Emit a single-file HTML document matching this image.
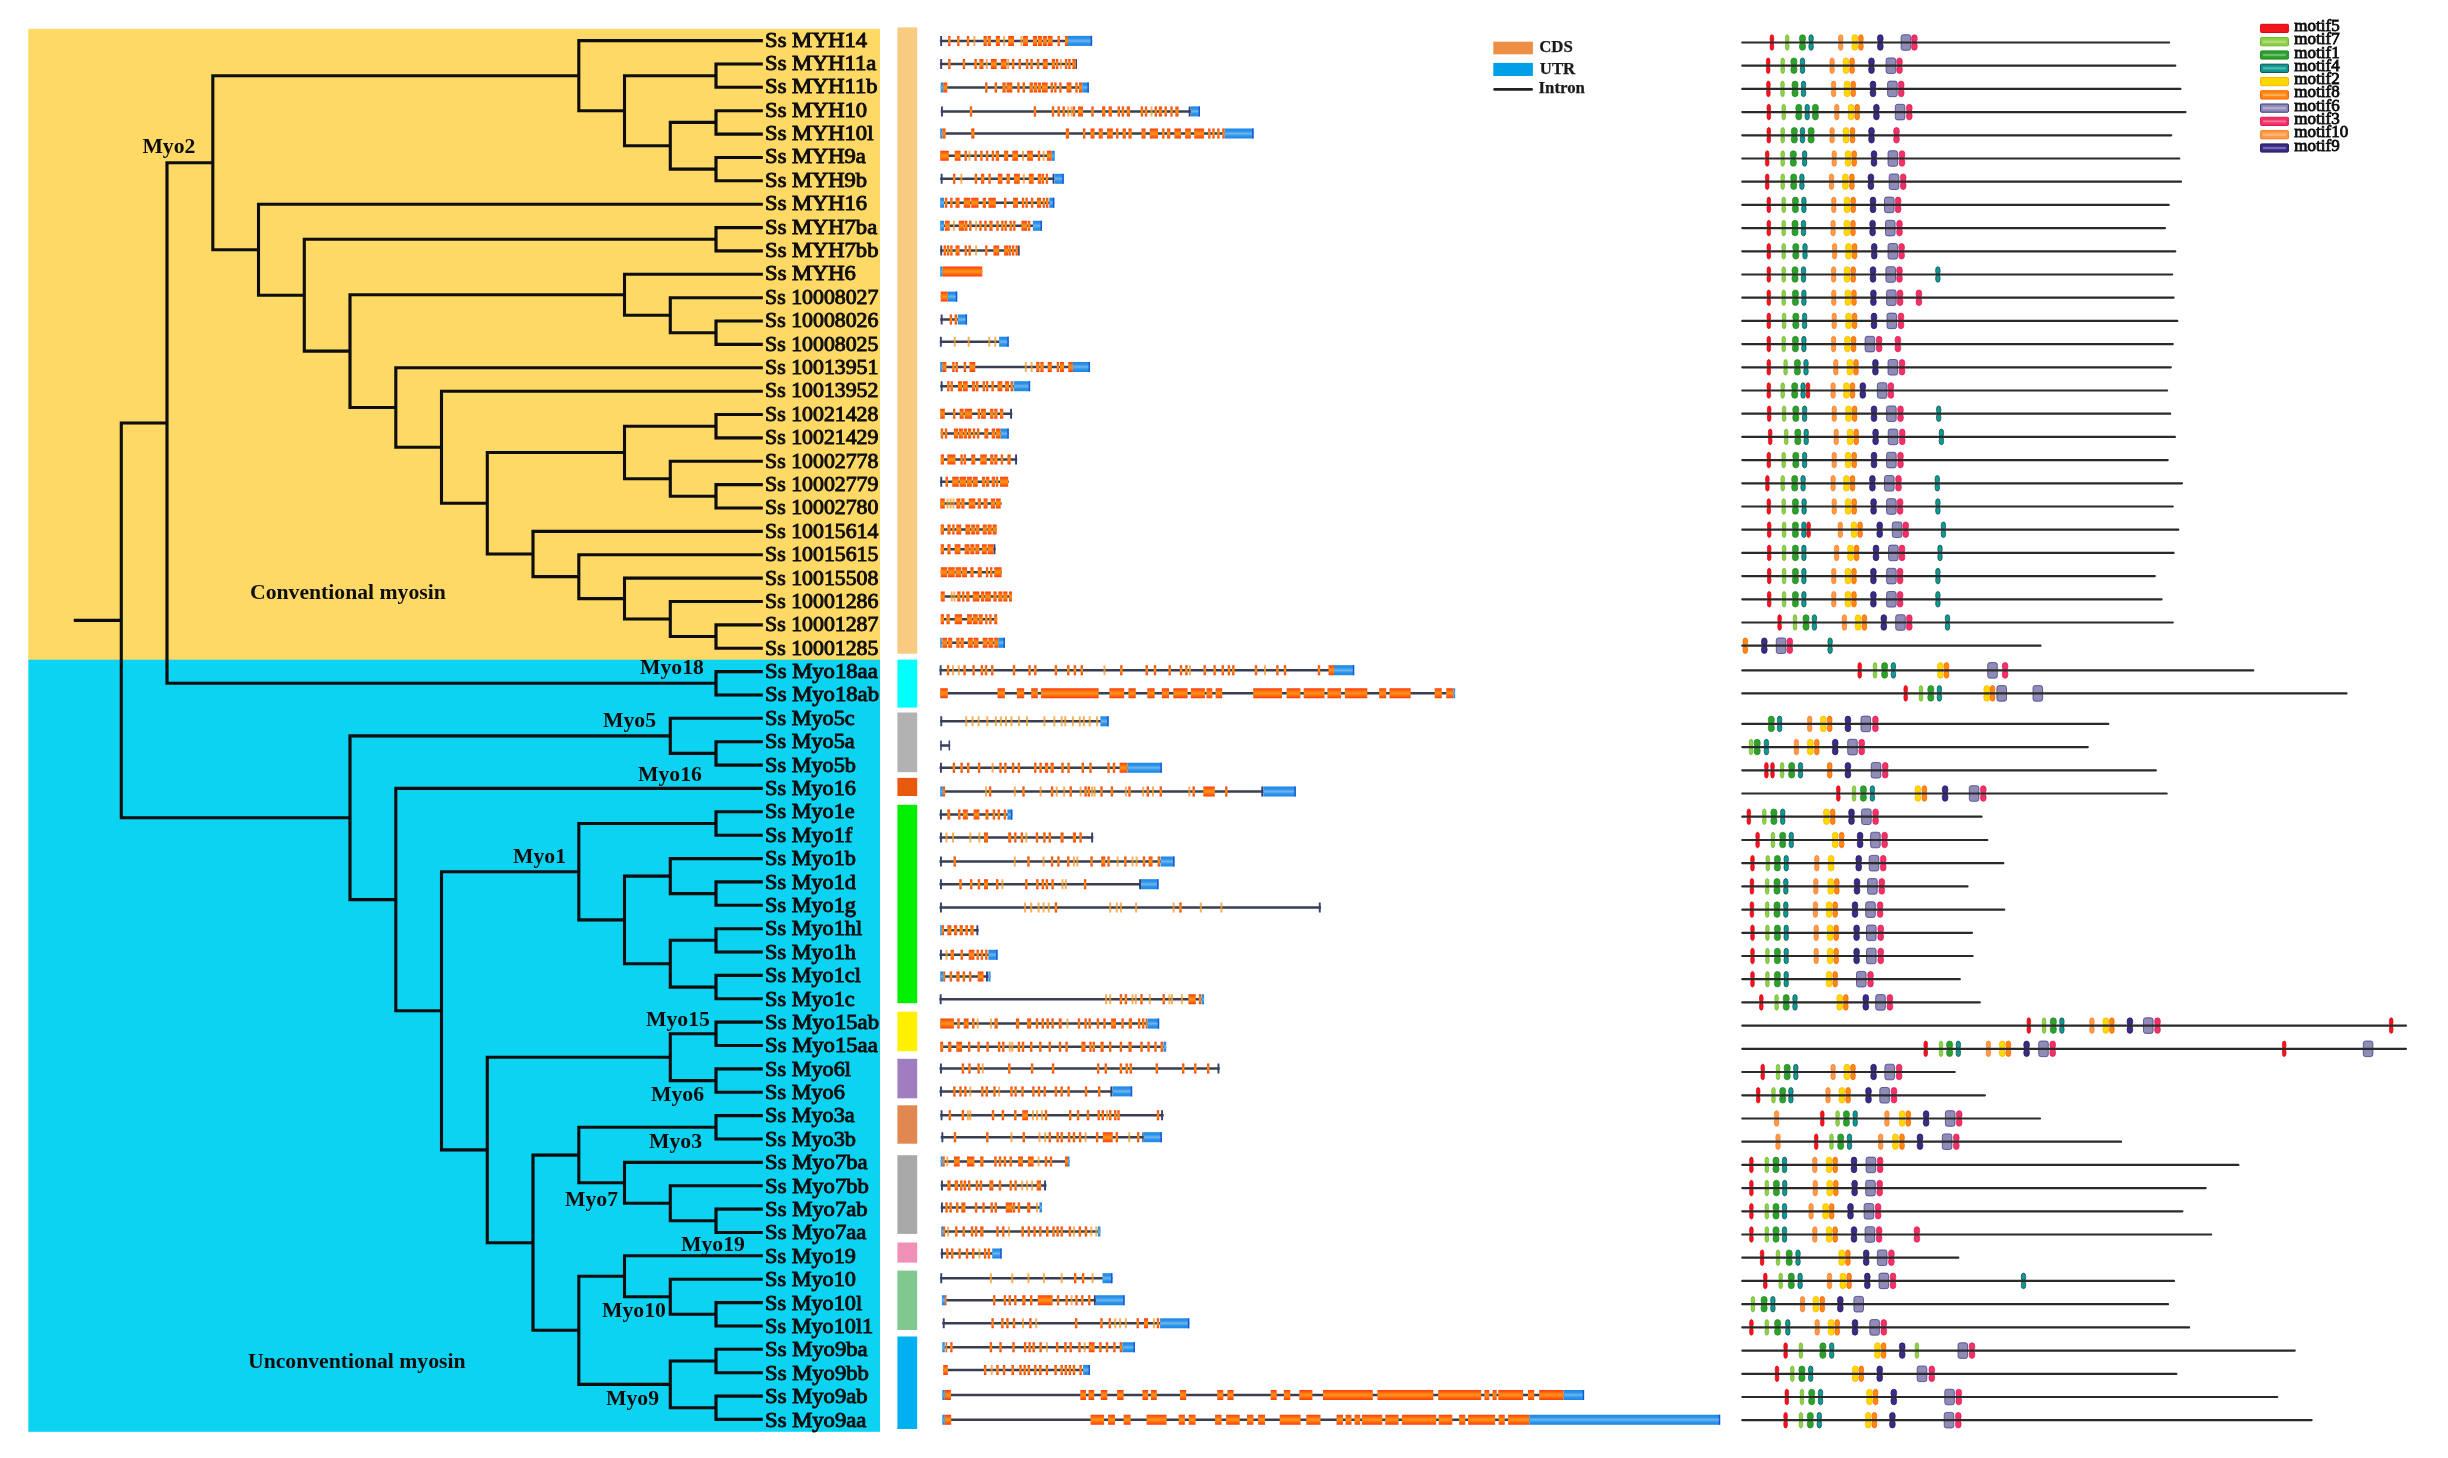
<!DOCTYPE html>
<html lang="en"><head><meta charset="utf-8"><title>Myosin phylogeny, gene structure and motifs</title><style>html,body{margin:0;padding:0;background:#fff}svg{display:block}</style></head><body>
<svg width="2448" height="1458" viewBox="0 0 2448 1458">
<defs><filter id="b1" x="-2%" y="-2%" width="104%" height="104%"><feGaussianBlur stdDeviation="0.7"/></filter><filter id="b2" x="-2%" y="-2%" width="104%" height="104%"><feGaussianBlur stdDeviation="0.55"/></filter><filter id="b3" x="-2%" y="-2%" width="104%" height="104%"><feGaussianBlur stdDeviation="0.45"/></filter><linearGradient id="gc" x1="0" y1="0" x2="0" y2="1"><stop offset="0" stop-color="#ff3a0c"/><stop offset="0.3" stop-color="#ff7410"/><stop offset="0.5" stop-color="#f79418"/><stop offset="0.7" stop-color="#ff7410"/><stop offset="1" stop-color="#ff3a0c"/></linearGradient><linearGradient id="gf" x1="0" y1="0" x2="0" y2="1"><stop offset="0" stop-color="#ff9a30"/><stop offset="0.5" stop-color="#f0a028"/><stop offset="1" stop-color="#ff9a30"/></linearGradient><linearGradient id="gu" x1="0" y1="0" x2="0" y2="1"><stop offset="0" stop-color="#1b84e6"/><stop offset="0.28" stop-color="#2f96ea"/><stop offset="0.5" stop-color="#70b5ee"/><stop offset="0.72" stop-color="#2f96ea"/><stop offset="1" stop-color="#1b84e6"/></linearGradient></defs>
<rect width="2448" height="1458" fill="#fff"/>
<g filter="url(#b3)">
<rect x="28.3" y="28.8" width="851.7" height="631.5" fill="#ffd966"/>
<rect x="28.3" y="659.7" width="851.7" height="772.1" fill="#0bd3f3"/>
<rect x="897.4" y="27.4" width="19.8" height="626.3" fill="#f8cb80"/>
<rect x="897.4" y="659.6" width="19.8" height="48" fill="#00ffff"/>
<rect x="897.4" y="712.5" width="19.8" height="59.7" fill="#b2b2b2"/>
<rect x="897.4" y="777.9" width="19.8" height="18.1" fill="#e8590c"/>
<rect x="897.4" y="804.8" width="19.8" height="198.4" fill="#00f000"/>
<rect x="897.4" y="1011.7" width="19.8" height="39.5" fill="#fff100"/>
<rect x="897.4" y="1058.8" width="19.8" height="39.5" fill="#a07dbe"/>
<rect x="897.4" y="1105.3" width="19.8" height="38.4" fill="#e08850"/>
<rect x="897.4" y="1155.2" width="19.8" height="78.7" fill="#a8a8a8"/>
<rect x="897.4" y="1242.5" width="19.8" height="20.1" fill="#f090b8"/>
<rect x="897.4" y="1270.6" width="19.8" height="59.4" fill="#80c890"/>
<rect x="897.4" y="1336.5" width="19.8" height="92.5" fill="#00b0f0"/>
</g>
<g stroke="#0a0a0a" stroke-width="3.1" stroke-linecap="square" fill="none" filter="url(#b3)">
<path d="M716 64L716 87.3M716 64L761.3 64M716 87.3L761.3 87.3M716 110.7L716 134.1M716 110.7L761.3 110.7M716 134.1L761.3 134.1M716 157.5L716 180.8M716 157.5L761.3 157.5M716 180.8L761.3 180.8M670.3 122.4L670.3 169.1M670.3 122.4L716 122.4M670.3 169.1L716 169.1M624.5 75.7L624.5 145.8M624.5 75.7L716 75.7M624.5 145.8L670.3 145.8M578.8 40.6L578.8 110.7M578.8 40.6L761.3 40.6M578.8 110.7L624.5 110.7M716 227.6L716 250.9M716 227.6L761.3 227.6M716 250.9L761.3 250.9M716 321L716 344.4M716 321L761.3 321M716 344.4L761.3 344.4M670.3 297.7L670.3 332.7M670.3 297.7L761.3 297.7M670.3 332.7L716 332.7M624.5 274.3L624.5 315.2M624.5 274.3L761.3 274.3M624.5 315.2L670.3 315.2M716 414.5L716 437.9M716 414.5L761.3 414.5M716 437.9L761.3 437.9M716 484.6L716 508M716 484.6L761.3 484.6M716 508L761.3 508M670.3 461.3L670.3 496.3M670.3 461.3L761.3 461.3M670.3 496.3L716 496.3M624.5 426.2L624.5 478.8M624.5 426.2L716 426.2M624.5 478.8L670.3 478.8M716 624.9L716 648.2M716 624.9L761.3 624.9M716 648.2L761.3 648.2M670.3 601.5L670.3 636.5M670.3 601.5L761.3 601.5M670.3 636.5L716 636.5M624.5 578.1L624.5 619M624.5 578.1L761.3 578.1M624.5 619L670.3 619M578.8 554.7L578.8 598.6M578.8 554.7L761.3 554.7M578.8 598.6L624.5 598.6M533 531.4L533 576.6M533 531.4L761.3 531.4M533 576.6L578.8 576.6M487.3 452.5L487.3 554M487.3 452.5L624.5 452.5M487.3 554L533 554M441.5 391.2L441.5 503.3M441.5 391.2L761.3 391.2M441.5 503.3L487.3 503.3M395.8 367.8L395.8 447.2M395.8 367.8L761.3 367.8M395.8 447.2L441.5 447.2M350 294.7L350 407.5M350 294.7L624.5 294.7M350 407.5L395.8 407.5M304.3 239.2L304.3 351.1M304.3 239.2L716 239.2M304.3 351.1L350 351.1M258.5 204.2L258.5 295.2M258.5 204.2L761.3 204.2M258.5 295.2L304.3 295.2M212.8 75.7L212.8 249.7M212.8 75.7L578.8 75.7M212.8 249.7L258.5 249.7M716 671.6L716 695M716 671.6L761.3 671.6M716 695L761.3 695M167 162.7L167 683.3M167 162.7L212.8 162.7M167 683.3L716 683.3M716 741.7L716 765.1M716 741.7L761.3 741.7M716 765.1L761.3 765.1M670.3 718.3L670.3 753.4M670.3 718.3L761.3 718.3M670.3 753.4L716 753.4M716 811.8L716 835.2M716 811.8L761.3 811.8M716 835.2L761.3 835.2M716 881.9L716 905.3M716 881.9L761.3 881.9M716 905.3L761.3 905.3M670.3 858.6L670.3 893.6M670.3 858.6L761.3 858.6M670.3 893.6L716 893.6M716 928.7L716 952M716 928.7L761.3 928.7M716 952L761.3 952M716 975.4L716 998.8M716 975.4L761.3 975.4M716 998.8L761.3 998.8M670.3 940.3L670.3 987.1M670.3 940.3L716 940.3M670.3 987.1L716 987.1M624.5 876.1L624.5 963.7M624.5 876.1L670.3 876.1M624.5 963.7L670.3 963.7M578.8 823.5L578.8 919.9M578.8 823.5L716 823.5M578.8 919.9L624.5 919.9M716 1022.1L716 1045.5M716 1022.1L761.3 1022.1M716 1045.5L761.3 1045.5M716 1068.9L716 1092.2M716 1068.9L761.3 1068.9M716 1092.2L761.3 1092.2M670.3 1033.8L670.3 1080.6M670.3 1033.8L716 1033.8M670.3 1080.6L716 1080.6M716 1115.6L716 1139M716 1115.6L761.3 1115.6M716 1139L761.3 1139M716 1209.1L716 1232.5M716 1209.1L761.3 1209.1M716 1232.5L761.3 1232.5M670.3 1185.7L670.3 1220.8M670.3 1185.7L761.3 1185.7M670.3 1220.8L716 1220.8M624.5 1162.4L624.5 1203.3M624.5 1162.4L761.3 1162.4M624.5 1203.3L670.3 1203.3M578.8 1127.3L578.8 1182.8M578.8 1127.3L716 1127.3M578.8 1182.8L624.5 1182.8M716 1302.6L716 1326M716 1302.6L761.3 1302.6M716 1326L761.3 1326M670.3 1279.2L670.3 1314.3M670.3 1279.2L761.3 1279.2M670.3 1314.3L716 1314.3M624.5 1255.8L624.5 1296.7M624.5 1255.8L761.3 1255.8M624.5 1296.7L670.3 1296.7M716 1349.3L716 1372.7M716 1349.3L761.3 1349.3M716 1372.7L761.3 1372.7M716 1396.1L716 1419.4M716 1396.1L761.3 1396.1M716 1419.4L761.3 1419.4M670.3 1361L670.3 1407.7M670.3 1361L716 1361M670.3 1407.7L716 1407.7M578.8 1276.3L578.8 1384.4M578.8 1276.3L624.5 1276.3M578.8 1384.4L670.3 1384.4M533 1155.1L533 1330.3M533 1155.1L578.8 1155.1M533 1330.3L578.8 1330.3M487.3 1057.2L487.3 1242.7M487.3 1057.2L670.3 1057.2M487.3 1242.7L533 1242.7M441.5 871.7L441.5 1149.9M441.5 871.7L578.8 871.7M441.5 1149.9L487.3 1149.9M395.8 788.4L395.8 1010.8M395.8 788.4L761.3 788.4M395.8 1010.8L441.5 1010.8M350 735.9L350 899.6M350 735.9L670.3 735.9M350 899.6L395.8 899.6M121.3 423L121.3 817.7M121.3 423L167 423M121.3 817.7L350 817.7M75.3 620.4L121.3 620.4"/>
</g>
<g font-family="'Liberation Serif', 'Times New Roman', serif" font-size="20.5" fill="#0a0a0a" stroke="#0a0a0a" stroke-width="0.9" filter="url(#b3)">
<text transform="translate(765.1 46.5) scale(1.1 1)">Ss MYH14</text>
<text transform="translate(765.1 69.9) scale(1.1 1)">Ss MYH11a</text>
<text transform="translate(765.1 93.3) scale(1.1 1)">Ss MYH11b</text>
<text transform="translate(765.1 116.7) scale(1.1 1)">Ss MYH10</text>
<text transform="translate(765.1 140.1) scale(1.1 1)">Ss MYH10l</text>
<text transform="translate(765.1 163.4) scale(1.1 1)">Ss MYH9a</text>
<text transform="translate(765.1 186.8) scale(1.1 1)">Ss MYH9b</text>
<text transform="translate(765.1 210.2) scale(1.1 1)">Ss MYH16</text>
<text transform="translate(765.1 233.6) scale(1.1 1)">Ss MYH7ba</text>
<text transform="translate(765.1 257) scale(1.1 1)">Ss MYH7bb</text>
<text transform="translate(765.1 280.4) scale(1.1 1)">Ss MYH6</text>
<text transform="translate(765.1 303.8) scale(1.065 1)">Ss 10008027</text>
<text transform="translate(765.1 327.2) scale(1.065 1)">Ss 10008026</text>
<text transform="translate(765.1 350.6) scale(1.065 1)">Ss 10008025</text>
<text transform="translate(765.1 374) scale(1.065 1)">Ss 10013951</text>
<text transform="translate(765.1 397.4) scale(1.065 1)">Ss 10013952</text>
<text transform="translate(765.1 420.7) scale(1.065 1)">Ss 10021428</text>
<text transform="translate(765.1 444.1) scale(1.065 1)">Ss 10021429</text>
<text transform="translate(765.1 467.5) scale(1.065 1)">Ss 10002778</text>
<text transform="translate(765.1 490.9) scale(1.065 1)">Ss 10002779</text>
<text transform="translate(765.1 514.3) scale(1.065 1)">Ss 10002780</text>
<text transform="translate(765.1 537.7) scale(1.065 1)">Ss 10015614</text>
<text transform="translate(765.1 561.1) scale(1.065 1)">Ss 10015615</text>
<text transform="translate(765.1 584.5) scale(1.065 1)">Ss 10015508</text>
<text transform="translate(765.1 607.9) scale(1.065 1)">Ss 10001286</text>
<text transform="translate(765.1 631.2) scale(1.065 1)">Ss 10001287</text>
<text transform="translate(765.1 654.6) scale(1.065 1)">Ss 10001285</text>
<text transform="translate(765.1 678) scale(1.105 1)">Ss Myo18aa</text>
<text transform="translate(765.1 701.4) scale(1.105 1)">Ss Myo18ab</text>
<text transform="translate(765.1 724.8) scale(1.085 1)">Ss Myo5c</text>
<text transform="translate(765.1 748.2) scale(1.085 1)">Ss Myo5a</text>
<text transform="translate(765.1 771.6) scale(1.085 1)">Ss Myo5b</text>
<text transform="translate(765.1 795) scale(1.085 1)">Ss Myo16</text>
<text transform="translate(765.1 818.4) scale(1.085 1)">Ss Myo1e</text>
<text transform="translate(765.1 841.8) scale(1.085 1)">Ss Myo1f</text>
<text transform="translate(765.1 865.1) scale(1.085 1)">Ss Myo1b</text>
<text transform="translate(765.1 888.5) scale(1.085 1)">Ss Myo1d</text>
<text transform="translate(765.1 911.9) scale(1.085 1)">Ss Myo1g</text>
<text transform="translate(765.1 935.3) scale(1.085 1)">Ss Myo1hl</text>
<text transform="translate(765.1 958.7) scale(1.085 1)">Ss Myo1h</text>
<text transform="translate(765.1 982.1) scale(1.085 1)">Ss Myo1cl</text>
<text transform="translate(765.1 1005.5) scale(1.085 1)">Ss Myo1c</text>
<text transform="translate(765.1 1028.9) scale(1.105 1)">Ss Myo15ab</text>
<text transform="translate(765.1 1052.3) scale(1.105 1)">Ss Myo15aa</text>
<text transform="translate(765.1 1075.7) scale(1.085 1)">Ss Myo6l</text>
<text transform="translate(765.1 1099) scale(1.085 1)">Ss Myo6</text>
<text transform="translate(765.1 1122.4) scale(1.085 1)">Ss Myo3a</text>
<text transform="translate(765.1 1145.8) scale(1.085 1)">Ss Myo3b</text>
<text transform="translate(765.1 1169.2) scale(1.105 1)">Ss Myo7ba</text>
<text transform="translate(765.1 1192.6) scale(1.105 1)">Ss Myo7bb</text>
<text transform="translate(765.1 1216) scale(1.105 1)">Ss Myo7ab</text>
<text transform="translate(765.1 1239.4) scale(1.105 1)">Ss Myo7aa</text>
<text transform="translate(765.1 1262.8) scale(1.085 1)">Ss Myo19</text>
<text transform="translate(765.1 1286.2) scale(1.085 1)">Ss Myo10</text>
<text transform="translate(765.1 1309.6) scale(1.085 1)">Ss Myo10l</text>
<text transform="translate(765.1 1333) scale(1.085 1)">Ss Myo10l1</text>
<text transform="translate(765.1 1356.3) scale(1.105 1)">Ss Myo9ba</text>
<text transform="translate(765.1 1379.7) scale(1.105 1)">Ss Myo9bb</text>
<text transform="translate(765.1 1403.1) scale(1.105 1)">Ss Myo9ab</text>
<text transform="translate(765.1 1426.5) scale(1.105 1)">Ss Myo9aa</text>
</g>
<g font-family="'Liberation Serif', 'Times New Roman', serif" font-weight="bold" font-size="21.7" fill="#111" filter="url(#b3)">
<text x="142.4" y="153.1">Myo2</text>
<text x="250" y="598.5">Conventional myosin</text>
<text x="248" y="1367.5">Unconventional myosin</text>
<text x="640" y="674">Myo18</text>
<text x="603" y="726.8">Myo5</text>
<text x="638" y="781">Myo16</text>
<text x="513" y="862.8">Myo1</text>
<text x="646" y="1026">Myo15</text>
<text x="651" y="1100.5">Myo6</text>
<text x="649" y="1147.5">Myo3</text>
<text x="565" y="1205.5">Myo7</text>
<text x="681" y="1250.5">Myo19</text>
<text x="602" y="1317">Myo10</text>
<text x="606" y="1404.5">Myo9</text>
</g>
<g filter="url(#b1)">
<path d="M939.9 40.9H1092.1M939.9 64.1H1076.5M940.7 87.5H1088.8M940.7 111.4H1200M940.2 133.6H1253.5M940.2 155.8H1054.8M940.2 178.8H1063.7M940.2 202.7H1054.3M940.2 225.8H1041.9M940.2 250.5H1018.9M940.2 271.5H982.3M940.7 296.6H957.2M940.2 319.5H967M939.9 341.7H1008.7M940.2 366.9H1090M940.2 386.2H1030.1M940.2 413.8H1012.3M940.7 433.6H1008.7M940.7 459.6H1017.2M940.2 481.8H1008.7M940.2 503.4H1001.6M940.7 529.4H996.7M940.7 549.2H995.5M940.7 572.2H1001.9M940.7 596.6H1012M940.7 619.2H997.2M940.2 642.7H1004.9M939.5 670.2H1354M940 693.3H1455M940.2 721.3H1108.6M940.2 745.5H950.1M939.5 767.7H1161.8M940.2 791.5H1295.8M939.5 814.6H1012.3M939.5 837.6H1093.3M939.5 861.5H1174.4M939.5 884.2H1158.5M939.5 907.6H1320.9M940.2 930.3H978.6M939.5 954.8H997.5M940.2 976.5H990.6M939.5 999.3H1204.1M940.2 1023.6H1159.1M940.2 1046.7H1166.2M939.5 1068.4H1219.7M939.5 1091.4H1132.1M940.2 1115.3H1163.7M940.7 1137.2H1161.8M940.7 1161.4H1069.6M940.7 1185.5H1046.5M940.7 1207.4H1041.9M941.2 1231.6H1100.4M940.7 1253.5H1001.6M940.2 1278.2H1112.4M941.9 1300.2H1124.6M942.3 1323.3H1189.3M942.3 1347.3H1134.9M943.2 1369.9H1090M942.3 1395H1584M942.3 1419.7H1720" stroke="#3a3e52" stroke-width="2.5" fill="none"/>
<path d="M940.2 35.9h1.9v10h-1.9zM940.2 59.1h1.9v10h-1.9zM1075.7 59.1h1.3v10h-1.3zM941 106.4h1.9v10h-1.9zM1188.7 106.4h1.9v10h-1.9zM940.7 173.8h1.9v10h-1.9zM1052.6 173.8h1.6v10h-1.6zM940.3 245.5h1.9v10h-1.9zM1018.1 245.5h1.6v10h-1.6zM940.7 314.5h1.9v10h-1.9zM939.9 336.7h1.9v10h-1.9zM940.7 381.2h1.9v10h-1.9zM1010.1 408.8h1.9v10h-1.9zM1015.1 454.6h1.9v10h-1.9zM940.3 476.8h1.9v10h-1.9zM993.5 544.2h1.9v10h-1.9zM939.7 665.2h1.9v10h-1.9zM940.3 716.3h1.9v10h-1.9zM940.2 740.5h1.6v10h-1.6zM948.6 740.5h1.5v10h-1.5zM940 762.7h1.9v10h-1.9zM1261.3 786.5h1.9v10h-1.9zM940 809.6h1.9v10h-1.9zM940 832.6h1.9v10h-1.9zM1091.2 832.6h1.9v10h-1.9zM940 856.5h1.9v10h-1.9zM940 879.2h1.9v10h-1.9zM1139.1 879.2h1.9v10h-1.9zM940 902.6h1.9v10h-1.9zM1318.8 902.6h1.9v10h-1.9zM976.4 925.3h1.9v10h-1.9zM940 949.8h1.9v10h-1.9zM986 971.5h1.9v10h-1.9zM939.7 994.3h1.9v10h-1.9zM940 1063.4h1.9v10h-1.9zM1217.5 1063.4h1.9v10h-1.9zM940 1086.4h1.9v10h-1.9zM1110.4 1086.4h1.9v10h-1.9zM940.6 1110.3h1.9v10h-1.9zM1161.1 1110.3h1.9v10h-1.9zM941.4 1132.2h1.9v10h-1.9zM1142.3 1132.2h1.3v10h-1.3zM941 1180.5h1.9v10h-1.9zM1044.1 1180.5h1.9v10h-1.9zM941 1202.4h1.9v10h-1.9zM941 1248.5h1.9v10h-1.9zM940.3 1273.2h1.9v10h-1.9zM1093.9 1295.2h1.9v10h-1.9zM942.8 1318.3h1.9v10h-1.9z" fill="#34406e"/>
<path d="M973.4 35.9h2v10h-2zM1003.1 35.9h2v10h-2zM1020.4 35.9h2v10h-2z" fill="url(#gf)" opacity="0.8"/>
<path d="M948.1 35.9h2.4v10h-2.4zM957.1 35.9h2.4v10h-2.4zM966.8 35.9h2.4v10h-2.4zM983.5 35.9h3.3v10h-3.3zM987.6 35.9h3.3v10h-3.3zM995.8 35.9h4.1v10h-4.1zM1008.2 35.9h5.8v10h-5.8zM1023 35.9h4.9v10h-4.9zM1032.9 35.9h4.1v10h-4.1zM1037.8 35.9h4.1v10h-4.1zM1042.8 35.9h4.1v10h-4.1zM1047.7 35.9h4.9v10h-4.9zM1057.5 35.9h2.4v10h-2.4zM1065 35.9h3v10h-3z" fill="url(#gc)"/>
<path d="M1067.9 35.9h24.2v10h-24.2z" fill="url(#gu)"/>
<path d="M1090.7 35.9h1.4v10h-1.4z" fill="#1656d8"/>
<path d="M985.8 59.1h2v10h-2zM1007.2 59.1h2v10h-2zM1059.9 59.1h2v10h-2z" fill="url(#gf)" opacity="0.8"/>
<path d="M948.1 59.1h2.4v10h-2.4zM962.7 59.1h2.4v10h-2.4zM974.4 59.1h2.4v10h-2.4zM979.4 59.1h4.1v10h-4.1zM990.9 59.1h5.8v10h-5.8zM1000.8 59.1h5.8v10h-5.8zM1011.9 59.1h2.4v10h-2.4zM1018.5 59.1h2.4v10h-2.4zM1025.9 59.1h2.4v10h-2.4zM1030.4 59.1h2.4v10h-2.4zM1036.9 59.1h2.4v10h-2.4zM1042.8 59.1h4.9v10h-4.9zM1051.8 59.1h3.3v10h-3.3zM1055.9 59.1h2.4v10h-2.4zM1064.9 59.1h2.4v10h-2.4zM1068.2 59.1h2.4v10h-2.4zM1072.4 59.1h3.3v10h-3.3z" fill="url(#gc)"/>
<path d="M943.2 82.5h4.1v10h-4.1zM985.1 82.5h2.4v10h-2.4zM994.6 82.5h2.4v10h-2.4zM1002.4 82.5h3.3v10h-3.3zM1006.5 82.5h5.8v10h-5.8zM1017.2 82.5h2.4v10h-2.4zM1022.6 82.5h2.4v10h-2.4zM1029.6 82.5h3.3v10h-3.3zM1033.7 82.5h3.3v10h-3.3zM1037.8 82.5h3.3v10h-3.3zM1041.9 82.5h5.8v10h-5.8zM1050.6 82.5h2.4v10h-2.4zM1054.2 82.5h2.4v10h-2.4zM1059.2 82.5h2.4v10h-2.4zM1066.6 82.5h4.9v10h-4.9zM1075.3 82.5h2.4v10h-2.4zM1079 82.5h3.3v10h-3.3z" fill="url(#gc)"/>
<path d="M940.7 82.5h2.5v10h-2.5zM1082.3 82.5h6.6v10h-6.6z" fill="url(#gu)"/>
<path d="M1087.4 82.5h1.4v10h-1.4z" fill="#1656d8"/>
<path d="M1067.3 106.4h2v10h-2zM1070.6 106.4h2v10h-2zM1150.4 106.4h2v10h-2z" fill="url(#gf)" opacity="0.8"/>
<path d="M969.8 106.4h2.4v10h-2.4zM1033.7 106.4h2.4v10h-2.4zM1051.8 106.4h2.4v10h-2.4zM1057.5 106.4h2.4v10h-2.4zM1062.5 106.4h2.4v10h-2.4zM1072.8 106.4h2.4v10h-2.4zM1078.1 106.4h4.9v10h-4.9zM1091.3 106.4h2.4v10h-2.4zM1102 106.4h3.3v10h-3.3zM1108.6 106.4h3.3v10h-3.3zM1117.6 106.4h2.4v10h-2.4zM1121.7 106.4h2.4v10h-2.4zM1126.7 106.4h3.3v10h-3.3zM1140.7 106.4h2.4v10h-2.4zM1144.8 106.4h2.4v10h-2.4zM1154.6 106.4h2.4v10h-2.4zM1158.8 106.4h3.3v10h-3.3zM1164.5 106.4h2.4v10h-2.4zM1170.3 106.4h2.4v10h-2.4zM1175.3 106.4h3.3v10h-3.3z" fill="url(#gc)"/>
<path d="M1190.9 106.4h9.1v10h-9.1z" fill="url(#gu)"/>
<path d="M1198.6 106.4h1.4v10h-1.4z" fill="#1656d8"/>
<path d="M942.3 128.6h3.3v10h-3.3zM971.2 128.6h3.3v10h-3.3zM1065.8 128.6h3.3v10h-3.3zM1083 128.6h2.4v10h-2.4zM1090.5 128.6h4.1v10h-4.1zM1098.7 128.6h4.1v10h-4.1zM1107 128.6h5.8v10h-5.8zM1116 128.6h2.4v10h-2.4zM1122.6 128.6h3.3v10h-3.3zM1128.4 128.6h3.3v10h-3.3zM1141.5 128.6h4.1v10h-4.1zM1149.8 128.6h8.2v10h-8.2zM1162.1 128.6h2.4v10h-2.4zM1167 128.6h3.3v10h-3.3zM1174.4 128.6h6.6v10h-6.6zM1185.1 128.6h5.8v10h-5.8zM1194.2 128.6h9.9v10h-9.9zM1208.1 128.6h2.4v10h-2.4zM1212.3 128.6h2.4v10h-2.4zM1217.2 128.6h2.4v10h-2.4zM1222.2 128.6h2.5v10h-2.5z" fill="url(#gc)"/>
<path d="M940.2 128.6h2.1v10h-2.1zM1224.7 128.6h28.8v10h-28.8z" fill="url(#gu)"/>
<path d="M1252.1 128.6h1.4v10h-1.4z" fill="#1656d8"/>
<path d="M968.5 150.8h2v10h-2zM1022 150.8h2v10h-2zM1042.6 150.8h2v10h-2z" fill="url(#gf)" opacity="0.8"/>
<path d="M940.2 150.8h6.3v10h-6.3zM946.4 150.8h2.4v10h-2.4zM954.7 150.8h5.8v10h-5.8zM964.5 150.8h2.4v10h-2.4zM974.4 150.8h2.4v10h-2.4zM980.2 150.8h2.4v10h-2.4zM985.9 150.8h2.4v10h-2.4zM991.7 150.8h2.4v10h-2.4zM995.8 150.8h3.3v10h-3.3zM1004.1 150.8h4.1v10h-4.1zM1012.3 150.8h5.8v10h-5.8zM1027.1 150.8h5.8v10h-5.8zM1037.8 150.8h2.4v10h-2.4zM1046.9 150.8h4.9v10h-4.9z" fill="url(#gc)"/>
<path d="M1051.8 150.8h3v10h-3z" fill="url(#gu)"/>
<path d="M960.3 173.8h2v10h-2zM1022.8 173.8h2v10h-2z" fill="url(#gf)" opacity="0.8"/>
<path d="M953 173.8h2.4v10h-2.4zM974.7 173.8h2.4v10h-2.4zM981 173.8h3.3v10h-3.3zM988.4 173.8h2.4v10h-2.4zM997.8 173.8h4.6v10h-4.6zM1006.5 173.8h3.3v10h-3.3zM1014 173.8h5.8v10h-5.8zM1028.8 173.8h4.9v10h-4.9zM1037.8 173.8h3.3v10h-3.3zM1041.6 173.8h2.4v10h-2.4zM1045.7 173.8h2.4v10h-2.4z" fill="url(#gc)"/>
<path d="M1054.3 173.8h9.4v10h-9.4z" fill="url(#gu)"/>
<path d="M1062.3 173.8h1.4v10h-1.4z" fill="#1656d8"/>
<path d="M944.8 197.7h2.5v10h-2.5zM950.2 197.7h2.4v10h-2.4zM955.5 197.7h4.1v10h-4.1zM963.7 197.7h6.6v10h-6.6zM971.2 197.7h7.4v10h-7.4zM982.7 197.7h3.3v10h-3.3zM988.4 197.7h7.4v10h-7.4zM1004 197.7h2.4v10h-2.4zM1013.1 197.7h4.9v10h-4.9zM1021.8 197.7h2.4v10h-2.4zM1025.4 197.7h2.4v10h-2.4zM1030.9 197.7h2.4v10h-2.4zM1037 197.7h4.1v10h-4.1zM1042.7 197.7h2.4v10h-2.4zM1046 197.7h2.4v10h-2.4z" fill="url(#gc)"/>
<path d="M940.2 197.7h3.8v10h-3.8zM1049.3 197.7h4.9v10h-4.9z" fill="url(#gu)"/>
<path d="M1052.9 197.7h1.4v10h-1.4z" fill="#1656d8"/>
<path d="M952.9 220.8h2v10h-2zM975.1 220.8h2v10h-2z" fill="url(#gf)" opacity="0.8"/>
<path d="M944.8 220.8h4.9v10h-4.9zM958.8 220.8h5.8v10h-5.8zM965 220.8h2.4v10h-2.4zM969.1 220.8h2.4v10h-2.4zM979.3 220.8h2.4v10h-2.4zM984.3 220.8h2.4v10h-2.4zM989.3 220.8h3.3v10h-3.3zM996.3 220.8h2.4v10h-2.4zM1001.2 220.8h2.4v10h-2.4zM1004.5 220.8h2.4v10h-2.4zM1009.5 220.8h2.4v10h-2.4zM1013.1 220.8h2.4v10h-2.4zM1021.4 220.8h5.8v10h-5.8zM1027.9 220.8h2.4v10h-2.4z" fill="url(#gc)"/>
<path d="M940.2 220.8h3.8v10h-3.8zM1032.9 220.8h9.1v10h-9.1z" fill="url(#gu)"/>
<path d="M1040.5 220.8h1.4v10h-1.4z" fill="#1656d8"/>
<path d="M975.1 245.5h2v10h-2z" fill="url(#gf)" opacity="0.8"/>
<path d="M943.6 245.5h2.4v10h-2.4zM946.9 245.5h2.4v10h-2.4zM950.2 245.5h2.4v10h-2.4zM955.5 245.5h4.1v10h-4.1zM964.5 245.5h2.4v10h-2.4zM968.5 245.5h2.4v10h-2.4zM985.1 245.5h2.4v10h-2.4zM993.4 245.5h5.8v10h-5.8zM1004.1 245.5h4.1v10h-4.1zM1008.6 245.5h2.4v10h-2.4zM1011.9 245.5h2.4v10h-2.4zM1015.5 245.5h2.4v10h-2.4z" fill="url(#gc)"/>
<path d="M942.3 266.5h40v10h-40z" fill="url(#gc)"/>
<path d="M940.2 266.5h2.1v10h-2.1z" fill="url(#gu)"/>
<path d="M940.7 291.6h7.1v10h-7.1z" fill="url(#gc)"/>
<path d="M947.8 291.6h9.4v10h-9.4z" fill="url(#gu)"/>
<path d="M955.8 291.6h1.4v10h-1.4z" fill="#1656d8"/>
<path d="M949.7 314.5h2.4v10h-2.4zM954.6 314.5h2.4v10h-2.4z" fill="url(#gc)"/>
<path d="M957.7 314.5h9.4v10h-9.4z" fill="url(#gu)"/>
<path d="M965.6 314.5h1.4v10h-1.4z" fill="#1656d8"/>
<path d="M953.7 336.7h2v10h-2zM967.7 336.7h2v10h-2zM988.3 336.7h2v10h-2zM994.3 336.7h2v10h-2z" fill="url(#gf)" opacity="0.8"/>
<path d="M999.1 336.7h9.5v10h-9.5z" fill="url(#gu)"/>
<path d="M1007.3 336.7h1.4v10h-1.4z" fill="#1656d8"/>
<path d="M1024.8 361.9h2v10h-2zM1030.6 361.9h2v10h-2z" fill="url(#gf)" opacity="0.8"/>
<path d="M942.3 361.9h4.1v10h-4.1zM952.2 361.9h2.4v10h-2.4zM955.5 361.9h2.4v10h-2.4zM963.7 361.9h2.4v10h-2.4zM969.5 361.9h5.8v10h-5.8zM1036.2 361.9h3.3v10h-3.3zM1040.3 361.9h3.3v10h-3.3zM1047.7 361.9h4.1v10h-4.1zM1056.7 361.9h2.4v10h-2.4zM1060 361.9h4.1v10h-4.1zM1068.3 361.9h4.6v10h-4.6z" fill="url(#gc)"/>
<path d="M940.2 361.9h2.1v10h-2.1zM1072.9 361.9h17.1v10h-17.1z" fill="url(#gu)"/>
<path d="M1088.6 361.9h1.4v10h-1.4z" fill="#1656d8"/>
<path d="M947.1 381.2h2.4v10h-2.4zM950.5 381.2h2.4v10h-2.4zM958 381.2h4.1v10h-4.1zM962.9 381.2h4.9v10h-4.9zM972 381.2h3.3v10h-3.3zM976 381.2h2.4v10h-2.4zM982.6 381.2h2.4v10h-2.4zM985.9 381.2h2.4v10h-2.4zM991.4 381.2h2.4v10h-2.4zM997.5 381.2h4.9v10h-4.9zM1004.9 381.2h4.1v10h-4.1zM1010.6 381.2h2.4v10h-2.4z" fill="url(#gc)"/>
<path d="M1013.6 381.2h16.5v10h-16.5z" fill="url(#gu)"/>
<path d="M1028.7 381.2h1.4v10h-1.4z" fill="#1656d8"/>
<path d="M940.2 408.8h4.6v10h-4.6zM953 408.8h2.4v10h-2.4zM959.6 408.8h4.1v10h-4.1zM964.6 408.8h7.4v10h-7.4zM977.7 408.8h2.4v10h-2.4zM981 408.8h4.9v10h-4.9zM990.1 408.8h3.3v10h-3.3zM994.2 408.8h3.3v10h-3.3zM1000 408.8h3.3v10h-3.3z" fill="url(#gc)"/>
<path d="M940.7 428.6h2.5v10h-2.5zM944.8 428.6h2.4v10h-2.4zM953.9 428.6h4.1v10h-4.1zM958.8 428.6h4.1v10h-4.1zM963.7 428.6h3.3v10h-3.3zM967.9 428.6h3.3v10h-3.3zM972.8 428.6h2.4v10h-2.4zM976.9 428.6h2.4v10h-2.4zM984.3 428.6h4.1v10h-4.1zM991.7 428.6h3.3v10h-3.3zM995.8 428.6h4.9v10h-4.9z" fill="url(#gc)"/>
<path d="M1000.8 428.6h7.9v10h-7.9z" fill="url(#gu)"/>
<path d="M1007.3 428.6h1.4v10h-1.4z" fill="#1656d8"/>
<path d="M940.7 454.6h3.3v10h-3.3zM947.3 454.6h8.2v10h-8.2zM960.4 454.6h2.4v10h-2.4zM963.7 454.6h2.4v10h-2.4zM971.2 454.6h4.1v10h-4.1zM980.2 454.6h6.6v10h-6.6zM990.1 454.6h3.3v10h-3.3zM994.2 454.6h3.3v10h-3.3zM1000.7 454.6h2.4v10h-2.4zM1007.4 454.6h3.3v10h-3.3z" fill="url(#gc)"/>
<path d="M945.6 476.8h2.4v10h-2.4zM952.2 476.8h6.6v10h-6.6zM959.6 476.8h6.6v10h-6.6zM967 476.8h4.9v10h-4.9zM972.8 476.8h4.9v10h-4.9zM981.9 476.8h3.3v10h-3.3zM986 476.8h3.3v10h-3.3zM991.7 476.8h3.3v10h-3.3zM995.8 476.8h2.4v10h-2.4zM1000 476.8h8.2v10h-8.2z" fill="url(#gc)"/>
<path d="M946.6 498.4h2v10h-2zM949.6 498.4h2v10h-2zM952.5 498.4h2v10h-2z" fill="url(#gf)" opacity="0.8"/>
<path d="M940.2 498.4h4.6v10h-4.6zM956.3 498.4h4.1v10h-4.1zM961.3 498.4h3.3v10h-3.3zM968.7 498.4h6.6v10h-6.6zM977.7 498.4h3.3v10h-3.3zM983.5 498.4h4.1v10h-4.1zM990.9 498.4h4.1v10h-4.1zM995.8 498.4h4.9v10h-4.9z" fill="url(#gc)"/>
<path d="M940.7 524.4h3.3v10h-3.3zM947.3 524.4h3.3v10h-3.3zM952.2 524.4h2.4v10h-2.4zM956.3 524.4h4.9v10h-4.9zM965.4 524.4h4.9v10h-4.9zM971.2 524.4h4.1v10h-4.1zM976.1 524.4h3.3v10h-3.3zM982.7 524.4h4.1v10h-4.1zM987.6 524.4h4.1v10h-4.1zM992.6 524.4h4.1v10h-4.1z" fill="url(#gc)"/>
<path d="M940.7 544.2h3.3v10h-3.3zM947.3 544.2h3.3v10h-3.3zM954.7 544.2h5.8v10h-5.8zM964.6 544.2h4.9v10h-4.9zM970.3 544.2h4.1v10h-4.1zM975.3 544.2h4.1v10h-4.1zM981.9 544.2h4.9v10h-4.9zM987.6 544.2h5.8v10h-5.8z" fill="url(#gc)"/>
<path d="M940.7 567.2h6.6v10h-6.6zM948.1 567.2h6.6v10h-6.6zM955.5 567.2h5.8v10h-5.8zM962.1 567.2h4.9v10h-4.9zM970.3 567.2h3.3v10h-3.3zM977.7 567.2h4.1v10h-4.1zM985.9 567.2h2.4v10h-2.4zM990 567.2h2.4v10h-2.4zM994.2 567.2h7.4v10h-7.4z" fill="url(#gc)"/>
<path d="M950.7 591.6h2v10h-2zM953.4 591.6h2v10h-2z" fill="url(#gf)" opacity="0.8"/>
<path d="M940.7 591.6h4.1v10h-4.1zM957.2 591.6h3.3v10h-3.3zM962.1 591.6h2.4v10h-2.4zM966.2 591.6h3.3v10h-3.3zM972.8 591.6h6.6v10h-6.6zM981 591.6h3.3v10h-3.3zM985.1 591.6h5.8v10h-5.8zM993.4 591.6h3.3v10h-3.3zM998.3 591.6h4.1v10h-4.1zM1003.3 591.6h4.1v10h-4.1zM1009 591.6h3v10h-3z" fill="url(#gc)"/>
<path d="M940.7 614.2h3.3v10h-3.3zM946.5 614.2h3.3v10h-3.3zM954.7 614.2h7.4v10h-7.4zM967 614.2h4.9v10h-4.9zM972.8 614.2h4.9v10h-4.9zM978.6 614.2h4.1v10h-4.1zM985.1 614.2h2.4v10h-2.4zM989.2 614.2h2.4v10h-2.4zM994.2 614.2h3v10h-3z" fill="url(#gc)"/>
<path d="M942.3 637.7h4.9v10h-4.9zM948.1 637.7h4.1v10h-4.1zM956.3 637.7h3.3v10h-3.3zM960.5 637.7h3.3v10h-3.3zM967.9 637.7h4.9v10h-4.9zM973.6 637.7h4.9v10h-4.9zM982.7 637.7h4.9v10h-4.9zM988.4 637.7h4.9v10h-4.9zM994.2 637.7h4.1v10h-4.1z" fill="url(#gc)"/>
<path d="M940.2 637.7h1.6v10h-1.6zM998.3 637.7h6.6v10h-6.6z" fill="url(#gu)"/>
<path d="M1003.5 637.7h1.4v10h-1.4z" fill="#1656d8"/>
<path d="M952 665.2h2v10h-2zM957.8 665.2h2v10h-2zM1103.5 665.2h2v10h-2zM1189 665.2h2v10h-2zM1264 665.2h2v10h-2z" fill="url(#gf)" opacity="0.8"/>
<path d="M946.9 665.2h2.4v10h-2.4zM963.4 665.2h2.4v10h-2.4zM972.4 665.2h2.4v10h-2.4zM980.7 665.2h2.4v10h-2.4zM984.8 665.2h2.4v10h-2.4zM991 665.2h2.4v10h-2.4zM1012.8 665.2h2.4v10h-2.4zM1028.4 665.2h2.4v10h-2.4zM1034.1 665.2h2.4v10h-2.4zM1054.7 665.2h2.4v10h-2.4zM1067.1 665.2h2.4v10h-2.4zM1073.7 665.2h2.4v10h-2.4zM1080.6 665.2h2.4v10h-2.4zM1120.1 665.2h2.4v10h-2.4zM1145.5 665.2h2.4v10h-2.4zM1153.8 665.2h2.4v10h-2.4zM1168.5 665.2h2.4v10h-2.4zM1179.8 665.2h2.4v10h-2.4zM1185.2 665.2h2.4v10h-2.4zM1203.5 665.2h2.4v10h-2.4zM1213.4 665.2h2.4v10h-2.4zM1221.6 665.2h2.4v10h-2.4zM1227.7 665.2h2.4v10h-2.4zM1232.1 665.2h2.4v10h-2.4zM1254.8 665.2h2.4v10h-2.4zM1276.2 665.2h2.4v10h-2.4zM1283.8 665.2h2.4v10h-2.4zM1317.8 665.2h2.4v10h-2.4zM1328.5 665.2h5.5v10h-5.5z" fill="url(#gc)"/>
<path d="M1334 665.2h20.2v10h-20.2z" fill="url(#gu)"/>
<path d="M1352.8 665.2h1.4v10h-1.4z" fill="#1656d8"/>
<path d="M940.2 688.3h7.6v10h-7.6zM997.5 688.3h7.4v10h-7.4zM1016.9 688.3h7.3v10h-7.3zM1031.2 688.3h6.6v10h-6.6zM1041.1 688.3h57.6v10h-57.6zM1109.4 688.3h14.8v10h-14.8zM1128.4 688.3h7.4v10h-7.4zM1147.3 688.3h7.4v10h-7.4zM1161.8 688.3h7.2v10h-7.2zM1173.3 688.3h14.3v10h-14.3zM1190.9 688.3h14v10h-14zM1206.5 688.3h5.8v10h-5.8zM1215.6 688.3h6.6v10h-6.6zM1253.2 688.3h28.8v10h-28.8zM1286.6 688.3h13.8v10h-13.8zM1303.7 688.3h20.9v10h-20.9zM1327.4 688.3h13.7v10h-13.7zM1344.9 688.3h22.4v10h-22.4zM1379.2 688.3h7v10h-7zM1389.5 688.3h21.2v10h-21.2zM1434.7 688.3h7.1v10h-7.1zM1446.2 688.3h7.3v10h-7.3z" fill="url(#gc)"/>
<path d="M1453.5 688.3h1.7v10h-1.7z" fill="url(#gu)"/>
<path d="M965.2 716.3h2v10h-2zM971.5 716.3h2v10h-2zM977.6 716.3h2v10h-2zM986.3 716.3h2v10h-2zM994.8 716.3h2v10h-2zM999.8 716.3h2v10h-2zM1005 716.3h2v10h-2zM1010.5 716.3h2v10h-2zM1017.9 716.3h2v10h-2zM1026.1 716.3h2v10h-2zM1043.4 716.3h2v10h-2zM1053.3 716.3h2v10h-2zM1060.7 716.3h2v10h-2zM1064.3 716.3h2v10h-2zM1071.9 716.3h2v10h-2zM1078.8 716.3h2v10h-2zM1082.9 716.3h2v10h-2zM1088.7 716.3h2v10h-2zM1096.1 716.3h2v10h-2z" fill="url(#gf)" opacity="0.8"/>
<path d="M1100.4 716.3h8.2v10h-8.2z" fill="url(#gu)"/>
<path d="M1107.2 716.3h1.4v10h-1.4z" fill="#1656d8"/>
<path d="M991.6 762.7h2v10h-2z" fill="url(#gf)" opacity="0.8"/>
<path d="M952.7 762.7h2.4v10h-2.4zM960.4 762.7h2.4v10h-2.4zM967 762.7h2.4v10h-2.4zM977.9 762.7h2.4v10h-2.4zM999.3 762.7h2.4v10h-2.4zM1004.2 762.7h2.4v10h-2.4zM1011.9 762.7h2.4v10h-2.4zM1017.7 762.7h2.4v10h-2.4zM1034.1 762.7h2.4v10h-2.4zM1039.4 762.7h2.4v10h-2.4zM1044.9 762.7h3.3v10h-3.3zM1050.5 762.7h3.3v10h-3.3zM1061.3 762.7h2.4v10h-2.4zM1067.4 762.7h2.4v10h-2.4zM1081.6 762.7h2.4v10h-2.4zM1089.3 762.7h2.4v10h-2.4zM1107.4 762.7h2.4v10h-2.4zM1112.8 762.7h2.4v10h-2.4zM1119.6 762.7h4.6v10h-4.6zM1124.2 762.7h3.3v10h-3.3z" fill="url(#gc)"/>
<path d="M1127.5 762.7h34.2v10h-34.2z" fill="url(#gu)"/>
<path d="M1160.4 762.7h1.4v10h-1.4z" fill="#1656d8"/>
<path d="M985 786.5h2v10h-2zM1013.8 786.5h2v10h-2zM1039.6 786.5h2v10h-2zM1055.7 786.5h2v10h-2zM1063.2 786.5h2v10h-2zM1079.6 786.5h2v10h-2zM1091.1 786.5h2v10h-2zM1093.6 786.5h2v10h-2zM1124.9 786.5h2v10h-2zM1142.2 786.5h2v10h-2zM1152 786.5h2v10h-2zM1188.3 786.5h2v10h-2z" fill="url(#gf)" opacity="0.8"/>
<path d="M942.8 786.5h2.3v10h-2.3zM988.9 786.5h2.4v10h-2.4zM1022.3 786.5h2.4v10h-2.4zM1050.9 786.5h2.4v10h-2.4zM1069.5 786.5h2.4v10h-2.4zM1084.4 786.5h2.4v10h-2.4zM1087.6 786.5h2.4v10h-2.4zM1100.3 786.5h2.4v10h-2.4zM1110.7 786.5h2.4v10h-2.4zM1128.3 786.5h2.4v10h-2.4zM1146.6 786.5h2.4v10h-2.4zM1159.6 786.5h2.4v10h-2.4zM1192.5 786.5h2.4v10h-2.4zM1203.3 786.5h11.5v10h-11.5zM1225.1 786.5h2.4v10h-2.4z" fill="url(#gc)"/>
<path d="M940.2 786.5h2.6v10h-2.6zM1263.3 786.5h32.4v10h-32.4z" fill="url(#gu)"/>
<path d="M1294.4 786.5h1.4v10h-1.4z" fill="#1656d8"/>
<path d="M947.3 809.6h2.8v10h-2.8zM958.1 809.6h2.4v10h-2.4zM962.9 809.6h4.9v10h-4.9zM973.6 809.6h5.8v10h-5.8zM985.5 809.6h3v10h-3zM992.7 809.6h2.4v10h-2.4zM997.6 809.6h2.4v10h-2.4zM1003.7 809.6h2.4v10h-2.4z" fill="url(#gc)"/>
<path d="M1007.4 809.6h4.9v10h-4.9z" fill="url(#gu)"/>
<path d="M1010.9 809.6h1.4v10h-1.4z" fill="#1656d8"/>
<path d="M945.5 832.6h2v10h-2zM952 832.6h2v10h-2zM969.3 832.6h2v10h-2zM978.4 832.6h2v10h-2zM1025.3 832.6h2v10h-2z" fill="url(#gf)" opacity="0.8"/>
<path d="M984 832.6h4v10h-4zM1008.2 832.6h3v10h-3zM1014.1 832.6h2.4v10h-2.4zM1020.7 832.6h2.4v10h-2.4zM1035.8 832.6h2.4v10h-2.4zM1043.2 832.6h2.4v10h-2.4zM1048.6 832.6h2.4v10h-2.4zM1060.5 832.6h3.1v10h-3.1zM1072.9 832.6h3.1v10h-3.1zM1079.4 832.6h2.4v10h-2.4z" fill="url(#gc)"/>
<path d="M1013.8 856.5h2v10h-2zM1042.6 856.5h2v10h-2zM1073 856.5h2v10h-2zM1076.3 856.5h2v10h-2zM1116.7 856.5h2v10h-2zM1131.5 856.5h2v10h-2zM1135.6 856.5h2v10h-2z" fill="url(#gf)" opacity="0.8"/>
<path d="M953.5 856.5h2.4v10h-2.4zM1027.2 856.5h2.4v10h-2.4zM1050.9 856.5h2.4v10h-2.4zM1057.2 856.5h2.4v10h-2.4zM1067.1 856.5h2.4v10h-2.4zM1090.4 856.5h2.4v10h-2.4zM1101.2 856.5h4.1v10h-4.1zM1107.4 856.5h2.4v10h-2.4zM1124.2 856.5h2.4v10h-2.4zM1142.8 856.5h2.4v10h-2.4zM1148.6 856.5h4v10h-4zM1157.6 856.5h2.4v10h-2.4z" fill="url(#gc)"/>
<path d="M1160.5 856.5h14v10h-14z" fill="url(#gu)"/>
<path d="M1173 856.5h1.4v10h-1.4z" fill="#1656d8"/>
<path d="M1001.4 879.2h2v10h-2zM1061.5 879.2h2v10h-2zM1064.8 879.2h2v10h-2z" fill="url(#gf)" opacity="0.8"/>
<path d="M959.3 879.2h2.4v10h-2.4zM970 879.2h2.4v10h-2.4zM977.7 879.2h2.4v10h-2.4zM984 879.2h4v10h-4zM996 879.2h2.4v10h-2.4zM1025.1 879.2h2.4v10h-2.4zM1036.1 879.2h2.4v10h-2.4zM1041.6 879.2h2.4v10h-2.4zM1045.7 879.2h2.4v10h-2.4zM1051.4 879.2h2.4v10h-2.4zM1083.9 879.2h2.4v10h-2.4z" fill="url(#gc)"/>
<path d="M1141 879.2h17.4v10h-17.4z" fill="url(#gu)"/>
<path d="M1157.1 879.2h1.4v10h-1.4z" fill="#1656d8"/>
<path d="M1024.1 902.6h2v10h-2zM1030.2 902.6h2v10h-2zM1037.6 902.6h2v10h-2zM1042.6 902.6h2v10h-2zM1047.8 902.6h2v10h-2zM1109.2 902.6h2v10h-2zM1115.8 902.6h2v10h-2zM1119.9 902.6h2v10h-2zM1135.1 902.6h2v10h-2zM1172.6 902.6h2v10h-2zM1199.8 902.6h2v10h-2zM1220.4 902.6h2v10h-2z" fill="url(#gf)" opacity="0.8"/>
<path d="M1054.7 902.6h2.4v10h-2.4zM1179.3 902.6h2.4v10h-2.4z" fill="url(#gc)"/>
<path d="M941.9 925.3h2.1v10h-2.1zM947.3 925.3h4.1v10h-4.1zM953.9 925.3h3.3v10h-3.3zM959.6 925.3h3.3v10h-3.3zM965.4 925.3h2.5v10h-2.5zM970.3 925.3h3.3v10h-3.3z" fill="url(#gc)"/>
<path d="M940.2 925.3h1.6v10h-1.6z" fill="url(#gu)"/>
<path d="M945.5 949.8h2v10h-2z" fill="url(#gf)" opacity="0.8"/>
<path d="M950.6 949.8h3.3v10h-3.3zM960.5 949.8h2.5v10h-2.5zM968.7 949.8h5.8v10h-5.8zM976.5 949.8h2.4v10h-2.4zM980.7 949.8h2.4v10h-2.4zM985.1 949.8h2.4v10h-2.4z" fill="url(#gc)"/>
<path d="M988.4 949.8h9.1v10h-9.1z" fill="url(#gu)"/>
<path d="M996.1 949.8h1.4v10h-1.4z" fill="#1656d8"/>
<path d="M943.2 971.5h2v10h-2zM949.7 971.5h2.4v10h-2.4zM956.3 971.5h3.3v10h-3.3zM962.7 971.5h2.4v10h-2.4zM969 971.5h2.4v10h-2.4zM977.7 971.5h5.8v10h-5.8z" fill="url(#gc)"/>
<path d="M940.2 971.5h3v10h-3zM988.4 971.5h2.1v10h-2.1z" fill="url(#gu)"/>
<path d="M1105.1 994.3h2v10h-2zM1109.2 994.3h2v10h-2zM1131.5 994.3h2v10h-2zM1134.8 994.3h2v10h-2zM1148.8 994.3h2v10h-2zM1168.5 994.3h2v10h-2zM1171 994.3h2v10h-2zM1180.9 994.3h2v10h-2z" fill="url(#gf)" opacity="0.8"/>
<path d="M1119.7 994.3h2.4v10h-2.4zM1124.7 994.3h2.4v10h-2.4zM1140.3 994.3h2.4v10h-2.4zM1162.5 994.3h2.4v10h-2.4zM1188.4 994.3h7.4v10h-7.4zM1198.8 994.3h2.4v10h-2.4z" fill="url(#gc)"/>
<path d="M1201.6 994.3h2.5v10h-2.5z" fill="url(#gu)"/>
<path d="M976.7 1018.6h2v10h-2zM989.9 1018.6h2v10h-2zM1066.4 1018.6h2v10h-2z" fill="url(#gf)" opacity="0.8"/>
<path d="M940.2 1018.6h13.7v10h-13.7zM957.2 1018.6h2.5v10h-2.5zM963.7 1018.6h4.9v10h-4.9zM972 1018.6h2.5v10h-2.5zM994.5 1018.6h3.3v10h-3.3zM1015.9 1018.6h3.3v10h-3.3zM1027.1 1018.6h4.1v10h-4.1zM1035.8 1018.6h2.4v10h-2.4zM1041.6 1018.6h2.4v10h-2.4zM1046.5 1018.6h2.4v10h-2.4zM1051.4 1018.6h2.4v10h-2.4zM1058.7 1018.6h3v10h-3zM1077.8 1018.6h2.4v10h-2.4zM1084.4 1018.6h2.4v10h-2.4zM1088.5 1018.6h2.4v10h-2.4zM1096.7 1018.6h2.4v10h-2.4zM1103.3 1018.6h2.4v10h-2.4zM1111.1 1018.6h4.9v10h-4.9zM1121.4 1018.6h2.4v10h-2.4zM1128.7 1018.6h3.3v10h-3.3zM1137.9 1018.6h2.4v10h-2.4zM1142 1018.6h2.4v10h-2.4zM1145.6 1018.6h1.6v10h-1.6z" fill="url(#gc)"/>
<path d="M1147.3 1018.6h11.9v10h-11.9z" fill="url(#gu)"/>
<path d="M1157.7 1018.6h1.4v10h-1.4z" fill="#1656d8"/>
<path d="M1008.8 1041.7h2v10h-2zM1011.3 1041.7h2v10h-2z" fill="url(#gf)" opacity="0.8"/>
<path d="M940.2 1041.7h3v10h-3zM948.1 1041.7h3.3v10h-3.3zM956.3 1041.7h5.8v10h-5.8zM968 1041.7h2.4v10h-2.4zM977.4 1041.7h2.4v10h-2.4zM986.4 1041.7h2.4v10h-2.4zM997.9 1041.7h2.4v10h-2.4zM1002.1 1041.7h2.4v10h-2.4zM1017.7 1041.7h2.4v10h-2.4zM1021.8 1041.7h2.4v10h-2.4zM1030 1041.7h2.4v10h-2.4zM1039.1 1041.7h2.4v10h-2.4zM1048.6 1041.7h2.4v10h-2.4zM1058.8 1041.7h2.4v10h-2.4zM1065.4 1041.7h2.4v10h-2.4zM1081.4 1041.7h4.1v10h-4.1zM1089.3 1041.7h2.4v10h-2.4zM1092.6 1041.7h2.4v10h-2.4zM1100.4 1041.7h3.3v10h-3.3zM1109 1041.7h2.4v10h-2.4zM1119.7 1041.7h2.4v10h-2.4zM1128.4 1041.7h3.3v10h-3.3zM1140.3 1041.7h2.4v10h-2.4zM1147.4 1041.7h2.4v10h-2.4zM1154.3 1041.7h2.4v10h-2.4zM1160.5 1041.7h2.5v10h-2.5z" fill="url(#gc)"/>
<path d="M1163.4 1041.7h2.8v10h-2.8z" fill="url(#gu)"/>
<path d="M981.7 1063.4h2v10h-2z" fill="url(#gf)" opacity="0.8"/>
<path d="M961.7 1063.4h2.4v10h-2.4zM968.3 1063.4h2.4v10h-2.4zM977.4 1063.4h2.4v10h-2.4zM1008.1 1063.4h2.4v10h-2.4zM1030.9 1063.4h2.4v10h-2.4zM1051.9 1063.4h2.4v10h-2.4zM1097 1063.4h2.4v10h-2.4zM1104.6 1063.4h2.4v10h-2.4zM1119.7 1063.4h2.4v10h-2.4zM1125.5 1063.4h2.4v10h-2.4zM1129.6 1063.4h2.4v10h-2.4zM1155.6 1063.4h2.4v10h-2.4zM1182 1063.4h2.4v10h-2.4zM1194.1 1063.4h2.4v10h-2.4zM1207 1063.4h2.4v10h-2.4z" fill="url(#gc)"/>
<path d="M969.3 1086.4h2v10h-2zM998.1 1086.4h2v10h-2z" fill="url(#gf)" opacity="0.8"/>
<path d="M953.2 1086.4h2.4v10h-2.4zM959.3 1086.4h2.4v10h-2.4zM964.2 1086.4h2.4v10h-2.4zM981.1 1086.4h2.4v10h-2.4zM985.6 1086.4h2.4v10h-2.4zM993.3 1086.4h2.4v10h-2.4zM1010.3 1086.4h2.4v10h-2.4zM1014.4 1086.4h2.4v10h-2.4zM1021.3 1086.4h2.4v10h-2.4zM1032.2 1086.4h2.4v10h-2.4zM1037.8 1086.4h2.4v10h-2.4zM1043.5 1086.4h2.4v10h-2.4zM1054.7 1086.4h2.4v10h-2.4zM1060.5 1086.4h2.4v10h-2.4zM1067.4 1086.4h2.4v10h-2.4zM1084.8 1086.4h2.4v10h-2.4zM1098 1086.4h2.4v10h-2.4z" fill="url(#gc)"/>
<path d="M1112.4 1086.4h19.8v10h-19.8z" fill="url(#gu)"/>
<path d="M1130.7 1086.4h1.4v10h-1.4z" fill="#1656d8"/>
<path d="M966.9 1110.3h2v10h-2zM969.3 1110.3h2v10h-2zM1031.9 1110.3h2v10h-2zM1036 1110.3h2v10h-2zM1040.9 1110.3h2v10h-2zM1106 1110.3h2v10h-2z" fill="url(#gf)" opacity="0.8"/>
<path d="M948.6 1110.3h2.4v10h-2.4zM961.7 1110.3h2.4v10h-2.4zM991.8 1110.3h2.4v10h-2.4zM1001.7 1110.3h2.4v10h-2.4zM1014.1 1110.3h2.4v10h-2.4zM1022.2 1110.3h5.8v10h-5.8zM1044.8 1110.3h2.4v10h-2.4zM1069 1110.3h2.4v10h-2.4zM1076.9 1110.3h2.4v10h-2.4zM1086.8 1110.3h2.4v10h-2.4zM1097.5 1110.3h2.4v10h-2.4zM1101.6 1110.3h2.4v10h-2.4zM1109 1110.3h2.4v10h-2.4zM1114 1110.3h2.4v10h-2.4zM1117.3 1110.3h2.4v10h-2.4zM1156.8 1110.3h2.4v10h-2.4z" fill="url(#gc)"/>
<path d="M1010.5 1132.2h2v10h-2zM1038.5 1132.2h2v10h-2zM1044.2 1132.2h2v10h-2zM1084.6 1132.2h2v10h-2zM1128.2 1132.2h2v10h-2z" fill="url(#gf)" opacity="0.8"/>
<path d="M953.8 1132.2h2.4v10h-2.4zM986.1 1132.2h2.4v10h-2.4zM1022.6 1132.2h2.4v10h-2.4zM1048.6 1132.2h2.4v10h-2.4zM1056.4 1132.2h2.4v10h-2.4zM1060.5 1132.2h2.4v10h-2.4zM1067.9 1132.2h2.4v10h-2.4zM1072.8 1132.2h2.4v10h-2.4zM1078.9 1132.2h2.4v10h-2.4zM1095.9 1132.2h2.4v10h-2.4zM1102.8 1132.2h9.9v10h-9.9zM1115.6 1132.2h2.4v10h-2.4zM1137 1132.2h2.4v10h-2.4z" fill="url(#gc)"/>
<path d="M1143.7 1132.2h18.1v10h-18.1z" fill="url(#gu)"/>
<path d="M1160.4 1132.2h1.4v10h-1.4z" fill="#1656d8"/>
<path d="M946.3 1156.4h2v10h-2zM1037.6 1156.4h2v10h-2z" fill="url(#gf)" opacity="0.8"/>
<path d="M942.8 1156.4h2v10h-2zM953.9 1156.4h5.8v10h-5.8zM967 1156.4h7.4v10h-7.4zM980.2 1156.4h3.3v10h-3.3zM994.2 1156.4h2.5v10h-2.5zM998.8 1156.4h2.4v10h-2.4zM1003.7 1156.4h2.4v10h-2.4zM1009.5 1156.4h2.4v10h-2.4zM1018.1 1156.4h4.9v10h-4.9zM1027.9 1156.4h5.8v10h-5.8zM1044.8 1156.4h2.4v10h-2.4zM1049.8 1156.4h2.4v10h-2.4zM1065 1156.4h3v10h-3z" fill="url(#gc)"/>
<path d="M940.7 1156.4h2.1v10h-2.1zM1067.9 1156.4h1.6v10h-1.6z" fill="url(#gu)"/>
<path d="M1021.2 1180.5h2v10h-2zM1026.1 1180.5h2v10h-2zM1031.1 1180.5h2v10h-2z" fill="url(#gf)" opacity="0.8"/>
<path d="M947.3 1180.5h3.3v10h-3.3zM954.7 1180.5h3.3v10h-3.3zM960.1 1180.5h2.4v10h-2.4zM963.7 1180.5h2.4v10h-2.4zM968 1180.5h2.4v10h-2.4zM975.7 1180.5h2.4v10h-2.4zM979.8 1180.5h2.4v10h-2.4zM989.3 1180.5h4.1v10h-4.1zM998.8 1180.5h2.4v10h-2.4zM1009.5 1180.5h2.4v10h-2.4zM1014.4 1180.5h2.4v10h-2.4zM1036.7 1180.5h4.4v10h-4.4z" fill="url(#gc)"/>
<path d="M1036 1202.4h2v10h-2z" fill="url(#gf)" opacity="0.8"/>
<path d="M945.3 1202.4h2.4v10h-2.4zM949.4 1202.4h2.4v10h-2.4zM956 1202.4h2.4v10h-2.4zM961.3 1202.4h4.1v10h-4.1zM974.9 1202.4h2.4v10h-2.4zM982.3 1202.4h2.4v10h-2.4zM990.5 1202.4h2.4v10h-2.4zM994.6 1202.4h2.4v10h-2.4zM1005.7 1202.4h6.6v10h-6.6zM1012.8 1202.4h2.4v10h-2.4zM1017.7 1202.4h2.4v10h-2.4zM1027.1 1202.4h3.3v10h-3.3z" fill="url(#gc)"/>
<path d="M1039.5 1202.4h2.5v10h-2.5z" fill="url(#gu)"/>
<path d="M947.1 1226.6h2v10h-2zM1008 1226.6h2v10h-2zM1073 1226.6h2v10h-2zM1090.3 1226.6h2v10h-2zM1095.3 1226.6h2v10h-2z" fill="url(#gf)" opacity="0.8"/>
<path d="M942.8 1226.6h2.4v10h-2.4zM955.1 1226.6h2.4v10h-2.4zM962.5 1226.6h2.4v10h-2.4zM970.8 1226.6h2.4v10h-2.4zM974.9 1226.6h2.4v10h-2.4zM980.2 1226.6h3.3v10h-3.3zM996.3 1226.6h2.4v10h-2.4zM1002.1 1226.6h2.4v10h-2.4zM1021.4 1226.6h2.5v10h-2.5zM1027.6 1226.6h2.4v10h-2.4zM1033.3 1226.6h2.4v10h-2.4zM1039.1 1226.6h2.4v10h-2.4zM1046 1226.6h2.5v10h-2.5zM1052.3 1226.6h2.4v10h-2.4zM1056.4 1226.6h2.4v10h-2.4zM1060.5 1226.6h2.4v10h-2.4zM1068.7 1226.6h2.4v10h-2.4zM1078.6 1226.6h2.4v10h-2.4zM1084.7 1226.6h2.5v10h-2.5z" fill="url(#gc)"/>
<path d="M941.2 1226.6h2v10h-2zM1097.9 1226.6h2.5v10h-2.5z" fill="url(#gu)"/>
<path d="M978.4 1248.5h2v10h-2z" fill="url(#gf)" opacity="0.8"/>
<path d="M946.1 1248.5h2.4v10h-2.4zM951 1248.5h2.4v10h-2.4zM958.4 1248.5h2.4v10h-2.4zM965.8 1248.5h2.4v10h-2.4zM972 1248.5h2.5v10h-2.5zM983.9 1248.5h2.4v10h-2.4zM987.7 1248.5h2.4v10h-2.4z" fill="url(#gc)"/>
<path d="M992.2 1248.5h9.4v10h-9.4z" fill="url(#gu)"/>
<path d="M1000.2 1248.5h1.4v10h-1.4z" fill="#1656d8"/>
<path d="M989.9 1273.2h2v10h-2zM1011.3 1273.2h2v10h-2zM1027.4 1273.2h2v10h-2zM1042.9 1273.2h2v10h-2zM1060.7 1273.2h2v10h-2zM1091.6 1273.2h2v10h-2z" fill="url(#gf)" opacity="0.8"/>
<path d="M1074 1273.2h2.4v10h-2.4zM1081.9 1273.2h2.4v10h-2.4z" fill="url(#gc)"/>
<path d="M1102.5 1273.2h9.9v10h-9.9z" fill="url(#gu)"/>
<path d="M1111 1273.2h1.4v10h-1.4z" fill="#1656d8"/>
<path d="M1070.6 1295.2h2v10h-2z" fill="url(#gf)" opacity="0.8"/>
<path d="M944.5 1295.2h2v10h-2zM993 1295.2h2.4v10h-2.4zM1003.7 1295.2h2.4v10h-2.4zM1008.6 1295.2h2.4v10h-2.4zM1014.1 1295.2h2.4v10h-2.4zM1022.2 1295.2h3.3v10h-3.3zM1030 1295.2h2.4v10h-2.4zM1037.8 1295.2h14.8v10h-14.8zM1056.9 1295.2h2.4v10h-2.4zM1065.4 1295.2h2.4v10h-2.4zM1075.3 1295.2h2.4v10h-2.4zM1081.1 1295.2h2.4v10h-2.4zM1088.1 1295.2h2.4v10h-2.4z" fill="url(#gc)"/>
<path d="M941.9 1295.2h3v10h-3zM1095.9 1295.2h28.6v10h-28.6z" fill="url(#gu)"/>
<path d="M1123.2 1295.2h1.4v10h-1.4z" fill="#1656d8"/>
<path d="M1022 1318.3h2v10h-2zM1035.2 1318.3h2v10h-2zM1114.2 1318.3h2v10h-2zM1119.1 1318.3h2v10h-2zM1124.9 1318.3h2v10h-2zM1152.9 1318.3h2v10h-2z" fill="url(#gf)" opacity="0.8"/>
<path d="M991.4 1318.3h2.4v10h-2.4zM1001.2 1318.3h2.4v10h-2.4zM1006.2 1318.3h2.4v10h-2.4zM1012.8 1318.3h2.4v10h-2.4zM1029.2 1318.3h2.4v10h-2.4zM1075 1318.3h2.4v10h-2.4zM1100.3 1318.3h2.4v10h-2.4zM1108.6 1318.3h2.4v10h-2.4zM1136.5 1318.3h2.4v10h-2.4zM1144 1318.3h4.1v10h-4.1zM1156.8 1318.3h2.4v10h-2.4z" fill="url(#gc)"/>
<path d="M1160.1 1318.3h29.1v10h-29.1z" fill="url(#gu)"/>
<path d="M1187.9 1318.3h1.4v10h-1.4z" fill="#1656d8"/>
<path d="M1045.9 1342.3h2v10h-2zM1083.7 1342.3h2v10h-2z" fill="url(#gf)" opacity="0.8"/>
<path d="M945.6 1342.3h1.6v10h-1.6zM950.2 1342.3h2.4v10h-2.4zM989.7 1342.3h2.4v10h-2.4zM999.3 1342.3h2.4v10h-2.4zM1012.3 1342.3h2.4v10h-2.4zM1023.9 1342.3h2.4v10h-2.4zM1028.4 1342.3h2.4v10h-2.4zM1032.5 1342.3h2.4v10h-2.4zM1039.4 1342.3h2.4v10h-2.4zM1055.9 1342.3h2.4v10h-2.4zM1064.2 1342.3h2.5v10h-2.5zM1069.5 1342.3h2.4v10h-2.4zM1078.3 1342.3h2.4v10h-2.4zM1088.8 1342.3h5.8v10h-5.8zM1099.2 1342.3h2.4v10h-2.4zM1105.8 1342.3h2.4v10h-2.4zM1113.2 1342.3h2.4v10h-2.4zM1119.7 1342.3h2.4v10h-2.4z" fill="url(#gc)"/>
<path d="M942.3 1342.3h2.5v10h-2.5zM1122.3 1342.3h12.7v10h-12.7z" fill="url(#gu)"/>
<path d="M1133.5 1342.3h1.4v10h-1.4z" fill="#1656d8"/>
<path d="M990.7 1364.9h2v10h-2z" fill="url(#gf)" opacity="0.8"/>
<path d="M943.2 1364.9h4.6v10h-4.6zM983.9 1364.9h2.4v10h-2.4zM996.3 1364.9h2.4v10h-2.4zM1002.9 1364.9h2.4v10h-2.4zM1011.5 1364.9h2.5v10h-2.5zM1019.3 1364.9h2.4v10h-2.4zM1023.5 1364.9h2.4v10h-2.4zM1027.6 1364.9h2.4v10h-2.4zM1034.1 1364.9h2.4v10h-2.4zM1039.1 1364.9h2.4v10h-2.4zM1045.7 1364.9h2.4v10h-2.4zM1054.3 1364.9h2.5v10h-2.5zM1060.5 1364.9h2.4v10h-2.4zM1064.6 1364.9h2.4v10h-2.4zM1068.7 1364.9h2.4v10h-2.4zM1072.8 1364.9h2.4v10h-2.4zM1079.4 1364.9h2.4v10h-2.4z" fill="url(#gc)"/>
<path d="M1083.1 1364.9h6.9v10h-6.9z" fill="url(#gu)"/>
<path d="M1088.6 1364.9h1.4v10h-1.4z" fill="#1656d8"/>
<path d="M944.7 1390h6.2v10h-6.2zM1080.3 1390h5.7v10h-5.7zM1088.5 1390h5.7v10h-5.7zM1100.8 1390h6.5v10h-6.5zM1117.1 1390h6.5v10h-6.5zM1142.4 1390h5.7v10h-5.7zM1150.9 1390h5.9v10h-5.9zM1180 1390h6.2v10h-6.2zM1217.3 1390h6v10h-6zM1227.4 1390h6.2v10h-6.2zM1270.7 1390h6v10h-6zM1283.8 1390h6.5v10h-6.5zM1299.3 1390h13.1v10h-13.1zM1323 1390h7v10h-7zM1330 1390h42.8v10h-42.8zM1377.4 1390h55.9v10h-55.9zM1438.2 1390h43v10h-43zM1484.4 1390h4.9v10h-4.9zM1492.6 1390h4.1v10h-4.1zM1498.3 1390h24.8v10h-24.8zM1528 1390h6.2v10h-6.2zM1539.2 1390h24.5v10h-24.5z" fill="url(#gc)"/>
<path d="M942.3 1390h2.5v10h-2.5zM1563.7 1390h20.4v10h-20.4z" fill="url(#gu)"/>
<path d="M1582.7 1390h1.4v10h-1.4z" fill="#1656d8"/>
<path d="M944.7 1414.7h6.5v10h-6.5zM1090.5 1414.7h13.6v10h-13.6zM1108.1 1414.7h6.9v10h-6.9zM1123.6 1414.7h7v10h-7zM1146.5 1414.7h20.1v10h-20.1zM1178.7 1414.7h6.2v10h-6.2zM1188.7 1414.7h6.9v10h-6.9zM1215.1 1414.7h6.5v10h-6.5zM1226.1 1414.7h13.6v10h-13.6zM1247 1414.7h6.5v10h-6.5zM1258.1 1414.7h6.9v10h-6.9zM1279.7 1414.7h20.9v10h-20.9zM1306.3 1414.7h14.2v10h-14.2zM1336.5 1414.7h6.5v10h-6.5zM1345.5 1414.7h6v10h-6zM1354.5 1414.7h5.7v10h-5.7zM1361.9 1414.7h20.4v10h-20.4zM1385.2 1414.7h13.4v10h-13.4zM1401.9 1414.7h34.3v10h-34.3zM1438.7 1414.7h13.6v10h-13.6zM1459.1 1414.7h6.2v10h-6.2zM1468.1 1414.7h27v10h-27zM1498.6 1414.7h6.2v10h-6.2zM1508.1 1414.7h21.2v10h-21.2z" fill="url(#gc)"/>
<path d="M942.3 1414.7h2.5v10h-2.5zM1529.3 1414.7h190.8v10h-190.8z" fill="url(#gu)"/>
<path d="M1718.8 1414.7h1.4v10h-1.4z" fill="#1656d8"/>
</g>
<g filter="url(#b3)">
<rect x="1493.3" y="41.7" width="39.6" height="12.6" fill="#ef8f47"/>
<rect x="1493.3" y="62.9" width="39.6" height="13.1" fill="#009fe8"/>
<path d="M1494.6 89.4H1531.6" stroke="#222" stroke-width="2.7" stroke-linecap="round"/>
<g font-family="'Liberation Serif', 'Times New Roman', serif" font-weight="bold" font-size="16.8" fill="#1a1a1a" stroke="#1a1a1a" stroke-width="0.25">
<text x="1539.2" y="52.3">CDS</text><text x="1539.8" y="74.1">UTR</text><text x="1538.6" y="92.6">Intron</text>
</g></g>
<g filter="url(#b2)">
<g fill="#f0141e" stroke="#e60012" stroke-width="0.7">
<rect x="1770.1" y="34.7" width="3.6" height="7.8" rx="1.8" ry="3.3"/><rect x="1770.1" y="42.5" width="3.6" height="7.8" rx="1.8" ry="3.3"/>
<rect x="1766.4" y="57.9" width="3.6" height="7.8" rx="1.8" ry="3.3"/><rect x="1766.4" y="65.7" width="3.6" height="7.8" rx="1.8" ry="3.3"/>
<rect x="1766.6" y="81.1" width="3.6" height="7.8" rx="1.8" ry="3.3"/><rect x="1766.6" y="88.9" width="3.6" height="7.8" rx="1.8" ry="3.3"/>
<rect x="1767" y="104.3" width="3.6" height="7.8" rx="1.8" ry="3.3"/><rect x="1767" y="112.1" width="3.6" height="7.8" rx="1.8" ry="3.3"/>
<rect x="1767" y="127.5" width="3.6" height="7.8" rx="1.8" ry="3.3"/><rect x="1767" y="135.3" width="3.6" height="7.8" rx="1.8" ry="3.3"/>
<rect x="1765.4" y="150.7" width="3.6" height="7.8" rx="1.8" ry="3.3"/><rect x="1765.4" y="158.5" width="3.6" height="7.8" rx="1.8" ry="3.3"/>
<rect x="1765.4" y="173.9" width="3.6" height="7.8" rx="1.8" ry="3.3"/><rect x="1765.4" y="181.7" width="3.6" height="7.8" rx="1.8" ry="3.3"/>
<rect x="1767" y="197.1" width="3.6" height="7.8" rx="1.8" ry="3.3"/><rect x="1767" y="204.9" width="3.6" height="7.8" rx="1.8" ry="3.3"/>
<rect x="1767" y="220.3" width="3.6" height="7.8" rx="1.8" ry="3.3"/><rect x="1767" y="228.1" width="3.6" height="7.8" rx="1.8" ry="3.3"/>
<rect x="1767" y="243.5" width="3.6" height="7.8" rx="1.8" ry="3.3"/><rect x="1767" y="251.3" width="3.6" height="7.8" rx="1.8" ry="3.3"/>
<rect x="1767" y="266.7" width="3.6" height="7.8" rx="1.8" ry="3.3"/><rect x="1767" y="274.5" width="3.6" height="7.8" rx="1.8" ry="3.3"/>
<rect x="1767" y="289.9" width="3.6" height="7.8" rx="1.8" ry="3.3"/><rect x="1767" y="297.7" width="3.6" height="7.8" rx="1.8" ry="3.3"/>
<rect x="1767" y="313.1" width="3.6" height="7.8" rx="1.8" ry="3.3"/><rect x="1767" y="320.9" width="3.6" height="7.8" rx="1.8" ry="3.3"/>
<rect x="1767" y="336.3" width="3.6" height="7.8" rx="1.8" ry="3.3"/><rect x="1767" y="344.1" width="3.6" height="7.8" rx="1.8" ry="3.3"/>
<rect x="1767" y="359.5" width="3.6" height="7.8" rx="1.8" ry="3.3"/><rect x="1767" y="367.3" width="3.6" height="7.8" rx="1.8" ry="3.3"/>
<rect x="1767" y="382.7" width="3.6" height="7.8" rx="1.8" ry="3.3"/><rect x="1767" y="390.5" width="3.6" height="7.8" rx="1.8" ry="3.3"/>
<rect x="1806.2" y="382.7" width="3.6" height="7.8" rx="1.8" ry="3.3"/><rect x="1806.2" y="390.5" width="3.6" height="7.8" rx="1.8" ry="3.3"/>
<rect x="1767.4" y="405.9" width="3.6" height="7.8" rx="1.8" ry="3.3"/><rect x="1767.4" y="413.7" width="3.6" height="7.8" rx="1.8" ry="3.3"/>
<rect x="1768.4" y="429.1" width="3.6" height="7.8" rx="1.8" ry="3.3"/><rect x="1768.4" y="436.9" width="3.6" height="7.8" rx="1.8" ry="3.3"/>
<rect x="1767" y="452.3" width="3.6" height="7.8" rx="1.8" ry="3.3"/><rect x="1767" y="460.1" width="3.6" height="7.8" rx="1.8" ry="3.3"/>
<rect x="1765.6" y="475.5" width="3.6" height="7.8" rx="1.8" ry="3.3"/><rect x="1765.6" y="483.3" width="3.6" height="7.8" rx="1.8" ry="3.3"/>
<rect x="1767" y="498.7" width="3.6" height="7.8" rx="1.8" ry="3.3"/><rect x="1767" y="506.5" width="3.6" height="7.8" rx="1.8" ry="3.3"/>
<rect x="1767.4" y="521.9" width="3.6" height="7.8" rx="1.8" ry="3.3"/><rect x="1767.4" y="529.7" width="3.6" height="7.8" rx="1.8" ry="3.3"/>
<rect x="1806.8" y="521.9" width="3.6" height="7.8" rx="1.8" ry="3.3"/><rect x="1806.8" y="529.7" width="3.6" height="7.8" rx="1.8" ry="3.3"/>
<rect x="1767.4" y="545.1" width="3.6" height="7.8" rx="1.8" ry="3.3"/><rect x="1767.4" y="552.9" width="3.6" height="7.8" rx="1.8" ry="3.3"/>
<rect x="1767.4" y="568.3" width="3.6" height="7.8" rx="1.8" ry="3.3"/><rect x="1767.4" y="576.1" width="3.6" height="7.8" rx="1.8" ry="3.3"/>
<rect x="1767.4" y="591.5" width="3.6" height="7.8" rx="1.8" ry="3.3"/><rect x="1767.4" y="599.3" width="3.6" height="7.8" rx="1.8" ry="3.3"/>
<rect x="1777.8" y="614.7" width="3.6" height="7.8" rx="1.8" ry="3.3"/><rect x="1777.8" y="622.5" width="3.6" height="7.8" rx="1.8" ry="3.3"/>
<rect x="1857.9" y="662.6" width="3.6" height="7.8" rx="1.8" ry="3.3"/><rect x="1857.9" y="670.4" width="3.6" height="7.8" rx="1.8" ry="3.3"/>
<rect x="1903.9" y="685.6" width="3.6" height="7.8" rx="1.8" ry="3.3"/><rect x="1903.9" y="693.4" width="3.6" height="7.8" rx="1.8" ry="3.3"/>
<rect x="1764.6" y="762.5" width="3.6" height="7.8" rx="1.8" ry="3.3"/><rect x="1764.6" y="770.3" width="3.6" height="7.8" rx="1.8" ry="3.3"/>
<rect x="1770.7" y="762.5" width="3.6" height="7.8" rx="1.8" ry="3.3"/><rect x="1770.7" y="770.3" width="3.6" height="7.8" rx="1.8" ry="3.3"/>
<rect x="1836.5" y="785.7" width="3.6" height="7.8" rx="1.8" ry="3.3"/><rect x="1836.5" y="793.5" width="3.6" height="7.8" rx="1.8" ry="3.3"/>
<rect x="1747" y="808.9" width="3.6" height="7.8" rx="1.8" ry="3.3"/><rect x="1747" y="816.7" width="3.6" height="7.8" rx="1.8" ry="3.3"/>
<rect x="1755.8" y="832.2" width="3.6" height="7.8" rx="1.8" ry="3.3"/><rect x="1755.8" y="840" width="3.6" height="7.8" rx="1.8" ry="3.3"/>
<rect x="1750.7" y="855.4" width="3.6" height="7.8" rx="1.8" ry="3.3"/><rect x="1750.7" y="863.2" width="3.6" height="7.8" rx="1.8" ry="3.3"/>
<rect x="1750.1" y="878.6" width="3.6" height="7.8" rx="1.8" ry="3.3"/><rect x="1750.1" y="886.4" width="3.6" height="7.8" rx="1.8" ry="3.3"/>
<rect x="1750.1" y="901.8" width="3.6" height="7.8" rx="1.8" ry="3.3"/><rect x="1750.1" y="909.6" width="3.6" height="7.8" rx="1.8" ry="3.3"/>
<rect x="1750.7" y="925" width="3.6" height="7.8" rx="1.8" ry="3.3"/><rect x="1750.7" y="932.8" width="3.6" height="7.8" rx="1.8" ry="3.3"/>
<rect x="1750.7" y="948.2" width="3.6" height="7.8" rx="1.8" ry="3.3"/><rect x="1750.7" y="956" width="3.6" height="7.8" rx="1.8" ry="3.3"/>
<rect x="1750.7" y="971.4" width="3.6" height="7.8" rx="1.8" ry="3.3"/><rect x="1750.7" y="979.2" width="3.6" height="7.8" rx="1.8" ry="3.3"/>
<rect x="1759.5" y="994.6" width="3.6" height="7.8" rx="1.8" ry="3.3"/><rect x="1759.5" y="1002.4" width="3.6" height="7.8" rx="1.8" ry="3.3"/>
<rect x="2027" y="1017.8" width="3.6" height="7.8" rx="1.8" ry="3.3"/><rect x="2027" y="1025.6" width="3.6" height="7.8" rx="1.8" ry="3.3"/>
<rect x="2389.4" y="1017.8" width="3.6" height="7.8" rx="1.8" ry="3.3"/><rect x="2389.4" y="1025.6" width="3.6" height="7.8" rx="1.8" ry="3.3"/>
<rect x="1923.9" y="1041" width="3.6" height="7.8" rx="1.8" ry="3.3"/><rect x="1923.9" y="1048.8" width="3.6" height="7.8" rx="1.8" ry="3.3"/>
<rect x="2282.4" y="1041" width="3.6" height="7.8" rx="1.8" ry="3.3"/><rect x="2282.4" y="1048.8" width="3.6" height="7.8" rx="1.8" ry="3.3"/>
<rect x="1760.9" y="1064.2" width="3.6" height="7.8" rx="1.8" ry="3.3"/><rect x="1760.9" y="1072" width="3.6" height="7.8" rx="1.8" ry="3.3"/>
<rect x="1756.4" y="1087.5" width="3.6" height="7.8" rx="1.8" ry="3.3"/><rect x="1756.4" y="1095.3" width="3.6" height="7.8" rx="1.8" ry="3.3"/>
<rect x="1820.5" y="1110.7" width="3.6" height="7.8" rx="1.8" ry="3.3"/><rect x="1820.5" y="1118.5" width="3.6" height="7.8" rx="1.8" ry="3.3"/>
<rect x="1814.4" y="1133.9" width="3.6" height="7.8" rx="1.8" ry="3.3"/><rect x="1814.4" y="1141.7" width="3.6" height="7.8" rx="1.8" ry="3.3"/>
<rect x="1749.6" y="1157.1" width="3.6" height="7.8" rx="1.8" ry="3.3"/><rect x="1749.6" y="1164.9" width="3.6" height="7.8" rx="1.8" ry="3.3"/>
<rect x="1749.6" y="1180.3" width="3.6" height="7.8" rx="1.8" ry="3.3"/><rect x="1749.6" y="1188.1" width="3.6" height="7.8" rx="1.8" ry="3.3"/>
<rect x="1749.6" y="1203.5" width="3.6" height="7.8" rx="1.8" ry="3.3"/><rect x="1749.6" y="1211.3" width="3.6" height="7.8" rx="1.8" ry="3.3"/>
<rect x="1749.6" y="1226.7" width="3.6" height="7.8" rx="1.8" ry="3.3"/><rect x="1749.6" y="1234.5" width="3.6" height="7.8" rx="1.8" ry="3.3"/>
<rect x="1760.3" y="1249.9" width="3.6" height="7.8" rx="1.8" ry="3.3"/><rect x="1760.3" y="1257.7" width="3.6" height="7.8" rx="1.8" ry="3.3"/>
<rect x="1763.5" y="1273.1" width="3.6" height="7.8" rx="1.8" ry="3.3"/><rect x="1763.5" y="1280.9" width="3.6" height="7.8" rx="1.8" ry="3.3"/>
<rect x="1749.6" y="1319.6" width="3.6" height="7.8" rx="1.8" ry="3.3"/><rect x="1749.6" y="1327.4" width="3.6" height="7.8" rx="1.8" ry="3.3"/>
<rect x="1783.8" y="1342.8" width="3.6" height="7.8" rx="1.8" ry="3.3"/><rect x="1783.8" y="1350.6" width="3.6" height="7.8" rx="1.8" ry="3.3"/>
<rect x="1775.2" y="1366" width="3.6" height="7.8" rx="1.8" ry="3.3"/><rect x="1775.2" y="1373.8" width="3.6" height="7.8" rx="1.8" ry="3.3"/>
<rect x="1785" y="1389.2" width="3.6" height="7.8" rx="1.8" ry="3.3"/><rect x="1785" y="1397" width="3.6" height="7.8" rx="1.8" ry="3.3"/>
<rect x="1783.8" y="1412.4" width="3.6" height="7.8" rx="1.8" ry="3.3"/><rect x="1783.8" y="1420.2" width="3.6" height="7.8" rx="1.8" ry="3.3"/>
</g>
<g fill="#8fd14a" stroke="#6ab82c" stroke-width="0.7">
<rect x="1785.4" y="34.7" width="3.6" height="7.8" rx="1.8" ry="3.3"/><rect x="1785.4" y="42.5" width="3.6" height="7.8" rx="1.8" ry="3.3"/>
<rect x="1780.9" y="57.9" width="3.6" height="7.8" rx="1.8" ry="3.3"/><rect x="1780.9" y="65.7" width="3.6" height="7.8" rx="1.8" ry="3.3"/>
<rect x="1780.7" y="81.1" width="3.6" height="7.8" rx="1.8" ry="3.3"/><rect x="1780.7" y="88.9" width="3.6" height="7.8" rx="1.8" ry="3.3"/>
<rect x="1781.9" y="104.3" width="3.6" height="7.8" rx="1.8" ry="3.3"/><rect x="1781.9" y="112.1" width="3.6" height="7.8" rx="1.8" ry="3.3"/>
<rect x="1780.9" y="127.5" width="3.6" height="7.8" rx="1.8" ry="3.3"/><rect x="1780.9" y="135.3" width="3.6" height="7.8" rx="1.8" ry="3.3"/>
<rect x="1780.9" y="150.7" width="3.6" height="7.8" rx="1.8" ry="3.3"/><rect x="1780.9" y="158.5" width="3.6" height="7.8" rx="1.8" ry="3.3"/>
<rect x="1780.9" y="173.9" width="3.6" height="7.8" rx="1.8" ry="3.3"/><rect x="1780.9" y="181.7" width="3.6" height="7.8" rx="1.8" ry="3.3"/>
<rect x="1781.9" y="197.1" width="3.6" height="7.8" rx="1.8" ry="3.3"/><rect x="1781.9" y="204.9" width="3.6" height="7.8" rx="1.8" ry="3.3"/>
<rect x="1781.9" y="220.3" width="3.6" height="7.8" rx="1.8" ry="3.3"/><rect x="1781.9" y="228.1" width="3.6" height="7.8" rx="1.8" ry="3.3"/>
<rect x="1781.9" y="243.5" width="3.6" height="7.8" rx="1.8" ry="3.3"/><rect x="1781.9" y="251.3" width="3.6" height="7.8" rx="1.8" ry="3.3"/>
<rect x="1781.9" y="266.7" width="3.6" height="7.8" rx="1.8" ry="3.3"/><rect x="1781.9" y="274.5" width="3.6" height="7.8" rx="1.8" ry="3.3"/>
<rect x="1781.9" y="289.9" width="3.6" height="7.8" rx="1.8" ry="3.3"/><rect x="1781.9" y="297.7" width="3.6" height="7.8" rx="1.8" ry="3.3"/>
<rect x="1782.3" y="313.1" width="3.6" height="7.8" rx="1.8" ry="3.3"/><rect x="1782.3" y="320.9" width="3.6" height="7.8" rx="1.8" ry="3.3"/>
<rect x="1781.9" y="336.3" width="3.6" height="7.8" rx="1.8" ry="3.3"/><rect x="1781.9" y="344.1" width="3.6" height="7.8" rx="1.8" ry="3.3"/>
<rect x="1783.8" y="359.5" width="3.6" height="7.8" rx="1.8" ry="3.3"/><rect x="1783.8" y="367.3" width="3.6" height="7.8" rx="1.8" ry="3.3"/>
<rect x="1780.9" y="382.7" width="3.6" height="7.8" rx="1.8" ry="3.3"/><rect x="1780.9" y="390.5" width="3.6" height="7.8" rx="1.8" ry="3.3"/>
<rect x="1782.3" y="405.9" width="3.6" height="7.8" rx="1.8" ry="3.3"/><rect x="1782.3" y="413.7" width="3.6" height="7.8" rx="1.8" ry="3.3"/>
<rect x="1784.4" y="429.1" width="3.6" height="7.8" rx="1.8" ry="3.3"/><rect x="1784.4" y="436.9" width="3.6" height="7.8" rx="1.8" ry="3.3"/>
<rect x="1781.9" y="452.3" width="3.6" height="7.8" rx="1.8" ry="3.3"/><rect x="1781.9" y="460.1" width="3.6" height="7.8" rx="1.8" ry="3.3"/>
<rect x="1780.9" y="475.5" width="3.6" height="7.8" rx="1.8" ry="3.3"/><rect x="1780.9" y="483.3" width="3.6" height="7.8" rx="1.8" ry="3.3"/>
<rect x="1781.9" y="498.7" width="3.6" height="7.8" rx="1.8" ry="3.3"/><rect x="1781.9" y="506.5" width="3.6" height="7.8" rx="1.8" ry="3.3"/>
<rect x="1782.3" y="521.9" width="3.6" height="7.8" rx="1.8" ry="3.3"/><rect x="1782.3" y="529.7" width="3.6" height="7.8" rx="1.8" ry="3.3"/>
<rect x="1782.3" y="545.1" width="3.6" height="7.8" rx="1.8" ry="3.3"/><rect x="1782.3" y="552.9" width="3.6" height="7.8" rx="1.8" ry="3.3"/>
<rect x="1782.3" y="568.3" width="3.6" height="7.8" rx="1.8" ry="3.3"/><rect x="1782.3" y="576.1" width="3.6" height="7.8" rx="1.8" ry="3.3"/>
<rect x="1782.3" y="591.5" width="3.6" height="7.8" rx="1.8" ry="3.3"/><rect x="1782.3" y="599.3" width="3.6" height="7.8" rx="1.8" ry="3.3"/>
<rect x="1793.2" y="614.7" width="3.6" height="7.8" rx="1.8" ry="3.3"/><rect x="1793.2" y="622.5" width="3.6" height="7.8" rx="1.8" ry="3.3"/>
<rect x="1873.2" y="662.6" width="3.6" height="7.8" rx="1.8" ry="3.3"/><rect x="1873.2" y="670.4" width="3.6" height="7.8" rx="1.8" ry="3.3"/>
<rect x="1919.2" y="685.6" width="3.6" height="7.8" rx="1.8" ry="3.3"/><rect x="1919.2" y="693.4" width="3.6" height="7.8" rx="1.8" ry="3.3"/>
<rect x="1749.2" y="739.3" width="3.6" height="7.8" rx="1.8" ry="3.3"/><rect x="1749.2" y="747.1" width="3.6" height="7.8" rx="1.8" ry="3.3"/>
<rect x="1780.3" y="762.5" width="3.6" height="7.8" rx="1.8" ry="3.3"/><rect x="1780.3" y="770.3" width="3.6" height="7.8" rx="1.8" ry="3.3"/>
<rect x="1852.2" y="785.7" width="3.6" height="7.8" rx="1.8" ry="3.3"/><rect x="1852.2" y="793.5" width="3.6" height="7.8" rx="1.8" ry="3.3"/>
<rect x="1762.5" y="808.9" width="3.6" height="7.8" rx="1.8" ry="3.3"/><rect x="1762.5" y="816.7" width="3.6" height="7.8" rx="1.8" ry="3.3"/>
<rect x="1771.1" y="832.2" width="3.6" height="7.8" rx="1.8" ry="3.3"/><rect x="1771.1" y="840" width="3.6" height="7.8" rx="1.8" ry="3.3"/>
<rect x="1766" y="855.4" width="3.6" height="7.8" rx="1.8" ry="3.3"/><rect x="1766" y="863.2" width="3.6" height="7.8" rx="1.8" ry="3.3"/>
<rect x="1765.4" y="878.6" width="3.6" height="7.8" rx="1.8" ry="3.3"/><rect x="1765.4" y="886.4" width="3.6" height="7.8" rx="1.8" ry="3.3"/>
<rect x="1765.4" y="901.8" width="3.6" height="7.8" rx="1.8" ry="3.3"/><rect x="1765.4" y="909.6" width="3.6" height="7.8" rx="1.8" ry="3.3"/>
<rect x="1765.6" y="925" width="3.6" height="7.8" rx="1.8" ry="3.3"/><rect x="1765.6" y="932.8" width="3.6" height="7.8" rx="1.8" ry="3.3"/>
<rect x="1765.6" y="948.2" width="3.6" height="7.8" rx="1.8" ry="3.3"/><rect x="1765.6" y="956" width="3.6" height="7.8" rx="1.8" ry="3.3"/>
<rect x="1765.6" y="971.4" width="3.6" height="7.8" rx="1.8" ry="3.3"/><rect x="1765.6" y="979.2" width="3.6" height="7.8" rx="1.8" ry="3.3"/>
<rect x="1774.8" y="994.6" width="3.6" height="7.8" rx="1.8" ry="3.3"/><rect x="1774.8" y="1002.4" width="3.6" height="7.8" rx="1.8" ry="3.3"/>
<rect x="2042.3" y="1017.8" width="3.6" height="7.8" rx="1.8" ry="3.3"/><rect x="2042.3" y="1025.6" width="3.6" height="7.8" rx="1.8" ry="3.3"/>
<rect x="1939.2" y="1041" width="3.6" height="7.8" rx="1.8" ry="3.3"/><rect x="1939.2" y="1048.8" width="3.6" height="7.8" rx="1.8" ry="3.3"/>
<rect x="1776.2" y="1064.2" width="3.6" height="7.8" rx="1.8" ry="3.3"/><rect x="1776.2" y="1072" width="3.6" height="7.8" rx="1.8" ry="3.3"/>
<rect x="1771.7" y="1087.5" width="3.6" height="7.8" rx="1.8" ry="3.3"/><rect x="1771.7" y="1095.3" width="3.6" height="7.8" rx="1.8" ry="3.3"/>
<rect x="1835.8" y="1110.7" width="3.6" height="7.8" rx="1.8" ry="3.3"/><rect x="1835.8" y="1118.5" width="3.6" height="7.8" rx="1.8" ry="3.3"/>
<rect x="1829.7" y="1133.9" width="3.6" height="7.8" rx="1.8" ry="3.3"/><rect x="1829.7" y="1141.7" width="3.6" height="7.8" rx="1.8" ry="3.3"/>
<rect x="1765" y="1157.1" width="3.6" height="7.8" rx="1.8" ry="3.3"/><rect x="1765" y="1164.9" width="3.6" height="7.8" rx="1.8" ry="3.3"/>
<rect x="1765" y="1180.3" width="3.6" height="7.8" rx="1.8" ry="3.3"/><rect x="1765" y="1188.1" width="3.6" height="7.8" rx="1.8" ry="3.3"/>
<rect x="1765" y="1203.5" width="3.6" height="7.8" rx="1.8" ry="3.3"/><rect x="1765" y="1211.3" width="3.6" height="7.8" rx="1.8" ry="3.3"/>
<rect x="1765" y="1226.7" width="3.6" height="7.8" rx="1.8" ry="3.3"/><rect x="1765" y="1234.5" width="3.6" height="7.8" rx="1.8" ry="3.3"/>
<rect x="1776.2" y="1249.9" width="3.6" height="7.8" rx="1.8" ry="3.3"/><rect x="1776.2" y="1257.7" width="3.6" height="7.8" rx="1.8" ry="3.3"/>
<rect x="1778.9" y="1273.1" width="3.6" height="7.8" rx="1.8" ry="3.3"/><rect x="1778.9" y="1280.9" width="3.6" height="7.8" rx="1.8" ry="3.3"/>
<rect x="1751.1" y="1296.4" width="3.6" height="7.8" rx="1.8" ry="3.3"/><rect x="1751.1" y="1304.2" width="3.6" height="7.8" rx="1.8" ry="3.3"/>
<rect x="1765" y="1319.6" width="3.6" height="7.8" rx="1.8" ry="3.3"/><rect x="1765" y="1327.4" width="3.6" height="7.8" rx="1.8" ry="3.3"/>
<rect x="1799.1" y="1342.8" width="3.6" height="7.8" rx="1.8" ry="3.3"/><rect x="1799.1" y="1350.6" width="3.6" height="7.8" rx="1.8" ry="3.3"/>
<rect x="1915.1" y="1342.8" width="3.6" height="7.8" rx="1.8" ry="3.3"/><rect x="1915.1" y="1350.6" width="3.6" height="7.8" rx="1.8" ry="3.3"/>
<rect x="1790.5" y="1366" width="3.6" height="7.8" rx="1.8" ry="3.3"/><rect x="1790.5" y="1373.8" width="3.6" height="7.8" rx="1.8" ry="3.3"/>
<rect x="1800.1" y="1389.2" width="3.6" height="7.8" rx="1.8" ry="3.3"/><rect x="1800.1" y="1397" width="3.6" height="7.8" rx="1.8" ry="3.3"/>
<rect x="1799.1" y="1412.4" width="3.6" height="7.8" rx="1.8" ry="3.3"/><rect x="1799.1" y="1420.2" width="3.6" height="7.8" rx="1.8" ry="3.3"/>
</g>
<g fill="#2ea02e" stroke="#1d8a1d" stroke-width="0.7">
<rect x="1799.5" y="34.7" width="6" height="7.8" rx="3" ry="3.3"/><rect x="1799.5" y="42.5" width="6" height="7.8" rx="3" ry="3.3"/>
<rect x="1790.9" y="57.9" width="6" height="7.8" rx="3" ry="3.3"/><rect x="1790.9" y="65.7" width="6" height="7.8" rx="3" ry="3.3"/>
<rect x="1792" y="81.1" width="6" height="7.8" rx="3" ry="3.3"/><rect x="1792" y="88.9" width="6" height="7.8" rx="3" ry="3.3"/>
<rect x="1795.8" y="104.3" width="6" height="7.8" rx="3" ry="3.3"/><rect x="1795.8" y="112.1" width="6" height="7.8" rx="3" ry="3.3"/>
<rect x="1812.4" y="104.3" width="6" height="7.8" rx="3" ry="3.3"/><rect x="1812.4" y="112.1" width="6" height="7.8" rx="3" ry="3.3"/>
<rect x="1791.3" y="127.5" width="6" height="7.8" rx="3" ry="3.3"/><rect x="1791.3" y="135.3" width="6" height="7.8" rx="3" ry="3.3"/>
<rect x="1808.1" y="127.5" width="6" height="7.8" rx="3" ry="3.3"/><rect x="1808.1" y="135.3" width="6" height="7.8" rx="3" ry="3.3"/>
<rect x="1790.3" y="150.7" width="6" height="7.8" rx="3" ry="3.3"/><rect x="1790.3" y="158.5" width="6" height="7.8" rx="3" ry="3.3"/>
<rect x="1790.7" y="173.9" width="6" height="7.8" rx="3" ry="3.3"/><rect x="1790.7" y="181.7" width="6" height="7.8" rx="3" ry="3.3"/>
<rect x="1792.4" y="197.1" width="6" height="7.8" rx="3" ry="3.3"/><rect x="1792.4" y="204.9" width="6" height="7.8" rx="3" ry="3.3"/>
<rect x="1792" y="220.3" width="6" height="7.8" rx="3" ry="3.3"/><rect x="1792" y="228.1" width="6" height="7.8" rx="3" ry="3.3"/>
<rect x="1792.8" y="243.5" width="6" height="7.8" rx="3" ry="3.3"/><rect x="1792.8" y="251.3" width="6" height="7.8" rx="3" ry="3.3"/>
<rect x="1792" y="266.7" width="6" height="7.8" rx="3" ry="3.3"/><rect x="1792" y="274.5" width="6" height="7.8" rx="3" ry="3.3"/>
<rect x="1792.4" y="289.9" width="6" height="7.8" rx="3" ry="3.3"/><rect x="1792.4" y="297.7" width="6" height="7.8" rx="3" ry="3.3"/>
<rect x="1792.8" y="313.1" width="6" height="7.8" rx="3" ry="3.3"/><rect x="1792.8" y="320.9" width="6" height="7.8" rx="3" ry="3.3"/>
<rect x="1792.4" y="336.3" width="6" height="7.8" rx="3" ry="3.3"/><rect x="1792.4" y="344.1" width="6" height="7.8" rx="3" ry="3.3"/>
<rect x="1794.4" y="359.5" width="6" height="7.8" rx="3" ry="3.3"/><rect x="1794.4" y="367.3" width="6" height="7.8" rx="3" ry="3.3"/>
<rect x="1791.7" y="382.7" width="6" height="7.8" rx="3" ry="3.3"/><rect x="1791.7" y="390.5" width="6" height="7.8" rx="3" ry="3.3"/>
<rect x="1792.8" y="405.9" width="6" height="7.8" rx="3" ry="3.3"/><rect x="1792.8" y="413.7" width="6" height="7.8" rx="3" ry="3.3"/>
<rect x="1794.8" y="429.1" width="6" height="7.8" rx="3" ry="3.3"/><rect x="1794.8" y="436.9" width="6" height="7.8" rx="3" ry="3.3"/>
<rect x="1792.8" y="452.3" width="6" height="7.8" rx="3" ry="3.3"/><rect x="1792.8" y="460.1" width="6" height="7.8" rx="3" ry="3.3"/>
<rect x="1791.7" y="475.5" width="6" height="7.8" rx="3" ry="3.3"/><rect x="1791.7" y="483.3" width="6" height="7.8" rx="3" ry="3.3"/>
<rect x="1792.4" y="498.7" width="6" height="7.8" rx="3" ry="3.3"/><rect x="1792.4" y="506.5" width="6" height="7.8" rx="3" ry="3.3"/>
<rect x="1792.4" y="521.9" width="6" height="7.8" rx="3" ry="3.3"/><rect x="1792.4" y="529.7" width="6" height="7.8" rx="3" ry="3.3"/>
<rect x="1792.4" y="545.1" width="6" height="7.8" rx="3" ry="3.3"/><rect x="1792.4" y="552.9" width="6" height="7.8" rx="3" ry="3.3"/>
<rect x="1792.4" y="568.3" width="6" height="7.8" rx="3" ry="3.3"/><rect x="1792.4" y="576.1" width="6" height="7.8" rx="3" ry="3.3"/>
<rect x="1792.4" y="591.5" width="6" height="7.8" rx="3" ry="3.3"/><rect x="1792.4" y="599.3" width="6" height="7.8" rx="3" ry="3.3"/>
<rect x="1803" y="614.7" width="6" height="7.8" rx="3" ry="3.3"/><rect x="1803" y="622.5" width="6" height="7.8" rx="3" ry="3.3"/>
<rect x="1881.6" y="662.6" width="6" height="7.8" rx="3" ry="3.3"/><rect x="1881.6" y="670.4" width="6" height="7.8" rx="3" ry="3.3"/>
<rect x="1927.8" y="685.6" width="6" height="7.8" rx="3" ry="3.3"/><rect x="1927.8" y="693.4" width="6" height="7.8" rx="3" ry="3.3"/>
<rect x="1768.3" y="716.1" width="6" height="7.8" rx="3" ry="3.3"/><rect x="1768.3" y="723.9" width="6" height="7.8" rx="3" ry="3.3"/>
<rect x="1754.2" y="739.3" width="6" height="7.8" rx="3" ry="3.3"/><rect x="1754.2" y="747.1" width="6" height="7.8" rx="3" ry="3.3"/>
<rect x="1788.7" y="762.5" width="6" height="7.8" rx="3" ry="3.3"/><rect x="1788.7" y="770.3" width="6" height="7.8" rx="3" ry="3.3"/>
<rect x="1860.4" y="785.7" width="6" height="7.8" rx="3" ry="3.3"/><rect x="1860.4" y="793.5" width="6" height="7.8" rx="3" ry="3.3"/>
<rect x="1770.9" y="808.9" width="6" height="7.8" rx="3" ry="3.3"/><rect x="1770.9" y="816.7" width="6" height="7.8" rx="3" ry="3.3"/>
<rect x="1779.7" y="832.2" width="6" height="7.8" rx="3" ry="3.3"/><rect x="1779.7" y="840" width="6" height="7.8" rx="3" ry="3.3"/>
<rect x="1774.4" y="855.4" width="6" height="7.8" rx="3" ry="3.3"/><rect x="1774.4" y="863.2" width="6" height="7.8" rx="3" ry="3.3"/>
<rect x="1774" y="878.6" width="6" height="7.8" rx="3" ry="3.3"/><rect x="1774" y="886.4" width="6" height="7.8" rx="3" ry="3.3"/>
<rect x="1774" y="901.8" width="6" height="7.8" rx="3" ry="3.3"/><rect x="1774" y="909.6" width="6" height="7.8" rx="3" ry="3.3"/>
<rect x="1774.4" y="925" width="6" height="7.8" rx="3" ry="3.3"/><rect x="1774.4" y="932.8" width="6" height="7.8" rx="3" ry="3.3"/>
<rect x="1774.4" y="948.2" width="6" height="7.8" rx="3" ry="3.3"/><rect x="1774.4" y="956" width="6" height="7.8" rx="3" ry="3.3"/>
<rect x="1774.4" y="971.4" width="6" height="7.8" rx="3" ry="3.3"/><rect x="1774.4" y="979.2" width="6" height="7.8" rx="3" ry="3.3"/>
<rect x="1783.2" y="994.6" width="6" height="7.8" rx="3" ry="3.3"/><rect x="1783.2" y="1002.4" width="6" height="7.8" rx="3" ry="3.3"/>
<rect x="2050.3" y="1017.8" width="6" height="7.8" rx="3" ry="3.3"/><rect x="2050.3" y="1025.6" width="6" height="7.8" rx="3" ry="3.3"/>
<rect x="1946.6" y="1041" width="6" height="7.8" rx="3" ry="3.3"/><rect x="1946.6" y="1048.8" width="6" height="7.8" rx="3" ry="3.3"/>
<rect x="1784.2" y="1064.2" width="6" height="7.8" rx="3" ry="3.3"/><rect x="1784.2" y="1072" width="6" height="7.8" rx="3" ry="3.3"/>
<rect x="1779.7" y="1087.5" width="6" height="7.8" rx="3" ry="3.3"/><rect x="1779.7" y="1095.3" width="6" height="7.8" rx="3" ry="3.3"/>
<rect x="1843.4" y="1110.7" width="6" height="7.8" rx="3" ry="3.3"/><rect x="1843.4" y="1118.5" width="6" height="7.8" rx="3" ry="3.3"/>
<rect x="1837.7" y="1133.9" width="6" height="7.8" rx="3" ry="3.3"/><rect x="1837.7" y="1141.7" width="6" height="7.8" rx="3" ry="3.3"/>
<rect x="1773" y="1157.1" width="6" height="7.8" rx="3" ry="3.3"/><rect x="1773" y="1164.9" width="6" height="7.8" rx="3" ry="3.3"/>
<rect x="1773.4" y="1180.3" width="6" height="7.8" rx="3" ry="3.3"/><rect x="1773.4" y="1188.1" width="6" height="7.8" rx="3" ry="3.3"/>
<rect x="1773" y="1203.5" width="6" height="7.8" rx="3" ry="3.3"/><rect x="1773" y="1211.3" width="6" height="7.8" rx="3" ry="3.3"/>
<rect x="1773" y="1226.7" width="6" height="7.8" rx="3" ry="3.3"/><rect x="1773" y="1234.5" width="6" height="7.8" rx="3" ry="3.3"/>
<rect x="1786.2" y="1249.9" width="6" height="7.8" rx="3" ry="3.3"/><rect x="1786.2" y="1257.7" width="6" height="7.8" rx="3" ry="3.3"/>
<rect x="1788.3" y="1273.1" width="6" height="7.8" rx="3" ry="3.3"/><rect x="1788.3" y="1280.9" width="6" height="7.8" rx="3" ry="3.3"/>
<rect x="1761.1" y="1296.4" width="6" height="7.8" rx="3" ry="3.3"/><rect x="1761.1" y="1304.2" width="6" height="7.8" rx="3" ry="3.3"/>
<rect x="1774.6" y="1319.6" width="6" height="7.8" rx="3" ry="3.3"/><rect x="1774.6" y="1327.4" width="6" height="7.8" rx="3" ry="3.3"/>
<rect x="1819.9" y="1342.8" width="6" height="7.8" rx="3" ry="3.3"/><rect x="1819.9" y="1350.6" width="6" height="7.8" rx="3" ry="3.3"/>
<rect x="1798.9" y="1366" width="6" height="7.8" rx="3" ry="3.3"/><rect x="1798.9" y="1373.8" width="6" height="7.8" rx="3" ry="3.3"/>
<rect x="1808.7" y="1389.2" width="6" height="7.8" rx="3" ry="3.3"/><rect x="1808.7" y="1397" width="6" height="7.8" rx="3" ry="3.3"/>
<rect x="1807.3" y="1412.4" width="6" height="7.8" rx="3" ry="3.3"/><rect x="1807.3" y="1420.2" width="6" height="7.8" rx="3" ry="3.3"/>
</g>
<g fill="#0a9a94" stroke="#0b4a44" stroke-width="0.7">
<rect x="1808.9" y="34.7" width="4.4" height="7.8" rx="2.2" ry="3.3"/><rect x="1808.9" y="42.5" width="4.4" height="7.8" rx="2.2" ry="3.3"/>
<rect x="1800.3" y="57.9" width="4.4" height="7.8" rx="2.2" ry="3.3"/><rect x="1800.3" y="65.7" width="4.4" height="7.8" rx="2.2" ry="3.3"/>
<rect x="1801.3" y="81.1" width="4.4" height="7.8" rx="2.2" ry="3.3"/><rect x="1801.3" y="88.9" width="4.4" height="7.8" rx="2.2" ry="3.3"/>
<rect x="1805" y="104.3" width="4.4" height="7.8" rx="2.2" ry="3.3"/><rect x="1805" y="112.1" width="4.4" height="7.8" rx="2.2" ry="3.3"/>
<rect x="1800.3" y="127.5" width="4.4" height="7.8" rx="2.2" ry="3.3"/><rect x="1800.3" y="135.3" width="4.4" height="7.8" rx="2.2" ry="3.3"/>
<rect x="1802.4" y="150.7" width="4.4" height="7.8" rx="2.2" ry="3.3"/><rect x="1802.4" y="158.5" width="4.4" height="7.8" rx="2.2" ry="3.3"/>
<rect x="1799.7" y="173.9" width="4.4" height="7.8" rx="2.2" ry="3.3"/><rect x="1799.7" y="181.7" width="4.4" height="7.8" rx="2.2" ry="3.3"/>
<rect x="1801.7" y="197.1" width="4.4" height="7.8" rx="2.2" ry="3.3"/><rect x="1801.7" y="204.9" width="4.4" height="7.8" rx="2.2" ry="3.3"/>
<rect x="1801.3" y="220.3" width="4.4" height="7.8" rx="2.2" ry="3.3"/><rect x="1801.3" y="228.1" width="4.4" height="7.8" rx="2.2" ry="3.3"/>
<rect x="1802.8" y="243.5" width="4.4" height="7.8" rx="2.2" ry="3.3"/><rect x="1802.8" y="251.3" width="4.4" height="7.8" rx="2.2" ry="3.3"/>
<rect x="1801.3" y="266.7" width="4.4" height="7.8" rx="2.2" ry="3.3"/><rect x="1801.3" y="274.5" width="4.4" height="7.8" rx="2.2" ry="3.3"/>
<rect x="1935.7" y="266.7" width="4.4" height="7.8" rx="2.2" ry="3.3"/><rect x="1935.7" y="274.5" width="4.4" height="7.8" rx="2.2" ry="3.3"/>
<rect x="1801.7" y="289.9" width="4.4" height="7.8" rx="2.2" ry="3.3"/><rect x="1801.7" y="297.7" width="4.4" height="7.8" rx="2.2" ry="3.3"/>
<rect x="1802.4" y="313.1" width="4.4" height="7.8" rx="2.2" ry="3.3"/><rect x="1802.4" y="320.9" width="4.4" height="7.8" rx="2.2" ry="3.3"/>
<rect x="1801.7" y="336.3" width="4.4" height="7.8" rx="2.2" ry="3.3"/><rect x="1801.7" y="344.1" width="4.4" height="7.8" rx="2.2" ry="3.3"/>
<rect x="1803.8" y="359.5" width="4.4" height="7.8" rx="2.2" ry="3.3"/><rect x="1803.8" y="367.3" width="4.4" height="7.8" rx="2.2" ry="3.3"/>
<rect x="1800.9" y="382.7" width="4.4" height="7.8" rx="2.2" ry="3.3"/><rect x="1800.9" y="390.5" width="4.4" height="7.8" rx="2.2" ry="3.3"/>
<rect x="1802.4" y="405.9" width="4.4" height="7.8" rx="2.2" ry="3.3"/><rect x="1802.4" y="413.7" width="4.4" height="7.8" rx="2.2" ry="3.3"/>
<rect x="1936.5" y="405.9" width="4.4" height="7.8" rx="2.2" ry="3.3"/><rect x="1936.5" y="413.7" width="4.4" height="7.8" rx="2.2" ry="3.3"/>
<rect x="1804" y="429.1" width="4.4" height="7.8" rx="2.2" ry="3.3"/><rect x="1804" y="436.9" width="4.4" height="7.8" rx="2.2" ry="3.3"/>
<rect x="1939.2" y="429.1" width="4.4" height="7.8" rx="2.2" ry="3.3"/><rect x="1939.2" y="436.9" width="4.4" height="7.8" rx="2.2" ry="3.3"/>
<rect x="1802.4" y="452.3" width="4.4" height="7.8" rx="2.2" ry="3.3"/><rect x="1802.4" y="460.1" width="4.4" height="7.8" rx="2.2" ry="3.3"/>
<rect x="1800.9" y="475.5" width="4.4" height="7.8" rx="2.2" ry="3.3"/><rect x="1800.9" y="483.3" width="4.4" height="7.8" rx="2.2" ry="3.3"/>
<rect x="1935.1" y="475.5" width="4.4" height="7.8" rx="2.2" ry="3.3"/><rect x="1935.1" y="483.3" width="4.4" height="7.8" rx="2.2" ry="3.3"/>
<rect x="1801.9" y="498.7" width="4.4" height="7.8" rx="2.2" ry="3.3"/><rect x="1801.9" y="506.5" width="4.4" height="7.8" rx="2.2" ry="3.3"/>
<rect x="1935.7" y="498.7" width="4.4" height="7.8" rx="2.2" ry="3.3"/><rect x="1935.7" y="506.5" width="4.4" height="7.8" rx="2.2" ry="3.3"/>
<rect x="1801.7" y="521.9" width="4.4" height="7.8" rx="2.2" ry="3.3"/><rect x="1801.7" y="529.7" width="4.4" height="7.8" rx="2.2" ry="3.3"/>
<rect x="1941.2" y="521.9" width="4.4" height="7.8" rx="2.2" ry="3.3"/><rect x="1941.2" y="529.7" width="4.4" height="7.8" rx="2.2" ry="3.3"/>
<rect x="1801.7" y="545.1" width="4.4" height="7.8" rx="2.2" ry="3.3"/><rect x="1801.7" y="552.9" width="4.4" height="7.8" rx="2.2" ry="3.3"/>
<rect x="1937.8" y="545.1" width="4.4" height="7.8" rx="2.2" ry="3.3"/><rect x="1937.8" y="552.9" width="4.4" height="7.8" rx="2.2" ry="3.3"/>
<rect x="1801.7" y="568.3" width="4.4" height="7.8" rx="2.2" ry="3.3"/><rect x="1801.7" y="576.1" width="4.4" height="7.8" rx="2.2" ry="3.3"/>
<rect x="1935.7" y="568.3" width="4.4" height="7.8" rx="2.2" ry="3.3"/><rect x="1935.7" y="576.1" width="4.4" height="7.8" rx="2.2" ry="3.3"/>
<rect x="1801.7" y="591.5" width="4.4" height="7.8" rx="2.2" ry="3.3"/><rect x="1801.7" y="599.3" width="4.4" height="7.8" rx="2.2" ry="3.3"/>
<rect x="1935.7" y="591.5" width="4.4" height="7.8" rx="2.2" ry="3.3"/><rect x="1935.7" y="599.3" width="4.4" height="7.8" rx="2.2" ry="3.3"/>
<rect x="1812.2" y="614.7" width="4.4" height="7.8" rx="2.2" ry="3.3"/><rect x="1812.2" y="622.5" width="4.4" height="7.8" rx="2.2" ry="3.3"/>
<rect x="1945.3" y="614.7" width="4.4" height="7.8" rx="2.2" ry="3.3"/><rect x="1945.3" y="622.5" width="4.4" height="7.8" rx="2.2" ry="3.3"/>
<rect x="1827.9" y="637.9" width="4.4" height="7.8" rx="2.2" ry="3.3"/><rect x="1827.9" y="645.7" width="4.4" height="7.8" rx="2.2" ry="3.3"/>
<rect x="1891.2" y="662.6" width="4.4" height="7.8" rx="2.2" ry="3.3"/><rect x="1891.2" y="670.4" width="4.4" height="7.8" rx="2.2" ry="3.3"/>
<rect x="1937.2" y="685.6" width="4.4" height="7.8" rx="2.2" ry="3.3"/><rect x="1937.2" y="693.4" width="4.4" height="7.8" rx="2.2" ry="3.3"/>
<rect x="1777.4" y="716.1" width="4.4" height="7.8" rx="2.2" ry="3.3"/><rect x="1777.4" y="723.9" width="4.4" height="7.8" rx="2.2" ry="3.3"/>
<rect x="1764.2" y="739.3" width="4.4" height="7.8" rx="2.2" ry="3.3"/><rect x="1764.2" y="747.1" width="4.4" height="7.8" rx="2.2" ry="3.3"/>
<rect x="1798.3" y="762.5" width="4.4" height="7.8" rx="2.2" ry="3.3"/><rect x="1798.3" y="770.3" width="4.4" height="7.8" rx="2.2" ry="3.3"/>
<rect x="1870.2" y="785.7" width="4.4" height="7.8" rx="2.2" ry="3.3"/><rect x="1870.2" y="793.5" width="4.4" height="7.8" rx="2.2" ry="3.3"/>
<rect x="1780.5" y="808.9" width="4.4" height="7.8" rx="2.2" ry="3.3"/><rect x="1780.5" y="816.7" width="4.4" height="7.8" rx="2.2" ry="3.3"/>
<rect x="1789.1" y="832.2" width="4.4" height="7.8" rx="2.2" ry="3.3"/><rect x="1789.1" y="840" width="4.4" height="7.8" rx="2.2" ry="3.3"/>
<rect x="1784" y="855.4" width="4.4" height="7.8" rx="2.2" ry="3.3"/><rect x="1784" y="863.2" width="4.4" height="7.8" rx="2.2" ry="3.3"/>
<rect x="1783.6" y="878.6" width="4.4" height="7.8" rx="2.2" ry="3.3"/><rect x="1783.6" y="886.4" width="4.4" height="7.8" rx="2.2" ry="3.3"/>
<rect x="1783.6" y="901.8" width="4.4" height="7.8" rx="2.2" ry="3.3"/><rect x="1783.6" y="909.6" width="4.4" height="7.8" rx="2.2" ry="3.3"/>
<rect x="1784" y="925" width="4.4" height="7.8" rx="2.2" ry="3.3"/><rect x="1784" y="932.8" width="4.4" height="7.8" rx="2.2" ry="3.3"/>
<rect x="1784" y="948.2" width="4.4" height="7.8" rx="2.2" ry="3.3"/><rect x="1784" y="956" width="4.4" height="7.8" rx="2.2" ry="3.3"/>
<rect x="1784" y="971.4" width="4.4" height="7.8" rx="2.2" ry="3.3"/><rect x="1784" y="979.2" width="4.4" height="7.8" rx="2.2" ry="3.3"/>
<rect x="1792.8" y="994.6" width="4.4" height="7.8" rx="2.2" ry="3.3"/><rect x="1792.8" y="1002.4" width="4.4" height="7.8" rx="2.2" ry="3.3"/>
<rect x="2059.7" y="1017.8" width="4.4" height="7.8" rx="2.2" ry="3.3"/><rect x="2059.7" y="1025.6" width="4.4" height="7.8" rx="2.2" ry="3.3"/>
<rect x="1956.1" y="1041" width="4.4" height="7.8" rx="2.2" ry="3.3"/><rect x="1956.1" y="1048.8" width="4.4" height="7.8" rx="2.2" ry="3.3"/>
<rect x="1793.6" y="1064.2" width="4.4" height="7.8" rx="2.2" ry="3.3"/><rect x="1793.6" y="1072" width="4.4" height="7.8" rx="2.2" ry="3.3"/>
<rect x="1788.7" y="1087.5" width="4.4" height="7.8" rx="2.2" ry="3.3"/><rect x="1788.7" y="1095.3" width="4.4" height="7.8" rx="2.2" ry="3.3"/>
<rect x="1853" y="1110.7" width="4.4" height="7.8" rx="2.2" ry="3.3"/><rect x="1853" y="1118.5" width="4.4" height="7.8" rx="2.2" ry="3.3"/>
<rect x="1847.3" y="1133.9" width="4.4" height="7.8" rx="2.2" ry="3.3"/><rect x="1847.3" y="1141.7" width="4.4" height="7.8" rx="2.2" ry="3.3"/>
<rect x="1782.3" y="1157.1" width="4.4" height="7.8" rx="2.2" ry="3.3"/><rect x="1782.3" y="1164.9" width="4.4" height="7.8" rx="2.2" ry="3.3"/>
<rect x="1782.5" y="1180.3" width="4.4" height="7.8" rx="2.2" ry="3.3"/><rect x="1782.5" y="1188.1" width="4.4" height="7.8" rx="2.2" ry="3.3"/>
<rect x="1782.3" y="1203.5" width="4.4" height="7.8" rx="2.2" ry="3.3"/><rect x="1782.3" y="1211.3" width="4.4" height="7.8" rx="2.2" ry="3.3"/>
<rect x="1782.3" y="1226.7" width="4.4" height="7.8" rx="2.2" ry="3.3"/><rect x="1782.3" y="1234.5" width="4.4" height="7.8" rx="2.2" ry="3.3"/>
<rect x="1795.8" y="1249.9" width="4.4" height="7.8" rx="2.2" ry="3.3"/><rect x="1795.8" y="1257.7" width="4.4" height="7.8" rx="2.2" ry="3.3"/>
<rect x="1797.9" y="1273.1" width="4.4" height="7.8" rx="2.2" ry="3.3"/><rect x="1797.9" y="1280.9" width="4.4" height="7.8" rx="2.2" ry="3.3"/>
<rect x="2021.3" y="1273.1" width="4.4" height="7.8" rx="2.2" ry="3.3"/><rect x="2021.3" y="1280.9" width="4.4" height="7.8" rx="2.2" ry="3.3"/>
<rect x="1770.7" y="1296.4" width="4.4" height="7.8" rx="2.2" ry="3.3"/><rect x="1770.7" y="1304.2" width="4.4" height="7.8" rx="2.2" ry="3.3"/>
<rect x="1785.6" y="1319.6" width="4.4" height="7.8" rx="2.2" ry="3.3"/><rect x="1785.6" y="1327.4" width="4.4" height="7.8" rx="2.2" ry="3.3"/>
<rect x="1829.5" y="1342.8" width="4.4" height="7.8" rx="2.2" ry="3.3"/><rect x="1829.5" y="1350.6" width="4.4" height="7.8" rx="2.2" ry="3.3"/>
<rect x="1808.5" y="1366" width="4.4" height="7.8" rx="2.2" ry="3.3"/><rect x="1808.5" y="1373.8" width="4.4" height="7.8" rx="2.2" ry="3.3"/>
<rect x="1818.3" y="1389.2" width="4.4" height="7.8" rx="2.2" ry="3.3"/><rect x="1818.3" y="1397" width="4.4" height="7.8" rx="2.2" ry="3.3"/>
<rect x="1817.1" y="1412.4" width="4.4" height="7.8" rx="2.2" ry="3.3"/><rect x="1817.1" y="1420.2" width="4.4" height="7.8" rx="2.2" ry="3.3"/>
</g>
<g fill="#ff9a4a" stroke="#ff7a20" stroke-width="0.7">
<rect x="1838.5" y="34.7" width="4.4" height="7.8" rx="2.2" ry="3.3"/><rect x="1838.5" y="42.5" width="4.4" height="7.8" rx="2.2" ry="3.3"/>
<rect x="1829.9" y="57.9" width="4.4" height="7.8" rx="2.2" ry="3.3"/><rect x="1829.9" y="65.7" width="4.4" height="7.8" rx="2.2" ry="3.3"/>
<rect x="1831.4" y="81.1" width="4.4" height="7.8" rx="2.2" ry="3.3"/><rect x="1831.4" y="88.9" width="4.4" height="7.8" rx="2.2" ry="3.3"/>
<rect x="1834.6" y="104.3" width="4.4" height="7.8" rx="2.2" ry="3.3"/><rect x="1834.6" y="112.1" width="4.4" height="7.8" rx="2.2" ry="3.3"/>
<rect x="1829.9" y="127.5" width="4.4" height="7.8" rx="2.2" ry="3.3"/><rect x="1829.9" y="135.3" width="4.4" height="7.8" rx="2.2" ry="3.3"/>
<rect x="1832" y="150.7" width="4.4" height="7.8" rx="2.2" ry="3.3"/><rect x="1832" y="158.5" width="4.4" height="7.8" rx="2.2" ry="3.3"/>
<rect x="1829.3" y="173.9" width="4.4" height="7.8" rx="2.2" ry="3.3"/><rect x="1829.3" y="181.7" width="4.4" height="7.8" rx="2.2" ry="3.3"/>
<rect x="1831.6" y="197.1" width="4.4" height="7.8" rx="2.2" ry="3.3"/><rect x="1831.6" y="204.9" width="4.4" height="7.8" rx="2.2" ry="3.3"/>
<rect x="1830.9" y="220.3" width="4.4" height="7.8" rx="2.2" ry="3.3"/><rect x="1830.9" y="228.1" width="4.4" height="7.8" rx="2.2" ry="3.3"/>
<rect x="1832.4" y="243.5" width="4.4" height="7.8" rx="2.2" ry="3.3"/><rect x="1832.4" y="251.3" width="4.4" height="7.8" rx="2.2" ry="3.3"/>
<rect x="1831.4" y="266.7" width="4.4" height="7.8" rx="2.2" ry="3.3"/><rect x="1831.4" y="274.5" width="4.4" height="7.8" rx="2.2" ry="3.3"/>
<rect x="1831.6" y="289.9" width="4.4" height="7.8" rx="2.2" ry="3.3"/><rect x="1831.6" y="297.7" width="4.4" height="7.8" rx="2.2" ry="3.3"/>
<rect x="1832" y="313.1" width="4.4" height="7.8" rx="2.2" ry="3.3"/><rect x="1832" y="320.9" width="4.4" height="7.8" rx="2.2" ry="3.3"/>
<rect x="1831.4" y="336.3" width="4.4" height="7.8" rx="2.2" ry="3.3"/><rect x="1831.4" y="344.1" width="4.4" height="7.8" rx="2.2" ry="3.3"/>
<rect x="1833.6" y="359.5" width="4.4" height="7.8" rx="2.2" ry="3.3"/><rect x="1833.6" y="367.3" width="4.4" height="7.8" rx="2.2" ry="3.3"/>
<rect x="1830.9" y="382.7" width="4.4" height="7.8" rx="2.2" ry="3.3"/><rect x="1830.9" y="390.5" width="4.4" height="7.8" rx="2.2" ry="3.3"/>
<rect x="1832" y="405.9" width="4.4" height="7.8" rx="2.2" ry="3.3"/><rect x="1832" y="413.7" width="4.4" height="7.8" rx="2.2" ry="3.3"/>
<rect x="1834" y="429.1" width="4.4" height="7.8" rx="2.2" ry="3.3"/><rect x="1834" y="436.9" width="4.4" height="7.8" rx="2.2" ry="3.3"/>
<rect x="1832" y="452.3" width="4.4" height="7.8" rx="2.2" ry="3.3"/><rect x="1832" y="460.1" width="4.4" height="7.8" rx="2.2" ry="3.3"/>
<rect x="1830.9" y="475.5" width="4.4" height="7.8" rx="2.2" ry="3.3"/><rect x="1830.9" y="483.3" width="4.4" height="7.8" rx="2.2" ry="3.3"/>
<rect x="1832" y="498.7" width="4.4" height="7.8" rx="2.2" ry="3.3"/><rect x="1832" y="506.5" width="4.4" height="7.8" rx="2.2" ry="3.3"/>
<rect x="1838.1" y="521.9" width="4.4" height="7.8" rx="2.2" ry="3.3"/><rect x="1838.1" y="529.7" width="4.4" height="7.8" rx="2.2" ry="3.3"/>
<rect x="1834.4" y="545.1" width="4.4" height="7.8" rx="2.2" ry="3.3"/><rect x="1834.4" y="552.9" width="4.4" height="7.8" rx="2.2" ry="3.3"/>
<rect x="1831.6" y="568.3" width="4.4" height="7.8" rx="2.2" ry="3.3"/><rect x="1831.6" y="576.1" width="4.4" height="7.8" rx="2.2" ry="3.3"/>
<rect x="1831.6" y="591.5" width="4.4" height="7.8" rx="2.2" ry="3.3"/><rect x="1831.6" y="599.3" width="4.4" height="7.8" rx="2.2" ry="3.3"/>
<rect x="1842.2" y="614.7" width="4.4" height="7.8" rx="2.2" ry="3.3"/><rect x="1842.2" y="622.5" width="4.4" height="7.8" rx="2.2" ry="3.3"/>
<rect x="1807.5" y="716.1" width="4.4" height="7.8" rx="2.2" ry="3.3"/><rect x="1807.5" y="723.9" width="4.4" height="7.8" rx="2.2" ry="3.3"/>
<rect x="1794.2" y="739.3" width="4.4" height="7.8" rx="2.2" ry="3.3"/><rect x="1794.2" y="747.1" width="4.4" height="7.8" rx="2.2" ry="3.3"/>
<rect x="1814.6" y="855.4" width="4.4" height="7.8" rx="2.2" ry="3.3"/><rect x="1814.6" y="863.2" width="4.4" height="7.8" rx="2.2" ry="3.3"/>
<rect x="1813.6" y="878.6" width="4.4" height="7.8" rx="2.2" ry="3.3"/><rect x="1813.6" y="886.4" width="4.4" height="7.8" rx="2.2" ry="3.3"/>
<rect x="1813.2" y="901.8" width="4.4" height="7.8" rx="2.2" ry="3.3"/><rect x="1813.2" y="909.6" width="4.4" height="7.8" rx="2.2" ry="3.3"/>
<rect x="1814" y="925" width="4.4" height="7.8" rx="2.2" ry="3.3"/><rect x="1814" y="932.8" width="4.4" height="7.8" rx="2.2" ry="3.3"/>
<rect x="1814" y="948.2" width="4.4" height="7.8" rx="2.2" ry="3.3"/><rect x="1814" y="956" width="4.4" height="7.8" rx="2.2" ry="3.3"/>
<rect x="2089.7" y="1017.8" width="4.4" height="7.8" rx="2.2" ry="3.3"/><rect x="2089.7" y="1025.6" width="4.4" height="7.8" rx="2.2" ry="3.3"/>
<rect x="1986.2" y="1041" width="4.4" height="7.8" rx="2.2" ry="3.3"/><rect x="1986.2" y="1048.8" width="4.4" height="7.8" rx="2.2" ry="3.3"/>
<rect x="1830.9" y="1064.2" width="4.4" height="7.8" rx="2.2" ry="3.3"/><rect x="1830.9" y="1072" width="4.4" height="7.8" rx="2.2" ry="3.3"/>
<rect x="1825.8" y="1087.5" width="4.4" height="7.8" rx="2.2" ry="3.3"/><rect x="1825.8" y="1095.3" width="4.4" height="7.8" rx="2.2" ry="3.3"/>
<rect x="1774.4" y="1110.7" width="4.4" height="7.8" rx="2.2" ry="3.3"/><rect x="1774.4" y="1118.5" width="4.4" height="7.8" rx="2.2" ry="3.3"/>
<rect x="1884.7" y="1110.7" width="4.4" height="7.8" rx="2.2" ry="3.3"/><rect x="1884.7" y="1118.5" width="4.4" height="7.8" rx="2.2" ry="3.3"/>
<rect x="1775.8" y="1133.9" width="4.4" height="7.8" rx="2.2" ry="3.3"/><rect x="1775.8" y="1141.7" width="4.4" height="7.8" rx="2.2" ry="3.3"/>
<rect x="1878.5" y="1133.9" width="4.4" height="7.8" rx="2.2" ry="3.3"/><rect x="1878.5" y="1141.7" width="4.4" height="7.8" rx="2.2" ry="3.3"/>
<rect x="1812.6" y="1157.1" width="4.4" height="7.8" rx="2.2" ry="3.3"/><rect x="1812.6" y="1164.9" width="4.4" height="7.8" rx="2.2" ry="3.3"/>
<rect x="1813" y="1180.3" width="4.4" height="7.8" rx="2.2" ry="3.3"/><rect x="1813" y="1188.1" width="4.4" height="7.8" rx="2.2" ry="3.3"/>
<rect x="1808.9" y="1203.5" width="4.4" height="7.8" rx="2.2" ry="3.3"/><rect x="1808.9" y="1211.3" width="4.4" height="7.8" rx="2.2" ry="3.3"/>
<rect x="1812.6" y="1226.7" width="4.4" height="7.8" rx="2.2" ry="3.3"/><rect x="1812.6" y="1234.5" width="4.4" height="7.8" rx="2.2" ry="3.3"/>
<rect x="1827.3" y="1273.1" width="4.4" height="7.8" rx="2.2" ry="3.3"/><rect x="1827.3" y="1280.9" width="4.4" height="7.8" rx="2.2" ry="3.3"/>
<rect x="1800.3" y="1296.4" width="4.4" height="7.8" rx="2.2" ry="3.3"/><rect x="1800.3" y="1304.2" width="4.4" height="7.8" rx="2.2" ry="3.3"/>
<rect x="1815" y="1319.6" width="4.4" height="7.8" rx="2.2" ry="3.3"/><rect x="1815" y="1327.4" width="4.4" height="7.8" rx="2.2" ry="3.3"/>
</g>
<g fill="#ffd800" stroke="#ffb400" stroke-width="0.7">
<rect x="1851.9" y="34.7" width="5.8" height="7.8" rx="2.9" ry="3.3"/><rect x="1851.9" y="42.5" width="5.8" height="7.8" rx="2.9" ry="3.3"/>
<rect x="1843.1" y="57.9" width="5.8" height="7.8" rx="2.9" ry="3.3"/><rect x="1843.1" y="65.7" width="5.8" height="7.8" rx="2.9" ry="3.3"/>
<rect x="1844.1" y="81.1" width="5.8" height="7.8" rx="2.9" ry="3.3"/><rect x="1844.1" y="88.9" width="5.8" height="7.8" rx="2.9" ry="3.3"/>
<rect x="1848.2" y="104.3" width="5.8" height="7.8" rx="2.9" ry="3.3"/><rect x="1848.2" y="112.1" width="5.8" height="7.8" rx="2.9" ry="3.3"/>
<rect x="1843.1" y="127.5" width="5.8" height="7.8" rx="2.9" ry="3.3"/><rect x="1843.1" y="135.3" width="5.8" height="7.8" rx="2.9" ry="3.3"/>
<rect x="1845.2" y="150.7" width="5.8" height="7.8" rx="2.9" ry="3.3"/><rect x="1845.2" y="158.5" width="5.8" height="7.8" rx="2.9" ry="3.3"/>
<rect x="1842.5" y="173.9" width="5.8" height="7.8" rx="2.9" ry="3.3"/><rect x="1842.5" y="181.7" width="5.8" height="7.8" rx="2.9" ry="3.3"/>
<rect x="1844.1" y="197.1" width="5.8" height="7.8" rx="2.9" ry="3.3"/><rect x="1844.1" y="204.9" width="5.8" height="7.8" rx="2.9" ry="3.3"/>
<rect x="1843.9" y="220.3" width="5.8" height="7.8" rx="2.9" ry="3.3"/><rect x="1843.9" y="228.1" width="5.8" height="7.8" rx="2.9" ry="3.3"/>
<rect x="1845.6" y="243.5" width="5.8" height="7.8" rx="2.9" ry="3.3"/><rect x="1845.6" y="251.3" width="5.8" height="7.8" rx="2.9" ry="3.3"/>
<rect x="1844.1" y="266.7" width="5.8" height="7.8" rx="2.9" ry="3.3"/><rect x="1844.1" y="274.5" width="5.8" height="7.8" rx="2.9" ry="3.3"/>
<rect x="1845" y="289.9" width="5.8" height="7.8" rx="2.9" ry="3.3"/><rect x="1845" y="297.7" width="5.8" height="7.8" rx="2.9" ry="3.3"/>
<rect x="1845.6" y="313.1" width="5.8" height="7.8" rx="2.9" ry="3.3"/><rect x="1845.6" y="320.9" width="5.8" height="7.8" rx="2.9" ry="3.3"/>
<rect x="1844.5" y="336.3" width="5.8" height="7.8" rx="2.9" ry="3.3"/><rect x="1844.5" y="344.1" width="5.8" height="7.8" rx="2.9" ry="3.3"/>
<rect x="1847" y="359.5" width="5.8" height="7.8" rx="2.9" ry="3.3"/><rect x="1847" y="367.3" width="5.8" height="7.8" rx="2.9" ry="3.3"/>
<rect x="1843.5" y="382.7" width="5.8" height="7.8" rx="2.9" ry="3.3"/><rect x="1843.5" y="390.5" width="5.8" height="7.8" rx="2.9" ry="3.3"/>
<rect x="1845.6" y="405.9" width="5.8" height="7.8" rx="2.9" ry="3.3"/><rect x="1845.6" y="413.7" width="5.8" height="7.8" rx="2.9" ry="3.3"/>
<rect x="1847.2" y="429.1" width="5.8" height="7.8" rx="2.9" ry="3.3"/><rect x="1847.2" y="436.9" width="5.8" height="7.8" rx="2.9" ry="3.3"/>
<rect x="1845.2" y="452.3" width="5.8" height="7.8" rx="2.9" ry="3.3"/><rect x="1845.2" y="460.1" width="5.8" height="7.8" rx="2.9" ry="3.3"/>
<rect x="1843.5" y="475.5" width="5.8" height="7.8" rx="2.9" ry="3.3"/><rect x="1843.5" y="483.3" width="5.8" height="7.8" rx="2.9" ry="3.3"/>
<rect x="1845.2" y="498.7" width="5.8" height="7.8" rx="2.9" ry="3.3"/><rect x="1845.2" y="506.5" width="5.8" height="7.8" rx="2.9" ry="3.3"/>
<rect x="1851.1" y="521.9" width="5.8" height="7.8" rx="2.9" ry="3.3"/><rect x="1851.1" y="529.7" width="5.8" height="7.8" rx="2.9" ry="3.3"/>
<rect x="1847.6" y="545.1" width="5.8" height="7.8" rx="2.9" ry="3.3"/><rect x="1847.6" y="552.9" width="5.8" height="7.8" rx="2.9" ry="3.3"/>
<rect x="1845" y="568.3" width="5.8" height="7.8" rx="2.9" ry="3.3"/><rect x="1845" y="576.1" width="5.8" height="7.8" rx="2.9" ry="3.3"/>
<rect x="1845" y="591.5" width="5.8" height="7.8" rx="2.9" ry="3.3"/><rect x="1845" y="599.3" width="5.8" height="7.8" rx="2.9" ry="3.3"/>
<rect x="1855.2" y="614.7" width="5.8" height="7.8" rx="2.9" ry="3.3"/><rect x="1855.2" y="622.5" width="5.8" height="7.8" rx="2.9" ry="3.3"/>
<rect x="1937.5" y="662.6" width="5.8" height="7.8" rx="2.9" ry="3.3"/><rect x="1937.5" y="670.4" width="5.8" height="7.8" rx="2.9" ry="3.3"/>
<rect x="1983.8" y="685.6" width="5.8" height="7.8" rx="2.9" ry="3.3"/><rect x="1983.8" y="693.4" width="5.8" height="7.8" rx="2.9" ry="3.3"/>
<rect x="1820.4" y="716.1" width="5.8" height="7.8" rx="2.9" ry="3.3"/><rect x="1820.4" y="723.9" width="5.8" height="7.8" rx="2.9" ry="3.3"/>
<rect x="1807.4" y="739.3" width="5.8" height="7.8" rx="2.9" ry="3.3"/><rect x="1807.4" y="747.1" width="5.8" height="7.8" rx="2.9" ry="3.3"/>
<rect x="1915" y="785.7" width="5.8" height="7.8" rx="2.9" ry="3.3"/><rect x="1915" y="793.5" width="5.8" height="7.8" rx="2.9" ry="3.3"/>
<rect x="1823.5" y="808.9" width="5.8" height="7.8" rx="2.9" ry="3.3"/><rect x="1823.5" y="816.7" width="5.8" height="7.8" rx="2.9" ry="3.3"/>
<rect x="1832.3" y="832.2" width="5.8" height="7.8" rx="2.9" ry="3.3"/><rect x="1832.3" y="840" width="5.8" height="7.8" rx="2.9" ry="3.3"/>
<rect x="1828.2" y="855.4" width="5.8" height="7.8" rx="2.9" ry="3.3"/><rect x="1828.2" y="863.2" width="5.8" height="7.8" rx="2.9" ry="3.3"/>
<rect x="1827.8" y="878.6" width="5.8" height="7.8" rx="2.9" ry="3.3"/><rect x="1827.8" y="886.4" width="5.8" height="7.8" rx="2.9" ry="3.3"/>
<rect x="1826.2" y="901.8" width="5.8" height="7.8" rx="2.9" ry="3.3"/><rect x="1826.2" y="909.6" width="5.8" height="7.8" rx="2.9" ry="3.3"/>
<rect x="1827.2" y="925" width="5.8" height="7.8" rx="2.9" ry="3.3"/><rect x="1827.2" y="932.8" width="5.8" height="7.8" rx="2.9" ry="3.3"/>
<rect x="1827.2" y="948.2" width="5.8" height="7.8" rx="2.9" ry="3.3"/><rect x="1827.2" y="956" width="5.8" height="7.8" rx="2.9" ry="3.3"/>
<rect x="1826.2" y="971.4" width="5.8" height="7.8" rx="2.9" ry="3.3"/><rect x="1826.2" y="979.2" width="5.8" height="7.8" rx="2.9" ry="3.3"/>
<rect x="1836.8" y="994.6" width="5.8" height="7.8" rx="2.9" ry="3.3"/><rect x="1836.8" y="1002.4" width="5.8" height="7.8" rx="2.9" ry="3.3"/>
<rect x="2102.9" y="1017.8" width="5.8" height="7.8" rx="2.9" ry="3.3"/><rect x="2102.9" y="1025.6" width="5.8" height="7.8" rx="2.9" ry="3.3"/>
<rect x="1999.4" y="1041" width="5.8" height="7.8" rx="2.9" ry="3.3"/><rect x="1999.4" y="1048.8" width="5.8" height="7.8" rx="2.9" ry="3.3"/>
<rect x="1843.9" y="1064.2" width="5.8" height="7.8" rx="2.9" ry="3.3"/><rect x="1843.9" y="1072" width="5.8" height="7.8" rx="2.9" ry="3.3"/>
<rect x="1839" y="1087.5" width="5.8" height="7.8" rx="2.9" ry="3.3"/><rect x="1839" y="1095.3" width="5.8" height="7.8" rx="2.9" ry="3.3"/>
<rect x="1899.3" y="1110.7" width="5.8" height="7.8" rx="2.9" ry="3.3"/><rect x="1899.3" y="1118.5" width="5.8" height="7.8" rx="2.9" ry="3.3"/>
<rect x="1892.5" y="1133.9" width="5.8" height="7.8" rx="2.9" ry="3.3"/><rect x="1892.5" y="1141.7" width="5.8" height="7.8" rx="2.9" ry="3.3"/>
<rect x="1826.2" y="1157.1" width="5.8" height="7.8" rx="2.9" ry="3.3"/><rect x="1826.2" y="1164.9" width="5.8" height="7.8" rx="2.9" ry="3.3"/>
<rect x="1826.8" y="1180.3" width="5.8" height="7.8" rx="2.9" ry="3.3"/><rect x="1826.8" y="1188.1" width="5.8" height="7.8" rx="2.9" ry="3.3"/>
<rect x="1822.7" y="1203.5" width="5.8" height="7.8" rx="2.9" ry="3.3"/><rect x="1822.7" y="1211.3" width="5.8" height="7.8" rx="2.9" ry="3.3"/>
<rect x="1826.2" y="1226.7" width="5.8" height="7.8" rx="2.9" ry="3.3"/><rect x="1826.2" y="1234.5" width="5.8" height="7.8" rx="2.9" ry="3.3"/>
<rect x="1838.8" y="1249.9" width="5.8" height="7.8" rx="2.9" ry="3.3"/><rect x="1838.8" y="1257.7" width="5.8" height="7.8" rx="2.9" ry="3.3"/>
<rect x="1840" y="1273.1" width="5.8" height="7.8" rx="2.9" ry="3.3"/><rect x="1840" y="1280.9" width="5.8" height="7.8" rx="2.9" ry="3.3"/>
<rect x="1812.9" y="1296.4" width="5.8" height="7.8" rx="2.9" ry="3.3"/><rect x="1812.9" y="1304.2" width="5.8" height="7.8" rx="2.9" ry="3.3"/>
<rect x="1828.2" y="1319.6" width="5.8" height="7.8" rx="2.9" ry="3.3"/><rect x="1828.2" y="1327.4" width="5.8" height="7.8" rx="2.9" ry="3.3"/>
<rect x="1874.6" y="1342.8" width="5.8" height="7.8" rx="2.9" ry="3.3"/><rect x="1874.6" y="1350.6" width="5.8" height="7.8" rx="2.9" ry="3.3"/>
<rect x="1852.3" y="1366" width="5.8" height="7.8" rx="2.9" ry="3.3"/><rect x="1852.3" y="1373.8" width="5.8" height="7.8" rx="2.9" ry="3.3"/>
<rect x="1866.6" y="1389.2" width="5.8" height="7.8" rx="2.9" ry="3.3"/><rect x="1866.6" y="1397" width="5.8" height="7.8" rx="2.9" ry="3.3"/>
<rect x="1865.4" y="1412.4" width="5.8" height="7.8" rx="2.9" ry="3.3"/><rect x="1865.4" y="1420.2" width="5.8" height="7.8" rx="2.9" ry="3.3"/>
</g>
<g fill="#ff8a10" stroke="#ff5a00" stroke-width="0.7">
<rect x="1858.6" y="34.7" width="4.6" height="7.8" rx="2.3" ry="3.3"/><rect x="1858.6" y="42.5" width="4.6" height="7.8" rx="2.3" ry="3.3"/>
<rect x="1849.8" y="57.9" width="4.6" height="7.8" rx="2.3" ry="3.3"/><rect x="1849.8" y="65.7" width="4.6" height="7.8" rx="2.3" ry="3.3"/>
<rect x="1850.9" y="81.1" width="4.6" height="7.8" rx="2.3" ry="3.3"/><rect x="1850.9" y="88.9" width="4.6" height="7.8" rx="2.3" ry="3.3"/>
<rect x="1854.9" y="104.3" width="4.6" height="7.8" rx="2.3" ry="3.3"/><rect x="1854.9" y="112.1" width="4.6" height="7.8" rx="2.3" ry="3.3"/>
<rect x="1850.2" y="127.5" width="4.6" height="7.8" rx="2.3" ry="3.3"/><rect x="1850.2" y="135.3" width="4.6" height="7.8" rx="2.3" ry="3.3"/>
<rect x="1851.9" y="150.7" width="4.6" height="7.8" rx="2.3" ry="3.3"/><rect x="1851.9" y="158.5" width="4.6" height="7.8" rx="2.3" ry="3.3"/>
<rect x="1849.6" y="173.9" width="4.6" height="7.8" rx="2.3" ry="3.3"/><rect x="1849.6" y="181.7" width="4.6" height="7.8" rx="2.3" ry="3.3"/>
<rect x="1850.9" y="197.1" width="4.6" height="7.8" rx="2.3" ry="3.3"/><rect x="1850.9" y="204.9" width="4.6" height="7.8" rx="2.3" ry="3.3"/>
<rect x="1850.7" y="220.3" width="4.6" height="7.8" rx="2.3" ry="3.3"/><rect x="1850.7" y="228.1" width="4.6" height="7.8" rx="2.3" ry="3.3"/>
<rect x="1852.3" y="243.5" width="4.6" height="7.8" rx="2.3" ry="3.3"/><rect x="1852.3" y="251.3" width="4.6" height="7.8" rx="2.3" ry="3.3"/>
<rect x="1850.9" y="266.7" width="4.6" height="7.8" rx="2.3" ry="3.3"/><rect x="1850.9" y="274.5" width="4.6" height="7.8" rx="2.3" ry="3.3"/>
<rect x="1851.7" y="289.9" width="4.6" height="7.8" rx="2.3" ry="3.3"/><rect x="1851.7" y="297.7" width="4.6" height="7.8" rx="2.3" ry="3.3"/>
<rect x="1852.3" y="313.1" width="4.6" height="7.8" rx="2.3" ry="3.3"/><rect x="1852.3" y="320.9" width="4.6" height="7.8" rx="2.3" ry="3.3"/>
<rect x="1851.3" y="336.3" width="4.6" height="7.8" rx="2.3" ry="3.3"/><rect x="1851.3" y="344.1" width="4.6" height="7.8" rx="2.3" ry="3.3"/>
<rect x="1853.7" y="359.5" width="4.6" height="7.8" rx="2.3" ry="3.3"/><rect x="1853.7" y="367.3" width="4.6" height="7.8" rx="2.3" ry="3.3"/>
<rect x="1850.2" y="382.7" width="4.6" height="7.8" rx="2.3" ry="3.3"/><rect x="1850.2" y="390.5" width="4.6" height="7.8" rx="2.3" ry="3.3"/>
<rect x="1852.3" y="405.9" width="4.6" height="7.8" rx="2.3" ry="3.3"/><rect x="1852.3" y="413.7" width="4.6" height="7.8" rx="2.3" ry="3.3"/>
<rect x="1853.9" y="429.1" width="4.6" height="7.8" rx="2.3" ry="3.3"/><rect x="1853.9" y="436.9" width="4.6" height="7.8" rx="2.3" ry="3.3"/>
<rect x="1851.9" y="452.3" width="4.6" height="7.8" rx="2.3" ry="3.3"/><rect x="1851.9" y="460.1" width="4.6" height="7.8" rx="2.3" ry="3.3"/>
<rect x="1850.2" y="475.5" width="4.6" height="7.8" rx="2.3" ry="3.3"/><rect x="1850.2" y="483.3" width="4.6" height="7.8" rx="2.3" ry="3.3"/>
<rect x="1851.9" y="498.7" width="4.6" height="7.8" rx="2.3" ry="3.3"/><rect x="1851.9" y="506.5" width="4.6" height="7.8" rx="2.3" ry="3.3"/>
<rect x="1857.8" y="521.9" width="4.6" height="7.8" rx="2.3" ry="3.3"/><rect x="1857.8" y="529.7" width="4.6" height="7.8" rx="2.3" ry="3.3"/>
<rect x="1854.3" y="545.1" width="4.6" height="7.8" rx="2.3" ry="3.3"/><rect x="1854.3" y="552.9" width="4.6" height="7.8" rx="2.3" ry="3.3"/>
<rect x="1851.7" y="568.3" width="4.6" height="7.8" rx="2.3" ry="3.3"/><rect x="1851.7" y="576.1" width="4.6" height="7.8" rx="2.3" ry="3.3"/>
<rect x="1851.7" y="591.5" width="4.6" height="7.8" rx="2.3" ry="3.3"/><rect x="1851.7" y="599.3" width="4.6" height="7.8" rx="2.3" ry="3.3"/>
<rect x="1862.1" y="614.7" width="4.6" height="7.8" rx="2.3" ry="3.3"/><rect x="1862.1" y="622.5" width="4.6" height="7.8" rx="2.3" ry="3.3"/>
<rect x="1743" y="637.9" width="4.6" height="7.8" rx="2.3" ry="3.3"/><rect x="1743" y="645.7" width="4.6" height="7.8" rx="2.3" ry="3.3"/>
<rect x="1944.2" y="662.6" width="4.6" height="7.8" rx="2.3" ry="3.3"/><rect x="1944.2" y="670.4" width="4.6" height="7.8" rx="2.3" ry="3.3"/>
<rect x="1990.2" y="685.6" width="4.6" height="7.8" rx="2.3" ry="3.3"/><rect x="1990.2" y="693.4" width="4.6" height="7.8" rx="2.3" ry="3.3"/>
<rect x="1827.4" y="716.1" width="4.6" height="7.8" rx="2.3" ry="3.3"/><rect x="1827.4" y="723.9" width="4.6" height="7.8" rx="2.3" ry="3.3"/>
<rect x="1814.5" y="739.3" width="4.6" height="7.8" rx="2.3" ry="3.3"/><rect x="1814.5" y="747.1" width="4.6" height="7.8" rx="2.3" ry="3.3"/>
<rect x="1827.4" y="762.5" width="4.6" height="7.8" rx="2.3" ry="3.3"/><rect x="1827.4" y="770.3" width="4.6" height="7.8" rx="2.3" ry="3.3"/>
<rect x="1922.1" y="785.7" width="4.6" height="7.8" rx="2.3" ry="3.3"/><rect x="1922.1" y="793.5" width="4.6" height="7.8" rx="2.3" ry="3.3"/>
<rect x="1830.4" y="808.9" width="4.6" height="7.8" rx="2.3" ry="3.3"/><rect x="1830.4" y="816.7" width="4.6" height="7.8" rx="2.3" ry="3.3"/>
<rect x="1839.4" y="832.2" width="4.6" height="7.8" rx="2.3" ry="3.3"/><rect x="1839.4" y="840" width="4.6" height="7.8" rx="2.3" ry="3.3"/>
<rect x="1834.5" y="878.6" width="4.6" height="7.8" rx="2.3" ry="3.3"/><rect x="1834.5" y="886.4" width="4.6" height="7.8" rx="2.3" ry="3.3"/>
<rect x="1832.9" y="901.8" width="4.6" height="7.8" rx="2.3" ry="3.3"/><rect x="1832.9" y="909.6" width="4.6" height="7.8" rx="2.3" ry="3.3"/>
<rect x="1833.9" y="925" width="4.6" height="7.8" rx="2.3" ry="3.3"/><rect x="1833.9" y="932.8" width="4.6" height="7.8" rx="2.3" ry="3.3"/>
<rect x="1833.9" y="948.2" width="4.6" height="7.8" rx="2.3" ry="3.3"/><rect x="1833.9" y="956" width="4.6" height="7.8" rx="2.3" ry="3.3"/>
<rect x="1832.9" y="971.4" width="4.6" height="7.8" rx="2.3" ry="3.3"/><rect x="1832.9" y="979.2" width="4.6" height="7.8" rx="2.3" ry="3.3"/>
<rect x="1843.5" y="994.6" width="4.6" height="7.8" rx="2.3" ry="3.3"/><rect x="1843.5" y="1002.4" width="4.6" height="7.8" rx="2.3" ry="3.3"/>
<rect x="2109.6" y="1017.8" width="4.6" height="7.8" rx="2.3" ry="3.3"/><rect x="2109.6" y="1025.6" width="4.6" height="7.8" rx="2.3" ry="3.3"/>
<rect x="2006.1" y="1041" width="4.6" height="7.8" rx="2.3" ry="3.3"/><rect x="2006.1" y="1048.8" width="4.6" height="7.8" rx="2.3" ry="3.3"/>
<rect x="1850.7" y="1064.2" width="4.6" height="7.8" rx="2.3" ry="3.3"/><rect x="1850.7" y="1072" width="4.6" height="7.8" rx="2.3" ry="3.3"/>
<rect x="1845.8" y="1087.5" width="4.6" height="7.8" rx="2.3" ry="3.3"/><rect x="1845.8" y="1095.3" width="4.6" height="7.8" rx="2.3" ry="3.3"/>
<rect x="1906" y="1110.7" width="4.6" height="7.8" rx="2.3" ry="3.3"/><rect x="1906" y="1118.5" width="4.6" height="7.8" rx="2.3" ry="3.3"/>
<rect x="1899.7" y="1133.9" width="4.6" height="7.8" rx="2.3" ry="3.3"/><rect x="1899.7" y="1141.7" width="4.6" height="7.8" rx="2.3" ry="3.3"/>
<rect x="1832.9" y="1157.1" width="4.6" height="7.8" rx="2.3" ry="3.3"/><rect x="1832.9" y="1164.9" width="4.6" height="7.8" rx="2.3" ry="3.3"/>
<rect x="1833.5" y="1180.3" width="4.6" height="7.8" rx="2.3" ry="3.3"/><rect x="1833.5" y="1188.1" width="4.6" height="7.8" rx="2.3" ry="3.3"/>
<rect x="1829.4" y="1203.5" width="4.6" height="7.8" rx="2.3" ry="3.3"/><rect x="1829.4" y="1211.3" width="4.6" height="7.8" rx="2.3" ry="3.3"/>
<rect x="1832.9" y="1226.7" width="4.6" height="7.8" rx="2.3" ry="3.3"/><rect x="1832.9" y="1234.5" width="4.6" height="7.8" rx="2.3" ry="3.3"/>
<rect x="1845.6" y="1249.9" width="4.6" height="7.8" rx="2.3" ry="3.3"/><rect x="1845.6" y="1257.7" width="4.6" height="7.8" rx="2.3" ry="3.3"/>
<rect x="1846.8" y="1273.1" width="4.6" height="7.8" rx="2.3" ry="3.3"/><rect x="1846.8" y="1280.9" width="4.6" height="7.8" rx="2.3" ry="3.3"/>
<rect x="1820" y="1296.4" width="4.6" height="7.8" rx="2.3" ry="3.3"/><rect x="1820" y="1304.2" width="4.6" height="7.8" rx="2.3" ry="3.3"/>
<rect x="1834.9" y="1319.6" width="4.6" height="7.8" rx="2.3" ry="3.3"/><rect x="1834.9" y="1327.4" width="4.6" height="7.8" rx="2.3" ry="3.3"/>
<rect x="1881.3" y="1342.8" width="4.6" height="7.8" rx="2.3" ry="3.3"/><rect x="1881.3" y="1350.6" width="4.6" height="7.8" rx="2.3" ry="3.3"/>
<rect x="1859" y="1366" width="4.6" height="7.8" rx="2.3" ry="3.3"/><rect x="1859" y="1373.8" width="4.6" height="7.8" rx="2.3" ry="3.3"/>
<rect x="1873.3" y="1389.2" width="4.6" height="7.8" rx="2.3" ry="3.3"/><rect x="1873.3" y="1397" width="4.6" height="7.8" rx="2.3" ry="3.3"/>
<rect x="1872.1" y="1412.4" width="4.6" height="7.8" rx="2.3" ry="3.3"/><rect x="1872.1" y="1420.2" width="4.6" height="7.8" rx="2.3" ry="3.3"/>
</g>
<g fill="#3a2a86" stroke="#20145a" stroke-width="0.7">
<rect x="1877.5" y="34.7" width="5.6" height="7.8" rx="2.8" ry="3.3"/><rect x="1877.5" y="42.5" width="5.6" height="7.8" rx="2.8" ry="3.3"/>
<rect x="1868.7" y="57.9" width="5.6" height="7.8" rx="2.8" ry="3.3"/><rect x="1868.7" y="65.7" width="5.6" height="7.8" rx="2.8" ry="3.3"/>
<rect x="1870.2" y="81.1" width="5.6" height="7.8" rx="2.8" ry="3.3"/><rect x="1870.2" y="88.9" width="5.6" height="7.8" rx="2.8" ry="3.3"/>
<rect x="1873.6" y="104.3" width="5.6" height="7.8" rx="2.8" ry="3.3"/><rect x="1873.6" y="112.1" width="5.6" height="7.8" rx="2.8" ry="3.3"/>
<rect x="1868.7" y="127.5" width="5.6" height="7.8" rx="2.8" ry="3.3"/><rect x="1868.7" y="135.3" width="5.6" height="7.8" rx="2.8" ry="3.3"/>
<rect x="1871.2" y="150.7" width="5.6" height="7.8" rx="2.8" ry="3.3"/><rect x="1871.2" y="158.5" width="5.6" height="7.8" rx="2.8" ry="3.3"/>
<rect x="1868.1" y="173.9" width="5.6" height="7.8" rx="2.8" ry="3.3"/><rect x="1868.1" y="181.7" width="5.6" height="7.8" rx="2.8" ry="3.3"/>
<rect x="1870.2" y="197.1" width="5.6" height="7.8" rx="2.8" ry="3.3"/><rect x="1870.2" y="204.9" width="5.6" height="7.8" rx="2.8" ry="3.3"/>
<rect x="1869.8" y="220.3" width="5.6" height="7.8" rx="2.8" ry="3.3"/><rect x="1869.8" y="228.1" width="5.6" height="7.8" rx="2.8" ry="3.3"/>
<rect x="1871.4" y="243.5" width="5.6" height="7.8" rx="2.8" ry="3.3"/><rect x="1871.4" y="251.3" width="5.6" height="7.8" rx="2.8" ry="3.3"/>
<rect x="1870.2" y="266.7" width="5.6" height="7.8" rx="2.8" ry="3.3"/><rect x="1870.2" y="274.5" width="5.6" height="7.8" rx="2.8" ry="3.3"/>
<rect x="1870.6" y="289.9" width="5.6" height="7.8" rx="2.8" ry="3.3"/><rect x="1870.6" y="297.7" width="5.6" height="7.8" rx="2.8" ry="3.3"/>
<rect x="1871.2" y="313.1" width="5.6" height="7.8" rx="2.8" ry="3.3"/><rect x="1871.2" y="320.9" width="5.6" height="7.8" rx="2.8" ry="3.3"/>
<rect x="1872.6" y="359.5" width="5.6" height="7.8" rx="2.8" ry="3.3"/><rect x="1872.6" y="367.3" width="5.6" height="7.8" rx="2.8" ry="3.3"/>
<rect x="1860" y="382.7" width="5.6" height="7.8" rx="2.8" ry="3.3"/><rect x="1860" y="390.5" width="5.6" height="7.8" rx="2.8" ry="3.3"/>
<rect x="1871.2" y="405.9" width="5.6" height="7.8" rx="2.8" ry="3.3"/><rect x="1871.2" y="413.7" width="5.6" height="7.8" rx="2.8" ry="3.3"/>
<rect x="1872.8" y="429.1" width="5.6" height="7.8" rx="2.8" ry="3.3"/><rect x="1872.8" y="436.9" width="5.6" height="7.8" rx="2.8" ry="3.3"/>
<rect x="1871.2" y="452.3" width="5.6" height="7.8" rx="2.8" ry="3.3"/><rect x="1871.2" y="460.1" width="5.6" height="7.8" rx="2.8" ry="3.3"/>
<rect x="1869.6" y="475.5" width="5.6" height="7.8" rx="2.8" ry="3.3"/><rect x="1869.6" y="483.3" width="5.6" height="7.8" rx="2.8" ry="3.3"/>
<rect x="1870.8" y="498.7" width="5.6" height="7.8" rx="2.8" ry="3.3"/><rect x="1870.8" y="506.5" width="5.6" height="7.8" rx="2.8" ry="3.3"/>
<rect x="1876.9" y="521.9" width="5.6" height="7.8" rx="2.8" ry="3.3"/><rect x="1876.9" y="529.7" width="5.6" height="7.8" rx="2.8" ry="3.3"/>
<rect x="1873.2" y="545.1" width="5.6" height="7.8" rx="2.8" ry="3.3"/><rect x="1873.2" y="552.9" width="5.6" height="7.8" rx="2.8" ry="3.3"/>
<rect x="1870.6" y="568.3" width="5.6" height="7.8" rx="2.8" ry="3.3"/><rect x="1870.6" y="576.1" width="5.6" height="7.8" rx="2.8" ry="3.3"/>
<rect x="1870.6" y="591.5" width="5.6" height="7.8" rx="2.8" ry="3.3"/><rect x="1870.6" y="599.3" width="5.6" height="7.8" rx="2.8" ry="3.3"/>
<rect x="1881" y="614.7" width="5.6" height="7.8" rx="2.8" ry="3.3"/><rect x="1881" y="622.5" width="5.6" height="7.8" rx="2.8" ry="3.3"/>
<rect x="1761.5" y="637.9" width="5.6" height="7.8" rx="2.8" ry="3.3"/><rect x="1761.5" y="645.7" width="5.6" height="7.8" rx="2.8" ry="3.3"/>
<rect x="1845.1" y="716.1" width="5.6" height="7.8" rx="2.8" ry="3.3"/><rect x="1845.1" y="723.9" width="5.6" height="7.8" rx="2.8" ry="3.3"/>
<rect x="1832.4" y="739.3" width="5.6" height="7.8" rx="2.8" ry="3.3"/><rect x="1832.4" y="747.1" width="5.6" height="7.8" rx="2.8" ry="3.3"/>
<rect x="1845.1" y="762.5" width="5.6" height="7.8" rx="2.8" ry="3.3"/><rect x="1845.1" y="770.3" width="5.6" height="7.8" rx="2.8" ry="3.3"/>
<rect x="1942.3" y="785.7" width="5.6" height="7.8" rx="2.8" ry="3.3"/><rect x="1942.3" y="793.5" width="5.6" height="7.8" rx="2.8" ry="3.3"/>
<rect x="1848.7" y="808.9" width="5.6" height="7.8" rx="2.8" ry="3.3"/><rect x="1848.7" y="816.7" width="5.6" height="7.8" rx="2.8" ry="3.3"/>
<rect x="1857.3" y="832.2" width="5.6" height="7.8" rx="2.8" ry="3.3"/><rect x="1857.3" y="840" width="5.6" height="7.8" rx="2.8" ry="3.3"/>
<rect x="1855.9" y="855.4" width="5.6" height="7.8" rx="2.8" ry="3.3"/><rect x="1855.9" y="863.2" width="5.6" height="7.8" rx="2.8" ry="3.3"/>
<rect x="1854.2" y="878.6" width="5.6" height="7.8" rx="2.8" ry="3.3"/><rect x="1854.2" y="886.4" width="5.6" height="7.8" rx="2.8" ry="3.3"/>
<rect x="1852.2" y="901.8" width="5.6" height="7.8" rx="2.8" ry="3.3"/><rect x="1852.2" y="909.6" width="5.6" height="7.8" rx="2.8" ry="3.3"/>
<rect x="1853.8" y="925" width="5.6" height="7.8" rx="2.8" ry="3.3"/><rect x="1853.8" y="932.8" width="5.6" height="7.8" rx="2.8" ry="3.3"/>
<rect x="1853.8" y="948.2" width="5.6" height="7.8" rx="2.8" ry="3.3"/><rect x="1853.8" y="956" width="5.6" height="7.8" rx="2.8" ry="3.3"/>
<rect x="1863" y="994.6" width="5.6" height="7.8" rx="2.8" ry="3.3"/><rect x="1863" y="1002.4" width="5.6" height="7.8" rx="2.8" ry="3.3"/>
<rect x="2127.1" y="1017.8" width="5.6" height="7.8" rx="2.8" ry="3.3"/><rect x="2127.1" y="1025.6" width="5.6" height="7.8" rx="2.8" ry="3.3"/>
<rect x="2023.8" y="1041" width="5.6" height="7.8" rx="2.8" ry="3.3"/><rect x="2023.8" y="1048.8" width="5.6" height="7.8" rx="2.8" ry="3.3"/>
<rect x="1870.8" y="1064.2" width="5.6" height="7.8" rx="2.8" ry="3.3"/><rect x="1870.8" y="1072" width="5.6" height="7.8" rx="2.8" ry="3.3"/>
<rect x="1865.7" y="1087.5" width="5.6" height="7.8" rx="2.8" ry="3.3"/><rect x="1865.7" y="1095.3" width="5.6" height="7.8" rx="2.8" ry="3.3"/>
<rect x="1923.3" y="1110.7" width="5.6" height="7.8" rx="2.8" ry="3.3"/><rect x="1923.3" y="1118.5" width="5.6" height="7.8" rx="2.8" ry="3.3"/>
<rect x="1917.2" y="1133.9" width="5.6" height="7.8" rx="2.8" ry="3.3"/><rect x="1917.2" y="1141.7" width="5.6" height="7.8" rx="2.8" ry="3.3"/>
<rect x="1851.2" y="1157.1" width="5.6" height="7.8" rx="2.8" ry="3.3"/><rect x="1851.2" y="1164.9" width="5.6" height="7.8" rx="2.8" ry="3.3"/>
<rect x="1851.8" y="1180.3" width="5.6" height="7.8" rx="2.8" ry="3.3"/><rect x="1851.8" y="1188.1" width="5.6" height="7.8" rx="2.8" ry="3.3"/>
<rect x="1847.7" y="1203.5" width="5.6" height="7.8" rx="2.8" ry="3.3"/><rect x="1847.7" y="1211.3" width="5.6" height="7.8" rx="2.8" ry="3.3"/>
<rect x="1851.2" y="1226.7" width="5.6" height="7.8" rx="2.8" ry="3.3"/><rect x="1851.2" y="1234.5" width="5.6" height="7.8" rx="2.8" ry="3.3"/>
<rect x="1863.4" y="1249.9" width="5.6" height="7.8" rx="2.8" ry="3.3"/><rect x="1863.4" y="1257.7" width="5.6" height="7.8" rx="2.8" ry="3.3"/>
<rect x="1864.5" y="1273.1" width="5.6" height="7.8" rx="2.8" ry="3.3"/><rect x="1864.5" y="1280.9" width="5.6" height="7.8" rx="2.8" ry="3.3"/>
<rect x="1837.5" y="1296.4" width="5.6" height="7.8" rx="2.8" ry="3.3"/><rect x="1837.5" y="1304.2" width="5.6" height="7.8" rx="2.8" ry="3.3"/>
<rect x="1852.2" y="1319.6" width="5.6" height="7.8" rx="2.8" ry="3.3"/><rect x="1852.2" y="1327.4" width="5.6" height="7.8" rx="2.8" ry="3.3"/>
<rect x="1899.4" y="1342.8" width="5.6" height="7.8" rx="2.8" ry="3.3"/><rect x="1899.4" y="1350.6" width="5.6" height="7.8" rx="2.8" ry="3.3"/>
<rect x="1876.9" y="1366" width="5.6" height="7.8" rx="2.8" ry="3.3"/><rect x="1876.9" y="1373.8" width="5.6" height="7.8" rx="2.8" ry="3.3"/>
<rect x="1891" y="1389.2" width="5.6" height="7.8" rx="2.8" ry="3.3"/><rect x="1891" y="1397" width="5.6" height="7.8" rx="2.8" ry="3.3"/>
<rect x="1889.6" y="1412.4" width="5.6" height="7.8" rx="2.8" ry="3.3"/><rect x="1889.6" y="1420.2" width="5.6" height="7.8" rx="2.8" ry="3.3"/>
</g>
<g fill="#8f8cb8" stroke="#34307a" stroke-width="0.7">
<rect x="1901.1" y="34.7" width="9.6" height="15.6" rx="2.2"/>
<rect x="1886.1" y="57.9" width="9.6" height="15.6" rx="2.2"/>
<rect x="1887.6" y="81.1" width="9.6" height="15.6" rx="2.2"/>
<rect x="1895.3" y="104.3" width="9.6" height="15.6" rx="2.2"/>
<rect x="1888" y="150.7" width="9.6" height="15.6" rx="2.2"/>
<rect x="1889.2" y="173.9" width="9.6" height="15.6" rx="2.2"/>
<rect x="1884.5" y="197.1" width="9.6" height="15.6" rx="2.2"/>
<rect x="1885.5" y="220.3" width="9.6" height="15.6" rx="2.2"/>
<rect x="1888" y="243.5" width="9.6" height="15.6" rx="2.2"/>
<rect x="1885.9" y="266.7" width="9.6" height="15.6" rx="2.2"/>
<rect x="1886.6" y="289.9" width="9.6" height="15.6" rx="2.2"/>
<rect x="1887" y="313.1" width="9.6" height="15.6" rx="2.2"/>
<rect x="1865.1" y="336.3" width="9.6" height="15.6" rx="2.2"/>
<rect x="1888" y="359.5" width="9.6" height="15.6" rx="2.2"/>
<rect x="1877.4" y="382.7" width="9.6" height="15.6" rx="2.2"/>
<rect x="1886.6" y="405.9" width="9.6" height="15.6" rx="2.2"/>
<rect x="1888.2" y="429.1" width="9.6" height="15.6" rx="2.2"/>
<rect x="1886.6" y="452.3" width="9.6" height="15.6" rx="2.2"/>
<rect x="1884.5" y="475.5" width="9.6" height="15.6" rx="2.2"/>
<rect x="1886.6" y="498.7" width="9.6" height="15.6" rx="2.2"/>
<rect x="1892.3" y="521.9" width="9.6" height="15.6" rx="2.2"/>
<rect x="1888.6" y="545.1" width="9.6" height="15.6" rx="2.2"/>
<rect x="1886.6" y="568.3" width="9.6" height="15.6" rx="2.2"/>
<rect x="1886.6" y="591.5" width="9.6" height="15.6" rx="2.2"/>
<rect x="1895.7" y="614.7" width="9.6" height="15.6" rx="2.2"/>
<rect x="1776.3" y="637.9" width="9.6" height="15.6" rx="2.2"/>
<rect x="1987.7" y="662.6" width="9.6" height="15.6" rx="2.2"/>
<rect x="1996.9" y="685.6" width="9.6" height="15.6" rx="2.2"/>
<rect x="2033" y="685.6" width="9.6" height="15.6" rx="2.2"/>
<rect x="1861" y="716.1" width="9.6" height="15.6" rx="2.2"/>
<rect x="1847.7" y="739.3" width="9.6" height="15.6" rx="2.2"/>
<rect x="1871.2" y="762.5" width="9.6" height="15.6" rx="2.2"/>
<rect x="1969.3" y="785.7" width="9.6" height="15.6" rx="2.2"/>
<rect x="1861.6" y="808.9" width="9.6" height="15.6" rx="2.2"/>
<rect x="1870.6" y="832.2" width="9.6" height="15.6" rx="2.2"/>
<rect x="1869.2" y="855.4" width="9.6" height="15.6" rx="2.2"/>
<rect x="1867.6" y="878.6" width="9.6" height="15.6" rx="2.2"/>
<rect x="1865.7" y="901.8" width="9.6" height="15.6" rx="2.2"/>
<rect x="1866.5" y="925" width="9.6" height="15.6" rx="2.2"/>
<rect x="1866.5" y="948.2" width="9.6" height="15.6" rx="2.2"/>
<rect x="1856.5" y="971.4" width="9.6" height="15.6" rx="2.2"/>
<rect x="1875.7" y="994.6" width="9.6" height="15.6" rx="2.2"/>
<rect x="2143.5" y="1017.8" width="9.6" height="15.6" rx="2.2"/>
<rect x="2038.7" y="1041" width="9.6" height="15.6" rx="2.2"/>
<rect x="2363.3" y="1041" width="9.6" height="15.6" rx="2.2"/>
<rect x="1884.9" y="1064.2" width="9.6" height="15.6" rx="2.2"/>
<rect x="1879.8" y="1087.5" width="9.6" height="15.6" rx="2.2"/>
<rect x="1945.4" y="1110.7" width="9.6" height="15.6" rx="2.2"/>
<rect x="1942.3" y="1133.9" width="9.6" height="15.6" rx="2.2"/>
<rect x="1866.1" y="1157.1" width="9.6" height="15.6" rx="2.2"/>
<rect x="1865.7" y="1180.3" width="9.6" height="15.6" rx="2.2"/>
<rect x="1864.1" y="1203.5" width="9.6" height="15.6" rx="2.2"/>
<rect x="1865.1" y="1226.7" width="9.6" height="15.6" rx="2.2"/>
<rect x="1877.4" y="1249.9" width="9.6" height="15.6" rx="2.2"/>
<rect x="1879" y="1273.1" width="9.6" height="15.6" rx="2.2"/>
<rect x="1853.9" y="1296.4" width="9.6" height="15.6" rx="2.2"/>
<rect x="1869.8" y="1319.6" width="9.6" height="15.6" rx="2.2"/>
<rect x="1958" y="1342.8" width="9.6" height="15.6" rx="2.2"/>
<rect x="1917.2" y="1366" width="9.6" height="15.6" rx="2.2"/>
<rect x="1944.8" y="1389.2" width="9.6" height="15.6" rx="2.2"/>
<rect x="1944.2" y="1412.4" width="9.6" height="15.6" rx="2.2"/>
</g>
<g fill="#f03068" stroke="#e8184e" stroke-width="0.7">
<rect x="1911.6" y="34.7" width="5.6" height="7.8" rx="2.8" ry="3.3"/><rect x="1911.6" y="42.5" width="5.6" height="7.8" rx="2.8" ry="3.3"/>
<rect x="1896.7" y="57.9" width="5.6" height="7.8" rx="2.8" ry="3.3"/><rect x="1896.7" y="65.7" width="5.6" height="7.8" rx="2.8" ry="3.3"/>
<rect x="1898.4" y="81.1" width="5.6" height="7.8" rx="2.8" ry="3.3"/><rect x="1898.4" y="88.9" width="5.6" height="7.8" rx="2.8" ry="3.3"/>
<rect x="1906.5" y="104.3" width="5.6" height="7.8" rx="2.8" ry="3.3"/><rect x="1906.5" y="112.1" width="5.6" height="7.8" rx="2.8" ry="3.3"/>
<rect x="1893.7" y="127.5" width="5.6" height="7.8" rx="2.8" ry="3.3"/><rect x="1893.7" y="135.3" width="5.6" height="7.8" rx="2.8" ry="3.3"/>
<rect x="1899.2" y="150.7" width="5.6" height="7.8" rx="2.8" ry="3.3"/><rect x="1899.2" y="158.5" width="5.6" height="7.8" rx="2.8" ry="3.3"/>
<rect x="1900.4" y="173.9" width="5.6" height="7.8" rx="2.8" ry="3.3"/><rect x="1900.4" y="181.7" width="5.6" height="7.8" rx="2.8" ry="3.3"/>
<rect x="1895.3" y="197.1" width="5.6" height="7.8" rx="2.8" ry="3.3"/><rect x="1895.3" y="204.9" width="5.6" height="7.8" rx="2.8" ry="3.3"/>
<rect x="1896.7" y="220.3" width="5.6" height="7.8" rx="2.8" ry="3.3"/><rect x="1896.7" y="228.1" width="5.6" height="7.8" rx="2.8" ry="3.3"/>
<rect x="1898.8" y="243.5" width="5.6" height="7.8" rx="2.8" ry="3.3"/><rect x="1898.8" y="251.3" width="5.6" height="7.8" rx="2.8" ry="3.3"/>
<rect x="1896.7" y="266.7" width="5.6" height="7.8" rx="2.8" ry="3.3"/><rect x="1896.7" y="274.5" width="5.6" height="7.8" rx="2.8" ry="3.3"/>
<rect x="1897.3" y="289.9" width="5.6" height="7.8" rx="2.8" ry="3.3"/><rect x="1897.3" y="297.7" width="5.6" height="7.8" rx="2.8" ry="3.3"/>
<rect x="1916.1" y="289.9" width="5.6" height="7.8" rx="2.8" ry="3.3"/><rect x="1916.1" y="297.7" width="5.6" height="7.8" rx="2.8" ry="3.3"/>
<rect x="1898.2" y="313.1" width="5.6" height="7.8" rx="2.8" ry="3.3"/><rect x="1898.2" y="320.9" width="5.6" height="7.8" rx="2.8" ry="3.3"/>
<rect x="1876.3" y="336.3" width="5.6" height="7.8" rx="2.8" ry="3.3"/><rect x="1876.3" y="344.1" width="5.6" height="7.8" rx="2.8" ry="3.3"/>
<rect x="1895.1" y="336.3" width="5.6" height="7.8" rx="2.8" ry="3.3"/><rect x="1895.1" y="344.1" width="5.6" height="7.8" rx="2.8" ry="3.3"/>
<rect x="1899.2" y="359.5" width="5.6" height="7.8" rx="2.8" ry="3.3"/><rect x="1899.2" y="367.3" width="5.6" height="7.8" rx="2.8" ry="3.3"/>
<rect x="1888.1" y="382.7" width="5.6" height="7.8" rx="2.8" ry="3.3"/><rect x="1888.1" y="390.5" width="5.6" height="7.8" rx="2.8" ry="3.3"/>
<rect x="1897.7" y="405.9" width="5.6" height="7.8" rx="2.8" ry="3.3"/><rect x="1897.7" y="413.7" width="5.6" height="7.8" rx="2.8" ry="3.3"/>
<rect x="1899.4" y="429.1" width="5.6" height="7.8" rx="2.8" ry="3.3"/><rect x="1899.4" y="436.9" width="5.6" height="7.8" rx="2.8" ry="3.3"/>
<rect x="1897.7" y="452.3" width="5.6" height="7.8" rx="2.8" ry="3.3"/><rect x="1897.7" y="460.1" width="5.6" height="7.8" rx="2.8" ry="3.3"/>
<rect x="1895.7" y="475.5" width="5.6" height="7.8" rx="2.8" ry="3.3"/><rect x="1895.7" y="483.3" width="5.6" height="7.8" rx="2.8" ry="3.3"/>
<rect x="1897.3" y="498.7" width="5.6" height="7.8" rx="2.8" ry="3.3"/><rect x="1897.3" y="506.5" width="5.6" height="7.8" rx="2.8" ry="3.3"/>
<rect x="1902.9" y="521.9" width="5.6" height="7.8" rx="2.8" ry="3.3"/><rect x="1902.9" y="529.7" width="5.6" height="7.8" rx="2.8" ry="3.3"/>
<rect x="1899.2" y="545.1" width="5.6" height="7.8" rx="2.8" ry="3.3"/><rect x="1899.2" y="552.9" width="5.6" height="7.8" rx="2.8" ry="3.3"/>
<rect x="1897.3" y="568.3" width="5.6" height="7.8" rx="2.8" ry="3.3"/><rect x="1897.3" y="576.1" width="5.6" height="7.8" rx="2.8" ry="3.3"/>
<rect x="1897.3" y="591.5" width="5.6" height="7.8" rx="2.8" ry="3.3"/><rect x="1897.3" y="599.3" width="5.6" height="7.8" rx="2.8" ry="3.3"/>
<rect x="1906.5" y="614.7" width="5.6" height="7.8" rx="2.8" ry="3.3"/><rect x="1906.5" y="622.5" width="5.6" height="7.8" rx="2.8" ry="3.3"/>
<rect x="1787" y="637.9" width="5.6" height="7.8" rx="2.8" ry="3.3"/><rect x="1787" y="645.7" width="5.6" height="7.8" rx="2.8" ry="3.3"/>
<rect x="2002.3" y="662.6" width="5.6" height="7.8" rx="2.8" ry="3.3"/><rect x="2002.3" y="670.4" width="5.6" height="7.8" rx="2.8" ry="3.3"/>
<rect x="1872.6" y="716.1" width="5.6" height="7.8" rx="2.8" ry="3.3"/><rect x="1872.6" y="723.9" width="5.6" height="7.8" rx="2.8" ry="3.3"/>
<rect x="1858.9" y="739.3" width="5.6" height="7.8" rx="2.8" ry="3.3"/><rect x="1858.9" y="747.1" width="5.6" height="7.8" rx="2.8" ry="3.3"/>
<rect x="1882.4" y="762.5" width="5.6" height="7.8" rx="2.8" ry="3.3"/><rect x="1882.4" y="770.3" width="5.6" height="7.8" rx="2.8" ry="3.3"/>
<rect x="1980.5" y="785.7" width="5.6" height="7.8" rx="2.8" ry="3.3"/><rect x="1980.5" y="793.5" width="5.6" height="7.8" rx="2.8" ry="3.3"/>
<rect x="1872.8" y="808.9" width="5.6" height="7.8" rx="2.8" ry="3.3"/><rect x="1872.8" y="816.7" width="5.6" height="7.8" rx="2.8" ry="3.3"/>
<rect x="1881.8" y="832.2" width="5.6" height="7.8" rx="2.8" ry="3.3"/><rect x="1881.8" y="840" width="5.6" height="7.8" rx="2.8" ry="3.3"/>
<rect x="1880.4" y="855.4" width="5.6" height="7.8" rx="2.8" ry="3.3"/><rect x="1880.4" y="863.2" width="5.6" height="7.8" rx="2.8" ry="3.3"/>
<rect x="1879" y="878.6" width="5.6" height="7.8" rx="2.8" ry="3.3"/><rect x="1879" y="886.4" width="5.6" height="7.8" rx="2.8" ry="3.3"/>
<rect x="1877.3" y="901.8" width="5.6" height="7.8" rx="2.8" ry="3.3"/><rect x="1877.3" y="909.6" width="5.6" height="7.8" rx="2.8" ry="3.3"/>
<rect x="1877.9" y="925" width="5.6" height="7.8" rx="2.8" ry="3.3"/><rect x="1877.9" y="932.8" width="5.6" height="7.8" rx="2.8" ry="3.3"/>
<rect x="1877.9" y="948.2" width="5.6" height="7.8" rx="2.8" ry="3.3"/><rect x="1877.9" y="956" width="5.6" height="7.8" rx="2.8" ry="3.3"/>
<rect x="1867.7" y="971.4" width="5.6" height="7.8" rx="2.8" ry="3.3"/><rect x="1867.7" y="979.2" width="5.6" height="7.8" rx="2.8" ry="3.3"/>
<rect x="1887.1" y="994.6" width="5.6" height="7.8" rx="2.8" ry="3.3"/><rect x="1887.1" y="1002.4" width="5.6" height="7.8" rx="2.8" ry="3.3"/>
<rect x="2154.7" y="1017.8" width="5.6" height="7.8" rx="2.8" ry="3.3"/><rect x="2154.7" y="1025.6" width="5.6" height="7.8" rx="2.8" ry="3.3"/>
<rect x="2049.9" y="1041" width="5.6" height="7.8" rx="2.8" ry="3.3"/><rect x="2049.9" y="1048.8" width="5.6" height="7.8" rx="2.8" ry="3.3"/>
<rect x="1896.3" y="1064.2" width="5.6" height="7.8" rx="2.8" ry="3.3"/><rect x="1896.3" y="1072" width="5.6" height="7.8" rx="2.8" ry="3.3"/>
<rect x="1891.2" y="1087.5" width="5.6" height="7.8" rx="2.8" ry="3.3"/><rect x="1891.2" y="1095.3" width="5.6" height="7.8" rx="2.8" ry="3.3"/>
<rect x="1956.4" y="1110.7" width="5.6" height="7.8" rx="2.8" ry="3.3"/><rect x="1956.4" y="1118.5" width="5.6" height="7.8" rx="2.8" ry="3.3"/>
<rect x="1953.5" y="1133.9" width="5.6" height="7.8" rx="2.8" ry="3.3"/><rect x="1953.5" y="1141.7" width="5.6" height="7.8" rx="2.8" ry="3.3"/>
<rect x="1877.3" y="1157.1" width="5.6" height="7.8" rx="2.8" ry="3.3"/><rect x="1877.3" y="1164.9" width="5.6" height="7.8" rx="2.8" ry="3.3"/>
<rect x="1876.9" y="1180.3" width="5.6" height="7.8" rx="2.8" ry="3.3"/><rect x="1876.9" y="1188.1" width="5.6" height="7.8" rx="2.8" ry="3.3"/>
<rect x="1875.3" y="1203.5" width="5.6" height="7.8" rx="2.8" ry="3.3"/><rect x="1875.3" y="1211.3" width="5.6" height="7.8" rx="2.8" ry="3.3"/>
<rect x="1876.3" y="1226.7" width="5.6" height="7.8" rx="2.8" ry="3.3"/><rect x="1876.3" y="1234.5" width="5.6" height="7.8" rx="2.8" ry="3.3"/>
<rect x="1914.1" y="1226.7" width="5.6" height="7.8" rx="2.8" ry="3.3"/><rect x="1914.1" y="1234.5" width="5.6" height="7.8" rx="2.8" ry="3.3"/>
<rect x="1888.6" y="1249.9" width="5.6" height="7.8" rx="2.8" ry="3.3"/><rect x="1888.6" y="1257.7" width="5.6" height="7.8" rx="2.8" ry="3.3"/>
<rect x="1890.2" y="1273.1" width="5.6" height="7.8" rx="2.8" ry="3.3"/><rect x="1890.2" y="1280.9" width="5.6" height="7.8" rx="2.8" ry="3.3"/>
<rect x="1881" y="1319.6" width="5.6" height="7.8" rx="2.8" ry="3.3"/><rect x="1881" y="1327.4" width="5.6" height="7.8" rx="2.8" ry="3.3"/>
<rect x="1969.2" y="1342.8" width="5.6" height="7.8" rx="2.8" ry="3.3"/><rect x="1969.2" y="1350.6" width="5.6" height="7.8" rx="2.8" ry="3.3"/>
<rect x="1929" y="1366" width="5.6" height="7.8" rx="2.8" ry="3.3"/><rect x="1929" y="1373.8" width="5.6" height="7.8" rx="2.8" ry="3.3"/>
<rect x="1956" y="1389.2" width="5.6" height="7.8" rx="2.8" ry="3.3"/><rect x="1956" y="1397" width="5.6" height="7.8" rx="2.8" ry="3.3"/>
<rect x="1955.5" y="1412.4" width="5.6" height="7.8" rx="2.8" ry="3.3"/><rect x="1955.5" y="1420.2" width="5.6" height="7.8" rx="2.8" ry="3.3"/>
</g>
<path d="M1742.3 42.5H2169.1M1742.3 65.7H2175.3M1742.3 88.9H2180.4M1742.3 112.1H2185.5M1742.3 135.3H2171.2M1742.3 158.5H2179.3M1742.3 181.7H2181M1742.3 204.9H2168.7M1742.3 228.1H2165M1742.3 251.3H2175.3M1742.3 274.5H2172.2M1742.3 297.7H2173.6M1742.3 320.9H2177.3M1742.3 344.1H2172.8M1742.3 367.3H2170.8M1742.3 390.5H2167.1M1742.3 413.7H2170.2M1742.3 436.9H2174.9M1742.3 460.1H2167.7M1742.3 483.3H2182M1742.3 506.5H2172.8M1742.3 529.7H2178.3M1742.3 552.9H2173.6M1742.3 576.1H2154.8M1742.3 599.3H2161.6M1742.3 622.5H2172.8M1742.3 645.7H2040.5M1742.3 670.4H2253.3M1742.3 693.4H2346.5M1742.3 723.9H2108.3M1742.3 747.1H2087.8M1742.3 770.3H2155.9M1742.3 793.5H2166.7M1742.3 816.7H1981.6M1742.3 840H1987.4M1742.3 863.2H2003.3M1742.3 886.4H1967.5M1742.3 909.6H2004.3M1742.3 932.8H1972M1742.3 956H1972.6M1742.3 979.2H1959.8M1742.3 1002.4H1979.8M1742.3 1025.6H2406M1742.3 1048.8H2406M1742.3 1072H1954.7M1742.3 1095.3H1984.9M1742.3 1118.5H2040M1742.3 1141.7H2121.1M1742.3 1164.9H2238.4M1742.3 1188.1H2205.7M1742.3 1211.3H2182.4M1742.3 1234.5H2211.2M1742.3 1257.7H1958.3M1742.3 1280.9H2174M1742.3 1304.2H2168M1742.3 1327.4H2189.1M1742.3 1350.6H2294.8M1742.3 1373.8H2176.4M1742.3 1397H2277.3M1742.3 1420.2H2311.6" stroke="#2a2a2a" stroke-width="2.2" stroke-linecap="round" fill="none"/>
</g>
<g filter="url(#b3)">
<rect x="2260.6" y="24.3" width="27.8" height="8.2" rx="0.8" fill="#f0141e" stroke="#e60012" stroke-width="1"/>
<rect x="2260.6" y="37.6" width="27.8" height="8.2" rx="0.8" fill="#8fd14a" stroke="#6ab82c" stroke-width="1"/>
<rect x="2263" y="40.6" width="23" height="2.2" fill="#fff" opacity="0.3"/>
<rect x="2260.6" y="50.9" width="27.8" height="8.2" rx="0.8" fill="#2ea02e" stroke="#1d8a1d" stroke-width="1"/>
<rect x="2263" y="53.9" width="23" height="2.2" fill="#fff" opacity="0.3"/>
<rect x="2260.6" y="64.2" width="27.8" height="8.2" rx="0.8" fill="#0a9a94" stroke="#0b4a44" stroke-width="1"/>
<rect x="2263" y="67.2" width="23" height="2.2" fill="#fff" opacity="0.3"/>
<rect x="2260.6" y="77.5" width="27.8" height="8.2" rx="0.8" fill="#ffd800" stroke="#ffb400" stroke-width="1"/>
<rect x="2260.6" y="90.8" width="27.8" height="8.2" rx="0.8" fill="#ff8a10" stroke="#ff5a00" stroke-width="1"/>
<rect x="2263" y="93.8" width="23" height="2.2" fill="#fff" opacity="0.3"/>
<rect x="2260.6" y="104" width="27.8" height="8.2" rx="0.8" fill="#8f8cb8" stroke="#34307a" stroke-width="1"/>
<rect x="2263" y="107" width="23" height="2.2" fill="#fff" opacity="0.3"/>
<rect x="2260.6" y="117.3" width="27.8" height="8.2" rx="0.8" fill="#f03068" stroke="#e8184e" stroke-width="1"/>
<rect x="2263" y="120.3" width="23" height="2.2" fill="#fff" opacity="0.3"/>
<rect x="2260.6" y="130.6" width="27.8" height="8.2" rx="0.8" fill="#ff9a4a" stroke="#ff7a20" stroke-width="1"/>
<rect x="2263" y="133.6" width="23" height="2.2" fill="#fff" opacity="0.3"/>
<rect x="2260.6" y="143.9" width="27.8" height="8.2" rx="0.8" fill="#3a2a86" stroke="#20145a" stroke-width="1"/>
<rect x="2263" y="146.9" width="23" height="2.2" fill="#fff" opacity="0.3"/>
<g font-family="'Liberation Serif', 'Times New Roman', serif" font-size="15.9" fill="#111" stroke="#111" stroke-width="0.8">
<text transform="translate(2294.3 30.9) scale(1.07 1)">motif5</text>
<text transform="translate(2294.3 44.2) scale(1.07 1)">motif7</text>
<text transform="translate(2294.3 57.5) scale(1.07 1)">motif1</text>
<text transform="translate(2294.3 70.8) scale(1.07 1)">motif4</text>
<text transform="translate(2294.3 84.1) scale(1.07 1)">motif2</text>
<text transform="translate(2294.3 97.3) scale(1.07 1)">motif8</text>
<text transform="translate(2294.3 110.6) scale(1.07 1)">motif6</text>
<text transform="translate(2294.3 123.9) scale(1.07 1)">motif3</text>
<text transform="translate(2294.3 137.2) scale(1.07 1)">motif10</text>
<text transform="translate(2294.3 150.5) scale(1.07 1)">motif9</text>
</g></g>
</svg>
</body></html>
